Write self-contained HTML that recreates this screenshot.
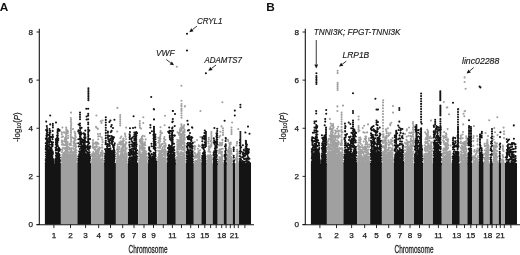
<!DOCTYPE html>
<html><head><meta charset="utf-8"><title>Manhattan plots</title>
<style>
html,body{margin:0;padding:0;background:#fff;}
body{width:520px;height:255px;overflow:hidden;}
svg{display:block;}
text{font-family:"Liberation Sans",Arial,Helvetica,sans-serif;fill:#1a1a1a;}
.tk{font-size:8.1px;stroke:#1a1a1a;stroke-width:0.25px;}
.ax{font-size:10.9px;fill:#222;stroke:#222;stroke-width:0.3px;}
.ay{font-size:8.3px;fill:#222;stroke:#222;stroke-width:0.2px;}
.an{font-size:8.5px;font-style:italic;stroke:#1a1a1a;stroke-width:0.15px;}
.pl{font-size:11.8px;font-weight:bold;fill:#111;}
</style></head><body>
<svg width="520" height="255" viewBox="0 0 520 255">
<rect width="520" height="255" fill="#fff"/>
<rect x="44.90" y="163.15" width="16.00" height="61.35" fill="#141414"/>
<rect x="60.90" y="163.15" width="16.50" height="61.35" fill="#a0a0a0"/>
<rect x="77.40" y="163.15" width="13.60" height="61.35" fill="#141414"/>
<rect x="91.00" y="163.15" width="13.15" height="61.35" fill="#a0a0a0"/>
<rect x="104.15" y="163.15" width="11.75" height="61.35" fill="#141414"/>
<rect x="115.90" y="163.15" width="12.00" height="61.35" fill="#a0a0a0"/>
<rect x="127.90" y="163.15" width="10.20" height="61.35" fill="#141414"/>
<rect x="138.10" y="163.15" width="9.90" height="61.35" fill="#a0a0a0"/>
<rect x="148.00" y="163.15" width="9.30" height="61.35" fill="#141414"/>
<rect x="157.30" y="163.15" width="9.60" height="61.35" fill="#a0a0a0"/>
<rect x="166.90" y="163.15" width="8.90" height="61.35" fill="#141414"/>
<rect x="175.80" y="163.15" width="10.20" height="61.35" fill="#a0a0a0"/>
<rect x="186.00" y="163.15" width="7.80" height="61.35" fill="#141414"/>
<rect x="193.80" y="163.15" width="7.60" height="61.35" fill="#a0a0a0"/>
<rect x="201.40" y="163.15" width="5.00" height="61.35" fill="#141414"/>
<rect x="206.40" y="163.15" width="6.30" height="61.35" fill="#a0a0a0"/>
<rect x="212.70" y="163.15" width="5.00" height="61.35" fill="#141414"/>
<rect x="217.70" y="163.15" width="6.00" height="61.35" fill="#a0a0a0"/>
<rect x="223.70" y="163.15" width="3.10" height="61.35" fill="#141414"/>
<rect x="226.80" y="163.15" width="6.00" height="61.35" fill="#a0a0a0"/>
<rect x="232.80" y="163.15" width="2.30" height="61.35" fill="#141414"/>
<rect x="235.10" y="163.15" width="3.90" height="61.35" fill="#a0a0a0"/>
<rect x="239.00" y="163.15" width="12.00" height="61.35" fill="#141414"/>
<path d="M74.2 157.0h.01M69.5 152.3h.01M64.4 132.7h.01M64.2 148.5h.01M65.3 154.6h.01M73.2 158.3h.01M73.4 148.2h.01M69.0 161.5h.01M70.3 161.7h.01M62.3 157.1h.01M72.3 154.9h.01M74.6 155.5h.01M64.0 162.3h.01M69.1 164.2h.01M68.3 158.4h.01M73.5 161.2h.01M75.1 163.6h.01M69.8 155.6h.01M65.3 148.0h.01M66.4 162.7h.01M66.4 163.9h.01M69.5 154.2h.01M70.5 161.1h.01M73.9 163.4h.01M65.5 162.4h.01M72.0 162.5h.01M73.4 145.8h.01M67.8 163.7h.01M65.0 159.6h.01M62.4 127.5h.01M73.0 157.3h.01M63.9 132.4h.01M62.4 150.1h.01M74.9 161.5h.01M67.6 162.8h.01M68.0 160.7h.01M62.3 163.5h.01M73.0 129.1h.01M65.5 161.6h.01M65.4 156.0h.01M75.5 157.9h.01M66.8 159.6h.01M70.8 137.4h.01M71.4 159.0h.01M66.8 163.7h.01M74.5 152.0h.01M74.8 155.0h.01M67.6 157.9h.01M67.4 145.0h.01M65.0 148.5h.01M64.5 159.9h.01M64.2 156.0h.01M65.0 162.0h.01M66.3 157.8h.01M76.4 158.2h.01M74.5 152.5h.01M67.4 162.0h.01M72.0 163.6h.01M65.8 159.6h.01M64.5 164.2h.01M67.6 161.2h.01M72.3 137.5h.01M67.1 161.1h.01M75.6 162.6h.01M73.1 159.7h.01M75.1 150.9h.01M66.5 164.1h.01M63.0 159.3h.01M66.6 142.0h.01M69.4 149.0h.01M67.6 163.8h.01M62.4 161.5h.01M70.6 162.6h.01M66.4 164.0h.01M69.8 158.6h.01M72.2 162.8h.01M72.5 161.2h.01M64.0 152.9h.01M65.9 162.0h.01M67.8 151.3h.01M74.5 159.2h.01M66.1 161.7h.01M65.0 159.9h.01M62.2 163.9h.01M70.1 153.9h.01M76.1 147.1h.01M71.7 160.7h.01M65.0 138.1h.01M71.6 152.1h.01M74.6 131.9h.01M71.1 161.6h.01M68.1 163.4h.01M62.7 159.1h.01M66.6 159.3h.01M65.9 157.2h.01M67.7 162.5h.01M64.3 157.6h.01M65.3 152.9h.01M66.8 163.3h.01M64.0 158.6h.01M72.1 155.2h.01M72.1 155.9h.01M67.6 164.1h.01M62.7 159.6h.01M62.6 158.9h.01M70.4 157.2h.01M66.6 157.7h.01M62.1 161.3h.01M74.9 159.9h.01M65.6 155.6h.01M64.5 152.8h.01M70.8 157.7h.01M67.1 132.0h.01M75.7 155.4h.01M71.0 148.9h.01M67.8 154.2h.01M65.9 158.7h.01M74.7 145.9h.01M61.8 132.4h.01M61.8 134.4h.01M61.8 137.3h.01M61.8 140.5h.01M61.8 142.3h.01M61.9 144.6h.01M61.8 149.6h.01M61.9 152.3h.01M61.8 157.5h.01M61.8 159.8h.01M61.9 161.6h.01M61.8 163.7h.01M62.1 152.0h.01M62.4 154.7h.01M62.5 156.7h.01M62.2 159.4h.01M62.2 161.5h.01M62.4 163.9h.01M63.0 136.5h.01M62.8 141.3h.01M62.7 143.6h.01M63.1 144.9h.01M62.9 147.7h.01M63.0 154.3h.01M62.7 155.7h.01M62.7 158.2h.01M62.9 159.9h.01M62.8 162.0h.01M63.4 154.2h.01M63.5 157.0h.01M63.3 158.4h.01M63.6 160.6h.01M63.5 162.2h.01M63.3 164.1h.01M64.3 152.8h.01M64.5 155.6h.01M64.4 157.7h.01M64.3 159.5h.01M64.2 161.8h.01M64.7 139.9h.01M64.8 141.4h.01M64.7 145.0h.01M65.1 147.7h.01M65.2 157.6h.01M64.9 159.5h.01M65.0 162.2h.01M64.9 163.8h.01M65.6 140.0h.01M65.5 142.8h.01M65.5 149.7h.01M65.4 151.5h.01M65.6 153.6h.01M65.6 157.2h.01M65.9 159.7h.01M65.5 161.6h.01M65.5 163.5h.01M66.3 138.9h.01M66.4 141.8h.01M66.4 150.2h.01M66.4 153.9h.01M66.2 155.8h.01M66.3 158.0h.01M66.3 159.3h.01M66.5 161.5h.01M66.6 163.0h.01M67.1 130.0h.01M67.0 133.5h.01M67.0 144.1h.01M67.1 146.1h.01M66.9 147.6h.01M67.0 149.0h.01M67.0 151.0h.01M67.0 155.8h.01M66.7 157.2h.01M67.1 158.5h.01M66.7 161.1h.01M66.9 163.0h.01M67.3 146.2h.01M67.2 152.0h.01M67.2 154.4h.01M67.4 155.8h.01M67.6 157.6h.01M67.3 159.9h.01M67.2 161.7h.01M67.5 163.9h.01M68.0 131.4h.01M67.8 133.0h.01M68.1 135.7h.01M68.1 138.1h.01M67.7 142.1h.01M67.9 144.0h.01M68.0 146.9h.01M67.9 149.2h.01M67.9 152.2h.01M67.7 157.0h.01M67.9 159.7h.01M68.0 161.6h.01M68.2 163.3h.01M68.5 147.0h.01M68.7 155.1h.01M68.8 157.4h.01M68.5 158.7h.01M68.8 161.0h.01M68.4 162.5h.01M69.1 157.5h.01M69.4 159.5h.01M69.0 162.3h.01M69.3 164.1h.01M70.0 143.5h.01M69.9 144.9h.01M69.7 148.2h.01M70.0 149.8h.01M70.0 156.7h.01M69.9 159.3h.01M70.1 160.6h.01M69.8 163.0h.01M70.2 152.0h.01M70.6 153.6h.01M70.5 155.4h.01M70.4 158.1h.01M70.3 160.1h.01M70.3 161.8h.01M70.4 163.6h.01M71.0 154.5h.01M70.8 156.4h.01M71.0 158.2h.01M71.0 159.8h.01M71.2 161.0h.01M71.2 162.2h.01M70.9 164.1h.01M71.6 148.1h.01M71.4 150.6h.01M71.7 152.2h.01M71.7 156.0h.01M71.8 157.3h.01M71.8 159.1h.01M71.4 161.6h.01M71.7 164.1h.01M72.1 156.0h.01M72.4 158.5h.01M72.1 161.3h.01M72.5 163.8h.01M73.0 152.1h.01M73.1 153.4h.01M72.7 155.7h.01M73.1 157.2h.01M72.8 159.3h.01M73.1 161.2h.01M72.9 162.6h.01M72.9 163.9h.01M73.8 138.6h.01M73.5 141.5h.01M73.6 143.3h.01M73.6 145.5h.01M73.6 149.5h.01M73.7 152.3h.01M73.8 153.9h.01M73.4 156.1h.01M73.8 158.7h.01M73.7 160.6h.01M73.6 163.5h.01M74.3 152.4h.01M74.1 155.8h.01M74.3 157.3h.01M74.3 159.8h.01M74.2 161.4h.01M74.3 163.6h.01M75.1 133.3h.01M75.1 135.7h.01M74.8 138.1h.01M74.8 139.4h.01M74.7 141.1h.01M74.8 143.1h.01M75.1 144.8h.01M74.8 155.8h.01M74.8 157.1h.01M74.9 159.7h.01M75.1 161.5h.01M74.8 163.6h.01M75.4 134.2h.01M75.8 137.0h.01M75.7 139.7h.01M75.6 147.3h.01M75.5 148.8h.01M75.7 150.8h.01M75.4 152.7h.01M75.9 154.7h.01M75.5 156.9h.01M75.8 158.7h.01M75.8 161.5h.01M75.4 164.2h.01M76.3 143.5h.01M76.0 146.3h.01M76.4 150.2h.01M76.3 152.6h.01M76.4 156.3h.01M76.2 159.1h.01M76.0 160.9h.01M76.3 163.4h.01M102.7 156.1h.01M94.7 143.4h.01M95.5 156.0h.01M100.3 162.4h.01M95.7 149.5h.01M99.8 158.7h.01M97.2 150.8h.01M93.0 163.0h.01M101.3 162.4h.01M99.2 157.2h.01M96.1 159.6h.01M103.0 162.3h.01M93.4 154.6h.01M98.7 151.7h.01M100.6 154.4h.01M101.8 154.6h.01M96.5 127.8h.01M96.1 153.4h.01M96.1 158.8h.01M95.9 153.5h.01M101.5 159.8h.01M99.6 147.5h.01M96.3 145.0h.01M94.8 153.6h.01M93.0 160.4h.01M102.4 147.6h.01M96.2 160.6h.01M93.5 163.0h.01M102.0 153.7h.01M94.8 163.4h.01M94.5 149.5h.01M95.9 142.4h.01M94.2 157.6h.01M96.7 160.8h.01M100.2 160.9h.01M99.2 164.0h.01M95.6 147.4h.01M93.3 162.1h.01M100.9 163.5h.01M92.1 154.7h.01M98.7 158.0h.01M92.3 160.3h.01M95.9 158.6h.01M96.0 126.9h.01M101.8 137.6h.01M93.3 155.4h.01M92.9 147.1h.01M91.9 156.1h.01M92.1 159.7h.01M91.9 162.2h.01M92.6 146.5h.01M92.4 153.7h.01M92.8 154.9h.01M92.5 156.7h.01M92.7 158.8h.01M92.7 160.6h.01M92.3 161.8h.01M93.1 140.1h.01M92.9 142.0h.01M93.1 143.9h.01M92.9 145.3h.01M92.8 147.4h.01M93.2 152.1h.01M93.1 155.0h.01M92.9 159.1h.01M93.2 160.7h.01M92.9 162.7h.01M93.1 164.3h.01M93.6 148.1h.01M93.4 152.2h.01M93.5 153.5h.01M93.6 154.7h.01M93.5 158.8h.01M93.6 160.5h.01M93.4 163.1h.01M93.9 156.1h.01M94.0 160.2h.01M94.2 162.0h.01M94.3 163.7h.01M94.8 146.9h.01M94.6 153.8h.01M94.8 155.4h.01M95.0 158.2h.01M94.9 159.6h.01M94.6 161.3h.01M94.8 162.6h.01M95.4 159.0h.01M95.3 160.7h.01M95.2 162.4h.01M95.9 150.7h.01M96.0 151.9h.01M95.8 154.0h.01M96.0 156.5h.01M95.9 161.5h.01M95.9 163.6h.01M96.5 144.0h.01M96.6 146.8h.01M96.7 153.2h.01M96.7 157.6h.01M96.8 160.0h.01M96.6 162.1h.01M96.8 163.9h.01M97.0 154.0h.01M97.1 156.0h.01M96.9 161.5h.01M97.1 163.1h.01M97.4 142.6h.01M97.5 146.8h.01M97.4 151.1h.01M97.7 156.4h.01M97.5 158.9h.01M97.5 161.0h.01M97.9 163.2h.01M97.9 128.9h.01M97.9 134.0h.01M98.3 136.4h.01M98.2 139.3h.01M98.1 149.1h.01M97.9 151.5h.01M98.0 152.7h.01M98.1 154.3h.01M98.3 159.0h.01M98.2 161.2h.01M97.9 163.0h.01M98.4 143.9h.01M98.8 150.6h.01M98.6 159.5h.01M98.5 160.7h.01M98.5 163.6h.01M99.1 149.8h.01M98.9 155.1h.01M99.3 156.3h.01M99.1 158.0h.01M98.9 159.6h.01M99.2 161.4h.01M99.1 163.9h.01M99.8 160.6h.01M99.6 162.9h.01M100.1 133.9h.01M100.2 136.2h.01M100.1 148.1h.01M100.5 153.0h.01M100.3 156.8h.01M100.6 159.4h.01M100.5 161.7h.01M100.5 164.1h.01M101.1 152.6h.01M100.7 156.2h.01M100.7 161.9h.01M101.0 163.3h.01M101.5 153.5h.01M101.6 154.7h.01M101.4 160.4h.01M101.4 162.6h.01M102.4 139.8h.01M102.1 144.7h.01M102.1 147.4h.01M102.1 150.5h.01M102.2 152.1h.01M102.2 154.4h.01M102.3 155.7h.01M102.3 158.9h.01M102.2 160.1h.01M102.3 162.5h.01M102.2 164.1h.01M102.6 142.1h.01M102.6 152.3h.01M103.0 153.7h.01M102.6 156.0h.01M102.6 158.2h.01M103.0 160.4h.01M102.7 163.0h.01M124.9 162.3h.01M123.3 154.2h.01M120.5 163.5h.01M117.9 150.6h.01M121.0 163.9h.01M123.2 144.3h.01M117.6 161.6h.01M125.4 145.4h.01M118.9 151.7h.01M116.9 149.8h.01M120.1 162.4h.01M117.2 131.5h.01M124.3 162.5h.01M119.5 149.3h.01M125.5 163.5h.01M126.1 127.6h.01M117.7 155.6h.01M123.4 150.3h.01M124.5 145.7h.01M126.8 157.0h.01M121.3 157.9h.01M124.8 153.8h.01M126.4 155.1h.01M125.9 161.0h.01M120.3 142.3h.01M122.9 164.0h.01M126.6 154.2h.01M124.2 155.8h.01M118.5 149.5h.01M121.3 152.9h.01M119.6 161.8h.01M124.3 159.6h.01M120.1 156.0h.01M124.8 163.8h.01M125.3 149.7h.01M117.4 148.2h.01M121.5 160.9h.01M125.2 160.7h.01M116.9 162.0h.01M117.3 158.1h.01M123.0 164.0h.01M122.3 154.7h.01M122.5 163.6h.01M119.9 156.6h.01M118.4 161.7h.01M120.5 157.5h.01M123.7 155.1h.01M123.0 161.0h.01M124.4 161.2h.01M122.9 162.0h.01M125.0 150.4h.01M126.1 156.4h.01M124.9 133.6h.01M123.2 161.1h.01M118.6 162.9h.01M123.4 163.3h.01M126.2 159.2h.01M122.2 147.2h.01M120.1 160.0h.01M117.9 163.8h.01M119.8 142.9h.01M126.8 164.3h.01M124.7 159.4h.01M126.7 158.0h.01M121.6 163.5h.01M117.0 153.5h.01M120.3 138.3h.01M117.6 152.5h.01M116.9 158.7h.01M116.9 160.8h.01M116.8 162.9h.01M116.8 164.3h.01M117.5 153.3h.01M117.3 154.8h.01M117.1 156.7h.01M117.3 159.1h.01M117.2 161.7h.01M117.3 163.5h.01M117.7 144.5h.01M117.7 146.6h.01M118.0 148.7h.01M117.7 152.0h.01M118.1 154.2h.01M117.6 155.8h.01M117.7 157.8h.01M117.9 159.3h.01M117.9 160.7h.01M117.9 162.3h.01M118.6 151.5h.01M118.4 155.9h.01M118.6 157.2h.01M118.8 158.6h.01M118.6 160.0h.01M118.5 161.2h.01M118.4 162.9h.01M118.5 164.2h.01M119.4 142.3h.01M119.2 144.0h.01M119.4 147.1h.01M119.4 156.9h.01M119.5 159.0h.01M119.3 160.7h.01M119.3 162.5h.01M119.3 163.7h.01M120.0 156.3h.01M119.9 158.5h.01M120.1 160.6h.01M120.0 162.5h.01M120.8 151.5h.01M120.7 154.3h.01M120.7 157.0h.01M120.5 159.7h.01M120.7 162.5h.01M121.3 136.6h.01M121.0 141.4h.01M121.2 142.9h.01M121.0 144.7h.01M121.5 148.4h.01M121.4 150.3h.01M121.4 155.8h.01M121.3 157.1h.01M121.1 159.9h.01M121.2 161.9h.01M121.1 164.2h.01M121.8 153.8h.01M121.7 155.5h.01M121.9 157.8h.01M121.9 160.6h.01M121.9 162.4h.01M122.4 141.9h.01M122.7 144.0h.01M122.8 145.8h.01M122.6 147.2h.01M122.7 150.9h.01M122.4 152.4h.01M122.6 154.0h.01M122.5 158.1h.01M122.5 160.6h.01M122.8 162.1h.01M122.6 164.0h.01M123.1 138.9h.01M123.1 140.5h.01M122.9 142.1h.01M123.0 143.7h.01M123.0 149.0h.01M123.3 150.7h.01M123.0 154.5h.01M123.1 156.5h.01M123.0 157.9h.01M123.3 159.6h.01M123.0 161.0h.01M123.2 162.6h.01M123.5 138.6h.01M123.9 140.7h.01M123.5 147.4h.01M123.7 157.7h.01M123.6 160.5h.01M123.6 163.1h.01M123.9 157.5h.01M124.0 159.2h.01M124.2 160.5h.01M124.2 162.0h.01M124.9 144.3h.01M124.9 147.0h.01M124.9 149.8h.01M124.7 152.2h.01M124.8 157.8h.01M124.9 159.3h.01M124.6 161.8h.01M124.5 163.8h.01M125.3 135.0h.01M125.5 136.7h.01M125.4 146.0h.01M125.2 149.2h.01M125.6 151.3h.01M125.2 153.6h.01M125.4 157.1h.01M125.2 159.0h.01M125.3 160.6h.01M125.3 162.4h.01M126.0 139.2h.01M125.9 142.3h.01M125.6 144.6h.01M125.9 148.3h.01M125.7 149.9h.01M126.1 154.7h.01M125.8 157.3h.01M125.9 160.2h.01M125.7 162.4h.01M125.9 164.2h.01M126.3 142.9h.01M126.7 148.3h.01M126.7 153.4h.01M126.8 155.3h.01M126.5 157.5h.01M126.4 159.7h.01M126.6 161.4h.01M126.5 162.7h.01M146.4 163.0h.01M144.0 160.0h.01M146.7 163.7h.01M144.5 136.3h.01M142.8 153.0h.01M140.8 157.7h.01M145.8 162.6h.01M145.0 154.7h.01M142.3 150.3h.01M141.5 156.0h.01M142.5 153.2h.01M141.4 148.3h.01M139.7 159.3h.01M140.7 163.9h.01M142.4 164.2h.01M146.1 159.4h.01M147.0 163.9h.01M145.7 163.3h.01M141.0 159.7h.01M141.9 154.5h.01M140.1 164.2h.01M144.8 152.5h.01M141.0 128.6h.01M143.2 160.0h.01M142.3 160.9h.01M141.0 138.7h.01M146.4 158.6h.01M145.6 158.1h.01M141.8 156.4h.01M144.3 151.0h.01M147.1 159.3h.01M145.9 163.3h.01M144.7 151.0h.01M145.1 157.6h.01M144.4 163.9h.01M139.1 151.9h.01M139.0 153.9h.01M139.0 156.4h.01M139.2 159.0h.01M139.1 160.8h.01M139.0 163.0h.01M139.9 140.0h.01M139.7 141.3h.01M139.7 145.6h.01M139.8 147.7h.01M139.9 149.1h.01M139.6 150.7h.01M139.7 155.4h.01M139.8 160.9h.01M139.6 162.3h.01M140.5 143.1h.01M140.2 146.6h.01M140.2 152.3h.01M140.4 154.0h.01M140.1 155.2h.01M140.3 157.0h.01M140.2 159.7h.01M140.1 162.6h.01M141.0 159.1h.01M141.1 161.2h.01M141.0 162.7h.01M141.2 139.7h.01M141.2 141.4h.01M141.4 143.3h.01M141.7 144.6h.01M141.4 146.7h.01M141.3 148.5h.01M141.5 155.8h.01M141.2 158.2h.01M141.5 160.2h.01M141.2 161.4h.01M141.3 163.5h.01M141.9 136.7h.01M141.9 138.0h.01M141.9 139.5h.01M142.1 142.1h.01M142.1 144.7h.01M142.3 145.9h.01M142.1 148.1h.01M142.1 150.1h.01M141.9 160.5h.01M141.8 163.1h.01M142.7 135.7h.01M142.7 139.2h.01M142.7 141.6h.01M142.7 143.0h.01M142.4 144.5h.01M142.5 146.7h.01M142.6 149.5h.01M142.4 150.8h.01M142.4 153.0h.01M142.5 156.8h.01M142.6 158.5h.01M142.6 159.9h.01M142.4 161.6h.01M142.7 162.9h.01M143.2 143.8h.01M143.1 145.0h.01M143.1 148.7h.01M143.2 153.8h.01M143.2 156.4h.01M143.2 159.0h.01M142.9 160.2h.01M142.8 161.8h.01M143.7 153.0h.01M143.4 155.2h.01M143.5 159.7h.01M143.5 162.1h.01M144.1 145.2h.01M143.8 147.5h.01M144.1 149.0h.01M143.9 151.6h.01M143.9 153.5h.01M144.0 156.9h.01M144.1 159.0h.01M144.3 161.2h.01M144.1 163.4h.01M144.8 143.9h.01M144.4 150.0h.01M144.4 152.0h.01M144.4 154.5h.01M144.6 157.8h.01M144.4 159.0h.01M144.8 160.8h.01M144.5 162.7h.01M145.0 142.2h.01M145.3 145.2h.01M144.9 148.0h.01M145.3 151.8h.01M145.3 153.9h.01M145.2 155.4h.01M145.0 159.5h.01M144.9 161.8h.01M144.9 164.2h.01M145.7 139.4h.01M145.9 151.3h.01M145.7 152.7h.01M145.5 155.5h.01M145.6 156.8h.01M145.8 158.6h.01M145.5 161.4h.01M145.6 163.8h.01M146.3 157.6h.01M146.3 160.4h.01M146.0 162.9h.01M146.7 153.9h.01M146.8 156.7h.01M146.7 157.9h.01M146.8 162.0h.01M146.6 164.3h.01M161.6 158.2h.01M165.2 150.4h.01M163.7 158.0h.01M162.5 155.7h.01M160.4 161.8h.01M165.9 161.3h.01M159.9 164.1h.01M164.6 162.0h.01M160.6 152.7h.01M163.4 163.2h.01M163.2 150.0h.01M162.9 151.2h.01M164.4 164.0h.01M159.5 143.0h.01M165.9 159.3h.01M164.6 125.2h.01M159.4 145.0h.01M164.6 142.6h.01M165.3 162.0h.01M165.3 146.8h.01M158.9 140.5h.01M164.5 162.4h.01M160.9 162.4h.01M164.7 148.1h.01M161.4 159.0h.01M166.0 151.9h.01M160.9 154.0h.01M159.7 161.5h.01M163.8 154.5h.01M164.0 161.7h.01M162.7 154.7h.01M161.4 156.5h.01M162.4 164.2h.01M165.1 153.0h.01M158.4 137.8h.01M158.2 142.5h.01M158.2 147.6h.01M158.3 150.7h.01M158.2 157.5h.01M158.2 159.6h.01M158.3 161.8h.01M158.3 163.2h.01M158.9 154.2h.01M159.0 156.1h.01M158.7 161.2h.01M159.0 163.2h.01M159.5 140.8h.01M159.4 145.0h.01M159.6 147.8h.01M159.5 150.7h.01M159.5 152.1h.01M159.5 153.4h.01M159.3 155.2h.01M159.6 156.6h.01M159.6 158.9h.01M159.3 161.5h.01M159.2 163.6h.01M160.1 137.7h.01M159.8 138.9h.01M159.8 146.7h.01M160.1 147.9h.01M160.1 150.8h.01M159.9 153.2h.01M160.0 154.8h.01M159.6 156.3h.01M159.7 158.1h.01M159.7 159.4h.01M159.8 162.2h.01M159.7 163.5h.01M160.5 127.3h.01M160.6 131.1h.01M160.3 132.6h.01M160.5 134.7h.01M160.2 136.4h.01M160.4 138.9h.01M160.3 141.2h.01M160.5 145.5h.01M160.5 151.3h.01M160.3 156.8h.01M160.5 159.9h.01M160.5 162.2h.01M160.8 146.1h.01M161.1 152.4h.01M161.2 159.3h.01M161.1 161.5h.01M160.9 163.3h.01M161.7 144.4h.01M161.6 152.2h.01M161.6 156.1h.01M161.7 159.8h.01M161.8 162.5h.01M161.4 164.1h.01M162.3 148.9h.01M161.9 150.6h.01M162.1 152.3h.01M161.9 154.5h.01M162.2 157.2h.01M162.2 159.9h.01M162.1 161.5h.01M162.8 143.8h.01M162.7 147.3h.01M163.0 149.9h.01M162.6 151.5h.01M163.0 155.1h.01M162.6 159.6h.01M163.0 162.1h.01M163.0 164.2h.01M163.5 154.5h.01M163.4 159.9h.01M163.3 162.0h.01M163.4 163.8h.01M164.4 137.0h.01M164.0 138.7h.01M164.2 141.4h.01M164.2 145.7h.01M164.0 149.8h.01M164.2 152.0h.01M164.0 153.6h.01M164.0 155.2h.01M164.3 160.1h.01M163.9 161.9h.01M164.2 163.4h.01M165.0 157.4h.01M164.9 159.1h.01M165.0 161.7h.01M164.8 163.3h.01M165.4 139.7h.01M165.4 143.7h.01M165.6 145.4h.01M165.3 149.7h.01M165.6 151.1h.01M165.6 152.9h.01M165.6 154.4h.01M165.5 156.5h.01M165.6 160.8h.01M165.5 162.2h.01M182.4 158.6h.01M178.7 157.4h.01M183.0 162.0h.01M183.2 155.5h.01M180.4 162.1h.01M178.2 163.1h.01M179.0 159.9h.01M177.6 132.3h.01M177.5 156.8h.01M177.6 141.7h.01M179.4 144.1h.01M177.5 159.7h.01M177.3 154.1h.01M181.2 152.8h.01M182.2 161.0h.01M177.2 151.5h.01M184.1 138.8h.01M184.5 147.6h.01M177.8 160.0h.01M184.4 158.4h.01M177.6 152.5h.01M183.5 149.8h.01M182.1 157.9h.01M180.3 142.9h.01M181.5 148.1h.01M183.8 148.3h.01M178.3 162.7h.01M179.6 155.1h.01M176.7 160.7h.01M185.1 158.2h.01M178.5 158.9h.01M181.7 159.5h.01M178.1 164.1h.01M179.8 156.6h.01M177.8 151.9h.01M184.4 163.7h.01M182.1 149.8h.01M178.3 154.7h.01M180.4 162.7h.01M180.6 152.3h.01M177.4 157.1h.01M178.7 133.4h.01M183.5 159.2h.01M179.8 133.7h.01M183.8 158.1h.01M177.7 157.3h.01M179.5 161.8h.01M177.2 164.3h.01M183.7 140.9h.01M179.3 145.9h.01M184.6 159.9h.01M180.3 163.8h.01M182.9 159.6h.01M185.1 152.3h.01M181.8 128.9h.01M181.7 138.3h.01M181.0 161.9h.01M184.3 161.1h.01M176.7 157.3h.01M176.7 159.2h.01M176.7 161.1h.01M176.8 163.2h.01M177.3 139.7h.01M177.2 142.2h.01M177.3 144.2h.01M177.3 146.0h.01M177.3 148.0h.01M177.2 149.5h.01M177.0 152.0h.01M177.4 158.1h.01M177.1 160.1h.01M177.4 161.8h.01M177.4 164.3h.01M178.1 154.9h.01M177.9 156.9h.01M177.9 158.5h.01M177.8 160.2h.01M177.9 163.1h.01M178.6 141.8h.01M178.4 144.2h.01M178.7 146.4h.01M178.5 149.0h.01M178.3 151.5h.01M178.6 153.4h.01M178.3 157.2h.01M178.4 159.5h.01M178.4 161.9h.01M179.0 134.8h.01M178.9 140.4h.01M179.3 143.8h.01M178.9 145.7h.01M179.1 147.3h.01M179.2 149.2h.01M178.9 157.1h.01M178.9 159.7h.01M179.2 162.3h.01M179.3 164.2h.01M179.8 143.4h.01M179.3 145.2h.01M179.4 147.2h.01M179.7 149.6h.01M179.6 154.3h.01M179.4 156.2h.01M179.6 157.6h.01M179.4 160.4h.01M179.4 161.9h.01M180.1 156.5h.01M180.1 158.1h.01M180.2 160.2h.01M180.0 162.8h.01M180.7 134.0h.01M180.8 135.8h.01M180.9 142.3h.01M180.7 145.0h.01M180.9 147.7h.01M180.5 153.9h.01M180.6 156.2h.01M180.7 158.9h.01M180.7 160.5h.01M180.6 162.0h.01M180.7 163.4h.01M181.3 140.5h.01M181.1 143.8h.01M181.2 145.4h.01M181.4 147.0h.01M181.4 148.4h.01M181.1 152.1h.01M181.3 156.9h.01M181.4 158.9h.01M181.3 160.2h.01M181.2 162.1h.01M181.8 144.2h.01M181.8 146.9h.01M181.9 149.5h.01M181.8 154.0h.01M181.9 159.1h.01M182.0 161.5h.01M181.8 163.0h.01M182.2 154.6h.01M182.2 157.2h.01M182.3 159.9h.01M182.5 161.4h.01M182.3 164.1h.01M183.0 142.4h.01M182.9 147.1h.01M182.8 149.4h.01M182.9 152.6h.01M182.6 155.2h.01M182.6 157.4h.01M182.9 159.9h.01M182.6 161.2h.01M182.9 164.0h.01M183.5 131.4h.01M183.7 132.6h.01M183.6 134.1h.01M183.6 136.6h.01M183.5 139.2h.01M183.4 143.5h.01M183.6 147.5h.01M183.7 153.5h.01M183.6 157.5h.01M183.4 159.8h.01M183.5 161.2h.01M183.3 162.5h.01M183.8 164.0h.01M184.0 148.0h.01M184.3 149.6h.01M184.1 157.9h.01M184.0 159.1h.01M183.9 161.6h.01M184.2 163.7h.01M184.5 132.3h.01M184.6 134.9h.01M184.7 137.9h.01M184.6 139.7h.01M184.4 143.8h.01M184.8 145.6h.01M184.6 148.4h.01M184.6 150.6h.01M184.6 154.6h.01M184.6 155.9h.01M184.9 158.5h.01M184.8 161.0h.01M184.7 162.8h.01M200.3 160.3h.01M199.0 160.9h.01M194.7 147.4h.01M196.6 157.6h.01M195.2 146.2h.01M194.8 152.8h.01M197.5 154.6h.01M200.4 137.0h.01M198.8 146.3h.01M198.1 159.4h.01M199.0 158.6h.01M194.7 141.9h.01M194.8 145.8h.01M194.8 148.0h.01M194.7 149.6h.01M194.9 153.5h.01M194.9 156.3h.01M194.8 158.0h.01M194.7 162.1h.01M195.5 160.7h.01M195.5 162.1h.01M195.8 155.2h.01M195.6 157.2h.01M195.8 162.1h.01M196.7 160.7h.01M196.5 164.0h.01M197.2 154.2h.01M197.0 155.7h.01M197.0 157.3h.01M197.0 161.3h.01M197.2 162.6h.01M197.8 148.7h.01M197.8 154.2h.01M197.6 156.6h.01M198.7 145.3h.01M198.6 151.3h.01M198.4 152.6h.01M198.3 154.1h.01M198.6 156.2h.01M198.6 159.1h.01M198.5 163.7h.01M199.0 157.4h.01M199.2 159.8h.01M198.9 162.4h.01M198.9 164.3h.01M199.8 146.3h.01M200.0 150.3h.01M199.8 153.0h.01M199.6 154.2h.01M199.6 156.0h.01M199.6 157.3h.01M200.0 160.6h.01M199.6 162.1h.01M200.3 159.8h.01M200.2 162.6h.01M210.6 157.1h.01M211.4 161.1h.01M208.3 163.0h.01M208.1 159.3h.01M208.7 162.9h.01M210.0 164.3h.01M207.9 156.0h.01M209.2 150.2h.01M211.3 156.1h.01M207.8 157.1h.01M208.0 160.1h.01M208.4 141.5h.01M209.3 163.6h.01M210.8 160.1h.01M207.3 156.1h.01M207.3 160.9h.01M207.3 163.2h.01M208.2 155.4h.01M208.1 157.2h.01M208.1 163.1h.01M208.8 137.7h.01M208.8 139.3h.01M208.3 141.6h.01M208.6 143.5h.01M208.8 146.3h.01M208.8 149.1h.01M208.4 151.5h.01M208.7 157.7h.01M208.5 159.4h.01M208.8 161.9h.01M209.2 147.4h.01M209.0 151.5h.01M209.0 156.1h.01M209.1 160.0h.01M209.4 162.9h.01M209.7 158.6h.01M209.8 162.3h.01M209.6 163.9h.01M210.5 141.0h.01M210.5 145.6h.01M210.3 147.4h.01M210.4 152.0h.01M210.3 154.6h.01M210.3 156.6h.01M210.5 158.3h.01M210.4 160.0h.01M210.1 162.2h.01M210.1 163.8h.01M210.8 158.1h.01M211.2 162.1h.01M211.1 163.5h.01M211.4 157.0h.01M211.6 159.2h.01M211.7 163.6h.01M219.8 151.1h.01M221.5 126.4h.01M220.4 131.7h.01M222.7 148.8h.01M222.3 163.2h.01M220.2 135.7h.01M219.0 159.6h.01M220.4 152.6h.01M219.4 159.5h.01M218.8 145.0h.01M219.2 137.2h.01M219.7 158.3h.01M218.9 163.7h.01M218.7 163.1h.01M219.9 161.4h.01M222.4 155.8h.01M222.2 156.9h.01M222.1 158.8h.01M220.2 161.5h.01M218.8 150.7h.01M218.6 153.2h.01M218.6 159.8h.01M218.6 161.6h.01M218.6 163.4h.01M219.0 145.4h.01M219.5 149.6h.01M219.0 150.8h.01M219.3 157.1h.01M219.1 159.5h.01M219.4 161.0h.01M219.3 163.9h.01M219.9 142.9h.01M220.0 144.9h.01M219.6 149.6h.01M219.7 150.8h.01M220.0 152.8h.01M219.8 157.8h.01M220.0 160.6h.01M219.6 162.3h.01M219.6 163.7h.01M220.7 159.2h.01M220.3 160.8h.01M220.8 162.1h.01M220.5 163.8h.01M221.4 143.3h.01M221.0 145.4h.01M221.3 149.1h.01M221.1 151.7h.01M221.1 153.9h.01M221.4 158.8h.01M221.1 160.5h.01M221.4 163.1h.01M221.7 143.2h.01M222.0 145.0h.01M221.8 153.1h.01M221.6 156.4h.01M221.7 157.6h.01M221.6 159.8h.01M221.8 161.3h.01M221.7 162.9h.01M222.4 139.9h.01M222.3 142.6h.01M222.1 144.4h.01M222.1 151.7h.01M222.3 155.2h.01M222.1 160.2h.01M222.3 162.6h.01M222.6 163.9h.01M227.9 139.7h.01M230.1 152.7h.01M228.8 164.3h.01M229.7 163.0h.01M229.0 157.6h.01M231.2 151.9h.01M229.3 164.1h.01M229.9 161.6h.01M230.7 159.5h.01M228.4 159.1h.01M228.9 149.0h.01M231.0 159.1h.01M228.3 159.5h.01M228.2 158.7h.01M227.8 156.0h.01M231.1 162.3h.01M229.6 155.2h.01M228.2 141.0h.01M228.8 161.2h.01M227.7 150.5h.01M227.7 151.8h.01M227.7 154.6h.01M227.9 156.6h.01M227.7 158.1h.01M227.7 159.9h.01M227.7 161.4h.01M227.7 163.7h.01M228.4 152.5h.01M228.5 161.2h.01M228.4 162.5h.01M228.2 163.9h.01M229.1 147.4h.01M229.1 149.1h.01M229.0 150.5h.01M228.8 152.6h.01M228.8 155.2h.01M229.1 159.8h.01M228.7 162.4h.01M228.9 163.8h.01M229.3 143.0h.01M229.6 145.1h.01M229.7 146.8h.01M229.7 148.4h.01M229.6 151.8h.01M229.7 153.5h.01M229.7 154.8h.01M229.2 156.8h.01M229.3 162.4h.01M229.3 164.0h.01M230.2 152.5h.01M230.1 157.5h.01M230.0 160.2h.01M230.1 162.1h.01M230.2 163.7h.01M230.8 142.6h.01M230.7 144.1h.01M230.9 148.8h.01M230.9 150.5h.01M230.7 153.6h.01M230.5 156.3h.01M230.7 157.5h.01M230.7 159.1h.01M230.8 160.6h.01M230.9 163.3h.01M231.1 156.7h.01M231.1 160.5h.01M230.9 162.8h.01M231.6 153.9h.01M231.8 158.0h.01M231.8 159.9h.01M231.9 161.1h.01M231.9 163.9h.01M236.1 158.4h.01M237.2 155.5h.01M237.2 158.7h.01M236.5 145.5h.01M237.6 159.6h.01M237.4 163.6h.01M236.1 159.2h.01M236.6 160.4h.01M236.6 164.0h.01M237.1 141.9h.01M237.0 143.5h.01M237.2 149.8h.01M237.0 151.5h.01M236.8 154.4h.01M236.9 156.4h.01M236.9 160.3h.01M237.0 162.2h.01M237.1 164.3h.01M237.6 151.6h.01M237.9 153.4h.01M237.4 155.3h.01M237.7 156.8h.01M237.8 159.0h.01M237.8 161.9h.01M237.5 164.0h.01M176.8 66.8h.01M181.4 85.8h.01M181.4 100.8h.01M181.4 105.7h.01M185.0 106.2h.01M181.4 109.5h.01M222.4 102.3h.01M117.5 107.8h.01M200.4 111.0h.01M71.0 112.6h.01M96.4 115.5h.01M100.7 121.3h.01M102.5 120.5h.01M101.5 123.0h.01M117.4 108.0h.01M143.3 117.3h.01M143.3 123.0h.01M165.0 115.8h.01M162.0 133.0h.01M184.9 106.4h.01M232.1 122.5h.01M238.2 129.0h.01M197.0 140.0h.01M70.8 118.0h.01M71.1 119.8h.01M70.8 121.6h.01M71.3 123.4h.01M71.1 125.2h.01M71.0 127.0h.01M70.9 128.8h.01M71.0 130.6h.01M71.0 132.4h.01M70.8 134.2h.01M70.8 136.0h.01M71.0 137.8h.01M71.0 139.6h.01M71.1 141.4h.01M70.8 143.2h.01M71.1 145.0h.01M66.2 127.5h.01M66.3 129.3h.01M66.2 131.1h.01M66.1 132.9h.01M66.1 134.7h.01M66.1 136.5h.01M66.2 138.3h.01M66.3 140.1h.01M66.3 141.9h.01M66.1 143.7h.01M66.1 145.5h.01M120.2 115.0h.01M120.2 117.1h.01M120.2 119.2h.01M120.2 121.3h.01M120.2 123.4h.01M120.2 125.5h.01M139.8 121.0h.01M139.8 123.2h.01M139.8 125.4h.01M139.8 127.6h.01M181.5 104.0h.01M181.5 106.3h.01M181.5 108.6h.01M181.5 110.9h.01M181.5 113.2h.01M181.5 115.5h.01M181.5 117.8h.01M181.3 124.4h.01M181.6 126.0h.01M182.5 127.6h.01M181.8 129.2h.01M181.4 130.8h.01M182.8 132.4h.01M181.6 134.0h.01M182.3 135.6h.01M181.5 137.2h.01M181.3 138.8h.01M182.7 140.4h.01M182.7 142.0h.01M182.1 143.6h.01M181.6 145.2h.01M184.2 125.0h.01M183.7 126.6h.01M183.8 128.2h.01M184.6 129.8h.01M184.5 131.4h.01M183.5 133.0h.01M184.4 134.6h.01M184.0 136.2h.01M183.8 137.8h.01M183.9 139.4h.01M183.5 141.0h.01M184.5 142.6h.01M184.0 144.2h.01M184.4 145.8h.01M180.6 128.0h.01M179.8 129.6h.01M180.0 131.2h.01M179.9 132.8h.01M180.5 134.4h.01M180.5 136.0h.01M179.9 137.6h.01M180.3 139.2h.01M180.2 140.8h.01M180.0 142.4h.01M180.6 144.0h.01M180.3 145.6h.01M211.4 132.0h.01M211.4 134.0h.01M211.4 136.0h.01M211.4 138.0h.01M211.4 140.0h.01M211.4 142.0h.01M211.4 144.0h.01M211.4 146.0h.01M223.0 128.3h.01M223.0 130.5h.01M223.0 132.7h.01M223.0 134.9h.01M231.5 127.5h.01M231.5 129.7h.01M231.5 131.9h.01M231.5 134.1h.01" stroke="#a0a0a0" stroke-width="2.1" stroke-linecap="round" fill="none"/>
<path d="M52.4 137.4h.01M53.1 162.2h.01M57.1 154.0h.01M50.1 163.3h.01M57.3 163.4h.01M46.4 152.0h.01M59.5 130.0h.01M48.0 154.4h.01M53.3 164.2h.01M48.5 163.7h.01M46.2 161.5h.01M52.1 157.8h.01M52.9 153.7h.01M52.3 153.0h.01M60.0 160.9h.01M57.7 129.4h.01M49.1 160.4h.01M46.8 160.8h.01M51.5 149.2h.01M51.3 144.8h.01M57.8 131.2h.01M48.8 164.3h.01M52.5 139.2h.01M51.4 137.0h.01M56.9 154.0h.01M47.0 161.1h.01M59.5 160.1h.01M47.5 149.5h.01M47.2 161.4h.01M57.1 163.7h.01M53.7 162.3h.01M48.5 158.2h.01M47.7 150.6h.01M47.5 153.6h.01M48.8 158.6h.01M59.6 161.1h.01M50.1 147.4h.01M48.8 141.8h.01M57.9 159.1h.01M47.2 153.6h.01M48.8 134.8h.01M50.5 148.9h.01M46.8 160.7h.01M54.1 163.4h.01M54.3 161.4h.01M52.2 159.5h.01M52.7 130.9h.01M58.1 155.4h.01M48.0 162.2h.01M57.4 139.4h.01M48.5 161.4h.01M59.2 150.3h.01M59.3 162.1h.01M47.3 158.6h.01M59.5 163.9h.01M55.8 161.5h.01M57.5 161.2h.01M50.0 154.9h.01M56.0 162.3h.01M49.0 163.6h.01M57.9 155.8h.01M49.8 154.4h.01M48.7 138.3h.01M49.6 164.2h.01M46.7 158.2h.01M51.0 162.3h.01M47.7 155.5h.01M58.5 159.7h.01M47.8 155.2h.01M46.1 164.0h.01M55.8 139.2h.01M46.1 130.0h.01M52.6 153.8h.01M50.3 150.6h.01M46.9 131.3h.01M58.6 150.4h.01M55.8 150.4h.01M58.8 147.9h.01M55.5 159.8h.01M58.2 140.2h.01M57.0 158.7h.01M51.2 154.1h.01M54.9 163.5h.01M58.3 129.1h.01M56.2 159.2h.01M52.1 155.3h.01M47.0 145.3h.01M46.2 149.9h.01M52.6 154.7h.01M55.7 161.6h.01M49.4 137.9h.01M50.1 164.2h.01M48.7 152.5h.01M58.7 162.4h.01M52.1 153.1h.01M50.4 141.1h.01M48.6 152.9h.01M57.2 158.5h.01M58.3 138.7h.01M47.7 160.4h.01M57.7 157.2h.01M55.9 144.6h.01M49.7 133.0h.01M52.2 162.4h.01M48.8 161.0h.01M45.8 138.7h.01M45.8 143.3h.01M45.9 145.9h.01M45.9 148.1h.01M45.8 149.3h.01M45.8 152.2h.01M45.9 154.5h.01M46.0 156.8h.01M45.8 159.1h.01M45.8 160.6h.01M45.8 163.0h.01M46.7 143.6h.01M46.4 146.0h.01M46.6 150.1h.01M46.3 154.6h.01M46.5 157.0h.01M46.7 159.5h.01M46.5 162.3h.01M46.8 126.1h.01M47.1 128.0h.01M47.2 130.0h.01M47.1 132.8h.01M47.0 134.3h.01M47.0 142.5h.01M47.2 146.4h.01M46.9 148.6h.01M47.0 155.6h.01M47.0 157.1h.01M47.2 159.3h.01M47.2 161.4h.01M47.1 163.6h.01M47.4 131.0h.01M47.5 135.6h.01M47.8 139.9h.01M47.5 141.1h.01M47.5 143.5h.01M47.7 145.8h.01M47.5 147.2h.01M47.6 148.7h.01M47.6 150.5h.01M47.7 152.0h.01M47.8 154.3h.01M47.5 156.5h.01M47.8 159.0h.01M47.8 160.7h.01M47.8 162.3h.01M47.7 163.7h.01M48.2 145.3h.01M48.2 146.6h.01M48.2 150.7h.01M47.9 154.3h.01M48.1 155.5h.01M47.9 157.7h.01M48.3 159.2h.01M47.9 162.0h.01M48.7 146.1h.01M48.7 151.9h.01M48.5 154.4h.01M48.4 155.8h.01M48.8 158.5h.01M48.6 161.2h.01M48.9 163.4h.01M49.4 132.8h.01M49.2 141.2h.01M49.3 142.4h.01M49.4 144.6h.01M49.3 147.0h.01M49.2 149.1h.01M49.5 154.4h.01M49.3 155.6h.01M49.0 157.3h.01M49.0 158.8h.01M49.2 160.4h.01M49.2 162.5h.01M50.0 151.1h.01M49.7 153.9h.01M49.6 155.9h.01M49.9 158.7h.01M49.7 160.9h.01M49.7 163.2h.01M50.2 147.9h.01M50.6 150.4h.01M50.6 152.9h.01M50.6 155.7h.01M50.6 157.6h.01M50.6 159.2h.01M50.6 161.6h.01M50.2 164.2h.01M50.8 151.5h.01M51.0 155.4h.01M51.0 157.3h.01M51.1 160.2h.01M51.2 161.8h.01M50.9 164.3h.01M51.5 142.1h.01M51.4 147.6h.01M51.7 149.3h.01M51.4 150.6h.01M51.6 154.1h.01M51.6 156.1h.01M51.4 158.6h.01M51.7 160.0h.01M51.6 162.5h.01M51.6 164.1h.01M52.3 143.5h.01M52.4 146.2h.01M52.5 151.2h.01M52.5 152.6h.01M52.2 154.9h.01M52.3 156.7h.01M52.4 158.2h.01M52.6 160.9h.01M52.3 162.8h.01M52.9 123.8h.01M52.9 125.6h.01M53.0 127.5h.01M52.7 134.9h.01M53.0 136.9h.01M53.0 142.3h.01M52.7 144.8h.01M52.8 152.4h.01M53.0 159.1h.01M53.2 161.5h.01M53.0 163.4h.01M53.8 161.2h.01M53.7 163.9h.01M54.4 160.4h.01M54.1 162.9h.01M54.1 164.3h.01M55.0 160.5h.01M54.7 162.1h.01M54.7 163.9h.01M55.5 147.7h.01M55.5 158.9h.01M55.2 160.3h.01M55.2 161.7h.01M55.9 140.7h.01M55.9 142.6h.01M55.9 149.7h.01M56.0 152.9h.01M56.0 155.4h.01M56.2 156.9h.01M56.0 159.0h.01M56.2 160.5h.01M56.2 162.5h.01M56.1 164.1h.01M56.3 143.6h.01M56.7 146.4h.01M56.5 148.5h.01M56.6 155.3h.01M56.3 157.0h.01M56.3 159.1h.01M56.2 161.2h.01M56.7 162.8h.01M57.1 135.6h.01M56.9 138.2h.01M56.9 140.2h.01M57.0 142.3h.01M56.9 144.0h.01M57.1 146.3h.01M57.0 149.9h.01M57.0 154.7h.01M57.2 157.5h.01M57.0 159.4h.01M57.0 162.2h.01M56.9 164.1h.01M57.8 130.5h.01M57.5 132.3h.01M57.7 133.7h.01M57.8 135.5h.01M57.6 137.6h.01M57.5 139.5h.01M57.9 153.0h.01M57.6 154.2h.01M57.9 155.9h.01M57.6 158.5h.01M57.4 160.7h.01M57.7 163.4h.01M58.6 148.7h.01M58.6 151.4h.01M58.3 153.2h.01M58.3 155.9h.01M58.6 158.2h.01M58.5 159.5h.01M58.6 161.2h.01M58.5 163.6h.01M59.1 148.4h.01M58.9 149.9h.01M59.2 154.1h.01M58.9 156.3h.01M58.9 159.0h.01M59.2 161.3h.01M59.0 163.3h.01M59.8 149.2h.01M59.7 150.8h.01M59.6 155.2h.01M59.8 157.6h.01M59.7 159.7h.01M59.7 162.0h.01M83.7 152.6h.01M88.7 161.6h.01M80.1 162.3h.01M84.0 161.3h.01M82.2 148.4h.01M86.0 161.5h.01M84.5 161.2h.01M88.6 161.3h.01M81.0 162.2h.01M82.2 160.6h.01M86.3 150.8h.01M84.7 148.0h.01M87.3 163.5h.01M80.9 161.4h.01M90.0 158.8h.01M82.5 159.5h.01M90.0 139.1h.01M79.9 159.2h.01M87.5 148.1h.01M87.6 160.0h.01M81.7 159.4h.01M87.0 154.9h.01M88.0 157.6h.01M84.2 164.2h.01M79.1 159.3h.01M80.0 138.6h.01M88.7 161.9h.01M89.3 130.6h.01M89.3 160.0h.01M86.7 162.8h.01M80.6 133.9h.01M86.3 162.8h.01M86.9 142.0h.01M83.7 133.2h.01M79.7 159.5h.01M89.4 161.0h.01M80.5 163.6h.01M78.9 159.9h.01M80.5 160.5h.01M84.5 163.0h.01M85.0 156.2h.01M84.5 149.3h.01M79.3 133.6h.01M79.2 161.7h.01M87.3 160.5h.01M84.2 137.4h.01M82.2 162.5h.01M81.8 155.6h.01M89.8 147.9h.01M85.4 157.9h.01M83.8 144.8h.01M89.4 162.1h.01M78.6 124.5h.01M83.0 149.3h.01M80.2 163.8h.01M87.0 162.4h.01M78.5 161.9h.01M87.7 161.8h.01M86.0 157.1h.01M80.5 157.8h.01M81.9 164.2h.01M81.4 163.9h.01M82.7 154.3h.01M85.7 157.7h.01M82.5 160.4h.01M85.2 141.9h.01M84.7 158.7h.01M82.2 157.9h.01M81.1 138.7h.01M88.4 135.7h.01M80.2 142.0h.01M89.9 156.9h.01M80.3 160.8h.01M81.1 150.9h.01M80.2 155.2h.01M81.7 133.6h.01M86.4 163.3h.01M84.9 159.9h.01M89.2 157.2h.01M82.8 156.8h.01M84.2 164.3h.01M85.1 161.1h.01M83.8 153.9h.01M84.2 163.4h.01M85.9 157.5h.01M81.6 127.7h.01M79.3 158.2h.01M81.1 147.5h.01M87.7 145.9h.01M89.0 161.3h.01M83.3 157.0h.01M89.5 155.9h.01M84.0 157.3h.01M88.2 160.8h.01M82.3 157.0h.01M80.8 162.1h.01M87.8 145.6h.01M78.5 130.4h.01M78.3 131.6h.01M78.4 139.2h.01M78.3 143.3h.01M78.5 156.4h.01M78.3 158.7h.01M78.3 160.5h.01M78.4 163.0h.01M78.8 146.4h.01M79.2 151.5h.01M79.2 154.2h.01M79.1 156.4h.01M79.0 158.2h.01M79.1 160.2h.01M79.1 162.3h.01M79.0 164.0h.01M79.5 151.5h.01M79.5 154.3h.01M79.5 156.2h.01M79.5 159.0h.01M79.5 161.3h.01M79.7 163.6h.01M80.3 134.6h.01M80.1 135.9h.01M80.3 140.0h.01M79.9 144.3h.01M79.9 149.0h.01M80.1 152.6h.01M80.1 154.8h.01M80.2 157.1h.01M79.9 158.3h.01M79.9 159.6h.01M80.1 161.0h.01M80.3 162.3h.01M80.6 128.5h.01M80.7 132.1h.01M80.9 134.8h.01M80.7 137.2h.01M80.7 139.2h.01M80.6 141.4h.01M80.7 143.9h.01M80.7 146.6h.01M80.8 151.9h.01M80.9 154.3h.01M80.8 157.1h.01M80.6 159.0h.01M81.0 161.6h.01M80.5 163.3h.01M81.4 139.0h.01M81.6 141.9h.01M81.6 143.2h.01M81.5 145.8h.01M81.3 150.7h.01M81.4 153.1h.01M81.6 155.9h.01M81.7 157.7h.01M81.4 159.3h.01M81.5 161.4h.01M81.3 164.1h.01M82.0 139.2h.01M82.2 142.1h.01M82.1 145.2h.01M81.9 149.4h.01M81.9 151.5h.01M81.9 153.8h.01M81.9 156.5h.01M81.8 158.0h.01M81.9 160.6h.01M81.8 162.6h.01M82.6 139.9h.01M82.6 146.9h.01M82.9 149.1h.01M82.7 150.9h.01M82.6 155.9h.01M82.9 158.3h.01M82.6 160.9h.01M82.5 162.5h.01M83.0 140.9h.01M83.4 142.1h.01M82.9 145.7h.01M83.1 148.0h.01M83.1 152.1h.01M83.1 154.3h.01M83.1 155.9h.01M83.2 157.1h.01M83.4 158.8h.01M83.1 160.8h.01M83.2 163.5h.01M83.8 144.1h.01M83.9 146.1h.01M83.7 150.2h.01M83.7 153.7h.01M83.9 156.4h.01M83.8 158.8h.01M84.0 160.6h.01M84.0 163.5h.01M84.3 134.4h.01M84.6 137.0h.01M84.3 139.6h.01M84.4 141.9h.01M84.5 144.7h.01M84.2 146.9h.01M84.3 151.2h.01M84.4 153.3h.01M84.2 155.6h.01M84.1 157.9h.01M84.6 160.4h.01M84.4 162.5h.01M84.5 164.2h.01M84.7 133.9h.01M84.8 135.2h.01M84.7 138.0h.01M84.9 140.6h.01M84.8 144.1h.01M84.9 146.7h.01M85.1 148.2h.01M85.0 149.8h.01M84.7 152.2h.01M85.0 153.8h.01M84.9 156.2h.01M84.9 158.4h.01M84.8 160.5h.01M84.6 162.3h.01M84.8 163.6h.01M85.3 130.6h.01M85.2 134.8h.01M85.5 137.2h.01M85.3 138.4h.01M85.5 145.9h.01M85.1 147.4h.01M85.1 150.5h.01M85.1 155.9h.01M85.1 157.5h.01M85.2 159.1h.01M85.3 160.6h.01M85.3 162.0h.01M85.1 163.9h.01M85.9 154.2h.01M85.8 157.0h.01M85.9 159.4h.01M85.7 162.1h.01M86.0 163.8h.01M86.8 147.1h.01M86.6 154.2h.01M86.7 156.9h.01M86.4 159.2h.01M86.4 161.0h.01M86.6 163.6h.01M87.3 149.0h.01M87.0 151.9h.01M87.3 154.3h.01M87.0 155.8h.01M86.9 157.0h.01M87.3 158.8h.01M87.2 161.0h.01M87.2 162.6h.01M87.7 146.3h.01M87.9 148.8h.01M87.9 153.1h.01M87.8 154.6h.01M87.9 156.1h.01M87.6 158.4h.01M87.8 159.8h.01M87.9 162.4h.01M88.3 138.3h.01M88.2 139.5h.01M88.4 141.6h.01M88.2 144.2h.01M88.4 149.2h.01M88.5 154.7h.01M88.2 157.0h.01M88.4 159.0h.01M88.2 161.1h.01M88.5 162.5h.01M89.2 143.1h.01M89.1 147.0h.01M88.9 150.0h.01M88.9 152.4h.01M89.2 154.3h.01M89.0 156.3h.01M88.8 159.0h.01M88.9 161.6h.01M89.2 163.1h.01M89.9 146.4h.01M89.8 147.8h.01M89.5 152.3h.01M89.6 154.5h.01M89.8 157.3h.01M90.0 158.6h.01M89.8 160.8h.01M89.5 163.5h.01M113.7 164.0h.01M113.1 152.4h.01M114.1 157.3h.01M113.3 145.5h.01M107.2 147.2h.01M105.6 159.9h.01M109.8 149.2h.01M107.9 132.7h.01M114.7 143.3h.01M113.8 149.6h.01M107.8 137.5h.01M105.7 154.3h.01M114.5 152.6h.01M106.5 157.0h.01M105.7 155.6h.01M105.8 157.9h.01M113.2 158.7h.01M113.5 150.3h.01M109.4 158.0h.01M112.9 163.8h.01M109.1 155.5h.01M109.6 162.7h.01M106.2 163.7h.01M109.3 163.5h.01M113.3 162.8h.01M113.7 154.5h.01M106.6 155.9h.01M113.4 161.0h.01M111.5 155.2h.01M105.5 153.9h.01M109.3 162.0h.01M114.4 144.9h.01M107.6 155.0h.01M110.6 163.9h.01M114.3 158.9h.01M107.1 161.9h.01M105.3 164.2h.01M113.7 147.1h.01M105.2 162.6h.01M107.5 155.4h.01M114.1 154.4h.01M107.8 150.0h.01M107.9 154.6h.01M107.6 149.5h.01M111.8 143.1h.01M108.5 141.1h.01M110.8 132.1h.01M111.5 161.2h.01M106.2 160.5h.01M111.1 163.9h.01M106.0 161.5h.01M106.5 148.7h.01M107.8 149.7h.01M114.3 159.6h.01M113.4 145.9h.01M111.1 126.6h.01M110.8 154.2h.01M108.8 160.3h.01M107.5 155.5h.01M113.6 153.6h.01M107.3 151.0h.01M108.7 164.1h.01M113.5 158.4h.01M110.2 156.1h.01M110.6 154.6h.01M110.6 152.5h.01M105.1 149.3h.01M105.1 153.7h.01M105.2 155.7h.01M105.1 157.0h.01M105.1 158.6h.01M105.1 160.7h.01M105.1 162.9h.01M105.7 138.2h.01M105.7 142.6h.01M105.6 144.3h.01M105.8 151.1h.01M105.4 153.4h.01M105.7 154.6h.01M105.6 156.8h.01M105.7 159.3h.01M105.6 161.4h.01M105.7 162.8h.01M106.3 150.7h.01M106.6 155.2h.01M106.1 156.6h.01M106.3 159.4h.01M106.2 161.7h.01M106.5 163.5h.01M107.2 144.0h.01M107.0 146.2h.01M107.0 148.9h.01M106.8 150.9h.01M106.9 152.5h.01M107.0 154.7h.01M107.1 156.7h.01M107.0 158.3h.01M107.0 160.1h.01M106.8 162.0h.01M107.5 144.7h.01M107.5 146.8h.01M107.6 152.2h.01M107.3 153.8h.01M107.2 155.9h.01M107.2 157.4h.01M107.7 159.1h.01M107.5 161.4h.01M107.3 164.1h.01M107.9 131.5h.01M107.9 135.2h.01M108.1 136.8h.01M108.2 139.1h.01M108.3 144.2h.01M107.9 146.2h.01M107.9 148.9h.01M107.9 151.0h.01M107.9 153.5h.01M108.1 155.9h.01M108.2 157.8h.01M107.9 160.4h.01M107.9 163.0h.01M108.7 153.0h.01M108.4 155.1h.01M108.7 157.4h.01M108.5 159.1h.01M108.3 161.0h.01M108.4 163.0h.01M109.1 149.1h.01M109.2 151.4h.01M109.1 153.6h.01M109.3 155.2h.01M108.9 157.2h.01M109.0 159.5h.01M109.3 160.9h.01M108.9 163.7h.01M109.6 136.0h.01M109.9 140.1h.01M109.6 142.4h.01M109.8 143.7h.01M109.8 145.9h.01M109.8 157.4h.01M109.8 159.0h.01M109.8 160.6h.01M109.6 162.9h.01M110.4 138.5h.01M110.4 148.3h.01M110.6 150.6h.01M110.4 152.5h.01M110.3 154.3h.01M110.2 156.3h.01M110.5 159.0h.01M110.6 160.7h.01M110.6 162.0h.01M110.9 150.5h.01M111.3 152.3h.01M110.9 155.5h.01M111.2 157.6h.01M111.2 159.6h.01M110.9 161.7h.01M111.2 163.4h.01M111.6 130.9h.01M111.6 136.0h.01M111.7 138.0h.01M111.6 140.2h.01M111.8 141.6h.01M112.0 144.0h.01M111.9 153.7h.01M111.7 155.2h.01M111.6 156.9h.01M111.9 158.8h.01M111.7 160.6h.01M111.9 163.5h.01M112.3 137.4h.01M112.5 139.2h.01M112.5 141.8h.01M112.4 151.3h.01M112.4 154.1h.01M112.7 156.2h.01M112.6 157.6h.01M112.6 159.6h.01M112.3 160.9h.01M112.4 162.7h.01M112.5 164.1h.01M112.8 137.1h.01M113.1 139.1h.01M112.9 141.2h.01M113.0 145.7h.01M113.2 147.1h.01M112.8 154.3h.01M113.1 156.5h.01M112.8 157.8h.01M112.9 160.3h.01M112.9 162.8h.01M113.6 155.6h.01M113.2 157.7h.01M113.4 159.6h.01M113.5 161.9h.01M113.4 163.5h.01M113.9 137.4h.01M113.8 145.6h.01M113.9 148.1h.01M114.0 149.7h.01M114.0 152.4h.01M113.9 156.5h.01M113.7 158.6h.01M113.9 160.1h.01M114.1 161.4h.01M114.1 163.7h.01M114.3 150.7h.01M114.6 152.2h.01M114.7 154.5h.01M114.7 156.5h.01M114.6 158.8h.01M114.3 161.2h.01M114.5 163.6h.01M135.0 152.8h.01M133.1 161.9h.01M133.2 164.2h.01M129.8 164.0h.01M131.7 163.0h.01M130.6 157.6h.01M129.8 163.5h.01M137.1 133.1h.01M129.9 138.7h.01M136.2 162.0h.01M130.0 164.2h.01M136.9 153.4h.01M135.9 137.2h.01M135.0 160.4h.01M136.4 135.5h.01M135.2 127.5h.01M134.7 148.2h.01M133.6 158.6h.01M133.6 136.6h.01M132.6 164.1h.01M134.8 142.9h.01M136.6 157.5h.01M130.7 149.6h.01M136.1 151.7h.01M136.7 164.3h.01M135.9 158.4h.01M131.5 164.2h.01M130.6 160.6h.01M135.5 153.1h.01M136.4 153.4h.01M131.2 163.1h.01M135.5 159.0h.01M137.1 150.3h.01M133.3 142.8h.01M135.7 150.3h.01M134.5 156.7h.01M135.8 144.3h.01M129.1 162.6h.01M135.7 151.5h.01M135.9 162.2h.01M128.9 152.7h.01M129.0 154.9h.01M128.9 159.3h.01M128.8 161.4h.01M129.0 163.3h.01M129.6 134.4h.01M129.6 137.2h.01M129.7 139.1h.01M129.4 142.4h.01M129.3 145.0h.01M129.7 146.9h.01M129.6 149.5h.01M129.5 153.6h.01M129.6 155.5h.01M129.5 157.9h.01M129.4 160.5h.01M129.7 161.9h.01M129.8 163.8h.01M130.0 150.9h.01M130.0 154.8h.01M130.1 157.7h.01M130.3 160.5h.01M130.0 162.5h.01M130.1 163.9h.01M130.9 152.7h.01M130.8 154.7h.01M130.8 158.8h.01M130.8 160.5h.01M130.9 162.9h.01M131.4 139.0h.01M131.6 141.1h.01M131.3 144.5h.01M131.6 150.8h.01M131.6 153.0h.01M131.4 154.5h.01M131.6 157.3h.01M131.3 159.5h.01M131.6 161.0h.01M131.6 163.1h.01M132.2 137.8h.01M132.2 146.5h.01M132.1 148.8h.01M131.9 152.0h.01M132.2 153.6h.01M132.0 158.4h.01M132.2 160.7h.01M131.8 163.5h.01M132.4 142.0h.01M132.6 144.3h.01M132.6 154.6h.01M132.8 157.0h.01M132.6 158.7h.01M132.5 161.5h.01M132.5 163.8h.01M133.5 143.1h.01M133.2 145.8h.01M133.5 148.6h.01M133.5 149.8h.01M133.2 151.6h.01M133.2 153.5h.01M133.3 155.2h.01M133.3 156.7h.01M133.3 158.9h.01M133.1 160.4h.01M133.3 162.1h.01M133.2 163.7h.01M134.0 146.8h.01M133.9 152.0h.01M134.2 154.3h.01M134.0 157.7h.01M134.1 160.3h.01M134.0 162.8h.01M134.3 132.6h.01M134.4 134.7h.01M134.3 138.9h.01M134.4 140.5h.01M134.3 145.4h.01M134.5 147.5h.01M134.5 148.8h.01M134.2 152.3h.01M134.6 156.4h.01M134.5 157.9h.01M134.3 160.0h.01M134.5 162.7h.01M134.8 132.9h.01M135.1 134.6h.01M135.0 136.9h.01M134.7 139.6h.01M134.9 143.9h.01M134.8 152.7h.01M134.9 156.7h.01M134.8 158.7h.01M135.1 161.4h.01M135.0 163.0h.01M135.4 137.2h.01M135.5 139.2h.01M135.4 140.8h.01M135.5 145.2h.01M135.7 149.9h.01M135.6 152.2h.01M135.4 154.0h.01M135.5 158.8h.01M135.5 160.9h.01M135.5 163.6h.01M136.3 146.5h.01M136.0 148.2h.01M136.2 155.5h.01M136.4 158.3h.01M136.1 160.8h.01M136.0 163.2h.01M136.7 144.2h.01M136.6 153.4h.01M137.0 156.5h.01M136.8 158.4h.01M136.7 160.1h.01M136.6 162.7h.01M155.7 161.1h.01M152.0 159.6h.01M154.6 145.5h.01M153.8 162.2h.01M151.9 131.2h.01M154.3 153.2h.01M151.8 159.2h.01M153.6 162.3h.01M154.8 160.2h.01M154.6 163.9h.01M155.4 162.5h.01M151.6 146.3h.01M150.5 163.3h.01M156.2 161.9h.01M149.1 147.2h.01M153.1 164.3h.01M153.0 158.0h.01M155.2 145.1h.01M156.2 162.8h.01M152.4 157.9h.01M150.7 162.6h.01M148.9 153.2h.01M148.9 154.8h.01M148.9 157.6h.01M148.9 160.2h.01M148.9 161.9h.01M149.0 164.3h.01M149.2 148.4h.01M149.2 149.9h.01M149.5 154.4h.01M149.6 156.4h.01M149.2 158.0h.01M149.4 161.7h.01M149.4 163.3h.01M150.0 150.7h.01M150.2 157.5h.01M149.8 158.9h.01M150.3 161.4h.01M150.1 163.0h.01M150.6 151.4h.01M150.6 156.0h.01M150.6 160.1h.01M150.6 162.4h.01M151.1 159.8h.01M151.5 161.3h.01M151.5 163.1h.01M151.5 143.7h.01M151.6 154.1h.01M151.6 158.2h.01M151.7 159.7h.01M151.6 161.7h.01M152.0 163.3h.01M152.3 157.4h.01M152.4 159.0h.01M152.4 161.0h.01M152.5 163.5h.01M152.8 156.4h.01M153.1 157.9h.01M153.0 160.4h.01M152.8 162.9h.01M153.4 134.7h.01M153.5 138.6h.01M153.7 141.4h.01M153.6 146.6h.01M153.7 148.4h.01M153.7 152.7h.01M153.4 154.5h.01M153.4 156.4h.01M153.5 159.8h.01M153.6 162.0h.01M153.6 164.0h.01M153.7 135.9h.01M154.0 146.3h.01M154.2 147.6h.01M153.9 156.4h.01M154.1 158.7h.01M154.0 160.8h.01M154.1 163.2h.01M154.5 156.4h.01M154.6 157.7h.01M154.4 161.5h.01M154.3 162.9h.01M154.6 164.3h.01M155.2 134.9h.01M155.2 142.2h.01M155.0 144.5h.01M155.2 148.0h.01M155.1 149.8h.01M155.2 153.2h.01M155.2 155.5h.01M154.9 160.3h.01M155.2 161.8h.01M155.3 164.0h.01M155.4 134.5h.01M155.4 137.1h.01M155.5 139.2h.01M155.4 141.8h.01M155.6 144.1h.01M155.5 145.4h.01M155.5 148.1h.01M155.6 150.8h.01M155.4 152.8h.01M155.4 154.9h.01M155.5 156.5h.01M155.6 158.9h.01M155.8 161.1h.01M155.6 163.3h.01M156.4 161.6h.01M168.2 158.3h.01M168.1 163.5h.01M170.1 156.3h.01M174.2 164.0h.01M170.3 163.6h.01M172.7 148.8h.01M174.6 161.8h.01M173.6 158.2h.01M172.4 158.6h.01M168.2 131.7h.01M172.0 155.6h.01M172.1 128.6h.01M168.8 161.2h.01M169.0 155.9h.01M174.6 159.8h.01M169.3 162.2h.01M171.4 152.8h.01M170.1 139.4h.01M170.7 149.5h.01M174.3 135.6h.01M171.2 159.5h.01M172.0 157.7h.01M168.9 152.1h.01M173.6 153.4h.01M169.7 158.8h.01M172.1 161.3h.01M169.3 163.0h.01M172.7 160.6h.01M171.7 150.2h.01M170.3 162.7h.01M174.9 163.7h.01M173.7 157.9h.01M169.8 161.4h.01M170.6 162.7h.01M171.7 152.3h.01M168.7 160.3h.01M173.3 161.0h.01M174.8 162.3h.01M169.0 145.4h.01M173.7 164.3h.01M172.6 163.9h.01M170.7 157.1h.01M167.9 155.2h.01M173.8 149.9h.01M169.8 163.9h.01M169.2 145.2h.01M173.5 162.7h.01M174.8 135.6h.01M167.9 162.9h.01M170.1 163.0h.01M173.2 130.7h.01M170.6 162.3h.01M168.9 156.0h.01M169.2 163.7h.01M168.1 160.6h.01M174.7 126.0h.01M170.9 157.7h.01M173.7 155.9h.01M174.3 158.8h.01M169.8 131.5h.01M174.6 155.3h.01M174.8 160.6h.01M172.6 157.1h.01M167.9 148.0h.01M167.8 153.9h.01M167.8 155.8h.01M167.8 158.3h.01M167.8 159.7h.01M167.8 162.5h.01M168.3 151.5h.01M168.1 153.2h.01M168.3 155.3h.01M168.3 158.2h.01M168.1 160.0h.01M168.5 162.0h.01M168.5 163.3h.01M169.1 147.2h.01M168.8 148.9h.01M168.9 151.1h.01M168.9 155.3h.01M168.9 157.1h.01M168.9 159.9h.01M168.9 162.0h.01M169.7 130.7h.01M169.7 133.4h.01M169.8 135.9h.01M169.8 137.4h.01M169.7 148.3h.01M169.3 152.3h.01M169.5 155.2h.01M169.6 157.4h.01M169.8 159.9h.01M169.6 162.2h.01M169.8 163.7h.01M170.2 138.7h.01M170.4 146.3h.01M170.3 147.8h.01M170.1 149.3h.01M170.2 150.9h.01M170.1 152.7h.01M170.2 154.5h.01M170.1 155.8h.01M170.4 157.8h.01M170.1 160.7h.01M170.5 162.2h.01M170.4 163.5h.01M170.8 151.7h.01M170.8 154.6h.01M170.9 156.8h.01M170.8 158.3h.01M170.6 159.6h.01M171.1 162.3h.01M171.3 140.7h.01M171.5 148.0h.01M171.4 151.9h.01M171.3 154.6h.01M171.3 156.9h.01M171.3 159.6h.01M171.4 161.7h.01M171.5 163.6h.01M172.3 122.1h.01M172.2 131.1h.01M172.2 132.6h.01M172.2 134.1h.01M172.0 137.6h.01M172.3 141.8h.01M172.2 144.0h.01M172.0 145.6h.01M172.4 147.6h.01M172.2 149.3h.01M172.3 156.0h.01M172.0 157.6h.01M172.2 159.9h.01M172.2 161.7h.01M172.0 164.1h.01M173.0 135.5h.01M172.7 137.7h.01M172.7 139.4h.01M172.6 141.1h.01M173.0 143.2h.01M172.9 148.4h.01M172.6 151.2h.01M173.0 152.4h.01M172.6 155.1h.01M172.7 156.5h.01M172.8 158.6h.01M172.6 160.9h.01M173.0 162.8h.01M173.5 148.3h.01M173.3 150.5h.01M173.4 154.9h.01M173.1 156.6h.01M173.4 158.5h.01M173.3 160.3h.01M173.4 162.8h.01M174.0 143.8h.01M173.7 149.5h.01M174.0 154.2h.01M174.1 156.2h.01M173.9 158.7h.01M173.7 160.2h.01M173.8 162.5h.01M173.8 164.1h.01M174.2 146.7h.01M174.3 150.3h.01M174.5 152.9h.01M174.3 155.5h.01M174.5 158.0h.01M174.6 160.2h.01M174.4 163.1h.01M190.8 146.4h.01M186.9 146.5h.01M192.2 145.2h.01M191.9 161.6h.01M192.0 161.2h.01M191.9 145.6h.01M188.1 163.3h.01M188.3 156.0h.01M192.7 159.4h.01M187.9 139.0h.01M191.6 162.4h.01M187.0 155.6h.01M188.0 130.6h.01M192.2 163.4h.01M187.5 146.1h.01M192.6 155.4h.01M192.3 127.8h.01M189.3 135.5h.01M192.0 151.4h.01M190.5 146.4h.01M191.4 145.2h.01M192.3 137.6h.01M188.0 142.8h.01M189.9 160.0h.01M188.6 164.3h.01M192.8 142.9h.01M190.0 157.3h.01M190.1 163.1h.01M188.8 136.2h.01M191.8 153.2h.01M189.5 158.0h.01M188.0 151.3h.01M188.3 160.0h.01M188.4 163.7h.01M191.4 145.7h.01M187.6 159.0h.01M188.6 156.8h.01M192.0 154.0h.01M188.9 159.7h.01M192.0 146.0h.01M188.9 152.0h.01M187.3 137.1h.01M191.2 137.1h.01M191.7 162.4h.01M187.1 147.4h.01M187.0 151.9h.01M186.9 153.4h.01M186.9 155.7h.01M187.0 156.9h.01M187.0 158.7h.01M186.9 160.7h.01M187.1 162.5h.01M186.9 164.1h.01M187.2 143.7h.01M187.3 146.0h.01M187.6 148.1h.01M187.6 149.9h.01M187.3 151.9h.01M187.6 156.5h.01M187.3 158.2h.01M187.5 160.7h.01M187.6 163.5h.01M187.9 151.6h.01M187.9 152.9h.01M187.7 155.7h.01M187.8 158.1h.01M188.0 161.0h.01M187.9 162.4h.01M187.7 163.7h.01M188.4 137.9h.01M188.4 139.2h.01M188.4 145.0h.01M188.5 150.4h.01M188.6 155.1h.01M188.4 157.8h.01M188.6 160.1h.01M188.6 162.3h.01M189.2 152.9h.01M189.1 154.3h.01M189.1 155.8h.01M188.9 158.5h.01M188.9 160.4h.01M189.0 162.8h.01M189.0 164.0h.01M189.7 137.3h.01M189.6 139.1h.01M189.7 143.6h.01M189.6 146.3h.01M189.6 150.2h.01M189.4 152.5h.01M189.7 154.4h.01M189.6 157.1h.01M189.5 159.0h.01M189.7 161.0h.01M189.5 162.7h.01M189.7 164.3h.01M190.3 139.6h.01M190.1 142.9h.01M190.6 144.9h.01M190.1 146.3h.01M190.1 147.8h.01M190.5 150.1h.01M190.4 156.5h.01M190.1 159.0h.01M190.4 161.1h.01M190.5 163.6h.01M190.9 147.0h.01M191.0 152.4h.01M191.1 153.8h.01M190.7 155.4h.01M190.7 157.9h.01M190.8 159.3h.01M190.9 161.9h.01M191.1 163.2h.01M191.2 139.3h.01M191.4 140.9h.01M191.5 143.5h.01M191.4 146.2h.01M191.3 147.8h.01M191.7 150.3h.01M191.5 151.8h.01M191.3 153.2h.01M191.5 155.6h.01M191.7 157.2h.01M191.2 159.1h.01M191.6 161.0h.01M191.4 163.4h.01M191.9 153.0h.01M192.1 155.2h.01M191.8 157.0h.01M192.1 158.7h.01M191.8 160.7h.01M192.1 162.1h.01M192.7 146.6h.01M192.4 148.5h.01M192.6 151.3h.01M192.5 152.8h.01M192.5 154.3h.01M192.8 156.6h.01M192.6 159.2h.01M192.8 161.6h.01M203.5 155.4h.01M203.3 161.2h.01M203.9 136.1h.01M204.3 151.3h.01M205.2 161.4h.01M202.7 138.3h.01M204.6 163.8h.01M205.1 162.6h.01M204.0 157.4h.01M204.1 161.0h.01M202.4 160.4h.01M205.1 156.3h.01M203.8 152.9h.01M202.5 144.6h.01M203.5 161.8h.01M202.6 164.1h.01M203.8 147.5h.01M202.9 153.2h.01M205.3 139.2h.01M202.9 160.0h.01M203.2 159.9h.01M204.5 159.3h.01M202.3 137.3h.01M202.4 138.7h.01M202.3 141.2h.01M202.3 145.4h.01M202.3 147.6h.01M202.3 155.8h.01M202.3 157.5h.01M202.3 158.7h.01M202.5 160.4h.01M202.3 162.2h.01M203.2 156.3h.01M203.2 159.0h.01M203.2 160.7h.01M203.2 163.3h.01M203.8 138.6h.01M203.6 145.5h.01M203.7 149.1h.01M203.8 155.0h.01M203.4 157.3h.01M203.5 158.8h.01M203.4 160.2h.01M203.4 161.6h.01M203.4 163.3h.01M204.0 152.3h.01M204.2 155.3h.01M204.0 156.6h.01M204.1 158.1h.01M204.1 159.9h.01M204.3 162.6h.01M204.8 130.5h.01M204.5 133.1h.01M204.9 135.9h.01M204.7 137.9h.01M204.9 139.6h.01M204.8 142.4h.01M204.8 144.7h.01M204.5 150.7h.01M204.9 152.4h.01M204.9 154.4h.01M204.5 156.9h.01M204.7 158.3h.01M204.5 161.2h.01M204.8 162.8h.01M205.0 147.2h.01M205.0 155.0h.01M205.1 157.0h.01M205.5 158.6h.01M205.3 160.6h.01M205.4 163.1h.01M214.2 140.6h.01M216.0 163.5h.01M215.2 163.3h.01M213.8 158.5h.01M214.0 158.0h.01M216.3 151.8h.01M215.4 158.7h.01M215.5 159.1h.01M214.4 128.0h.01M213.6 154.9h.01M213.8 138.4h.01M214.8 158.5h.01M214.4 156.1h.01M215.3 162.3h.01M216.7 146.7h.01M214.4 158.8h.01M214.0 160.3h.01M216.2 142.7h.01M216.5 162.8h.01M215.5 157.2h.01M216.0 153.9h.01M214.7 161.9h.01M213.7 142.6h.01M213.7 152.7h.01M213.6 155.3h.01M213.6 158.0h.01M213.6 159.8h.01M213.8 161.3h.01M213.8 162.6h.01M214.2 151.4h.01M214.0 155.4h.01M214.3 157.2h.01M213.8 159.2h.01M214.3 161.2h.01M214.0 163.9h.01M214.9 141.5h.01M214.9 142.9h.01M214.6 144.1h.01M214.9 148.5h.01M214.8 151.4h.01M214.5 154.5h.01M214.5 156.5h.01M214.8 158.5h.01M214.6 160.4h.01M214.8 162.7h.01M214.7 164.1h.01M215.3 146.0h.01M215.4 147.8h.01M215.2 149.2h.01M215.4 150.6h.01M215.4 152.1h.01M215.5 154.2h.01M215.6 156.3h.01M215.4 158.5h.01M215.6 159.8h.01M215.2 161.7h.01M215.6 163.6h.01M216.0 145.2h.01M216.3 152.4h.01M216.4 155.0h.01M216.3 156.8h.01M216.2 159.3h.01M216.0 160.8h.01M216.1 163.7h.01M216.5 133.2h.01M216.8 134.9h.01M216.5 136.5h.01M216.8 137.7h.01M216.6 139.6h.01M216.6 141.5h.01M216.8 143.5h.01M216.5 145.4h.01M216.8 147.8h.01M216.6 150.6h.01M216.8 155.2h.01M216.6 156.9h.01M216.8 159.2h.01M216.8 161.8h.01M216.8 164.2h.01M225.5 160.6h.01M225.7 157.3h.01M224.9 146.2h.01M224.8 154.7h.01M225.5 163.1h.01M225.8 158.7h.01M225.7 138.1h.01M224.6 156.1h.01M224.6 160.6h.01M224.6 162.3h.01M224.8 164.3h.01M225.4 146.2h.01M225.2 151.2h.01M225.4 152.5h.01M225.5 153.8h.01M225.1 158.0h.01M225.1 160.5h.01M225.3 162.6h.01M225.9 138.8h.01M225.6 141.0h.01M225.7 144.4h.01M225.8 145.9h.01M225.7 148.2h.01M225.9 150.0h.01M225.9 154.9h.01M225.6 158.6h.01M225.8 159.9h.01M225.8 162.5h.01M225.8 163.8h.01M233.7 147.5h.01M233.9 161.9h.01M234.1 160.4h.01M233.7 149.4h.01M233.7 151.0h.01M233.7 155.7h.01M233.8 157.6h.01M233.7 161.5h.01M233.7 163.0h.01M233.7 164.2h.01M246.7 159.3h.01M240.3 151.1h.01M246.4 159.5h.01M241.2 147.2h.01M243.2 153.3h.01M245.4 132.5h.01M248.0 126.6h.01M243.2 156.4h.01M242.6 161.1h.01M250.0 163.2h.01M246.6 145.9h.01M240.0 140.0h.01M239.9 142.8h.01M239.9 145.6h.01M239.9 151.5h.01M240.1 153.6h.01M239.9 156.1h.01M240.0 158.9h.01M239.9 161.0h.01M239.9 162.4h.01M239.9 163.8h.01M240.4 148.3h.01M240.4 156.6h.01M240.8 160.6h.01M240.8 162.9h.01M241.1 151.8h.01M241.0 159.3h.01M241.5 163.0h.01M242.2 157.3h.01M242.3 161.5h.01M242.3 163.2h.01M242.9 145.3h.01M243.0 152.2h.01M242.7 154.1h.01M243.0 156.8h.01M242.9 162.7h.01M243.6 154.1h.01M243.7 156.7h.01M243.5 162.5h.01M243.8 149.9h.01M243.8 155.1h.01M243.9 158.8h.01M244.4 159.1h.01M244.7 161.7h.01M244.7 163.2h.01M245.5 148.2h.01M245.3 151.1h.01M245.1 153.2h.01M245.1 155.8h.01M245.2 163.8h.01M246.0 141.3h.01M246.0 142.6h.01M245.9 143.9h.01M245.9 146.3h.01M246.1 147.6h.01M245.9 149.0h.01M246.0 150.4h.01M245.8 152.2h.01M246.0 154.0h.01M246.1 158.5h.01M246.0 161.3h.01M246.9 144.5h.01M246.6 145.7h.01M247.1 154.3h.01M247.0 158.7h.01M246.8 160.7h.01M247.0 163.0h.01M247.3 148.7h.01M247.4 150.4h.01M247.3 152.4h.01M247.6 153.6h.01M247.5 155.0h.01M247.8 157.0h.01M247.6 163.1h.01M248.4 151.1h.01M248.4 153.1h.01M248.3 157.3h.01M248.5 158.9h.01M248.1 161.5h.01M248.9 149.4h.01M248.8 152.3h.01M248.7 161.6h.01M249.4 158.8h.01M249.7 163.0h.01M187.0 33.8h.01M187.0 50.5h.01M205.9 73.2h.01M151.2 97.0h.01M153.8 109.0h.01M86.3 108.8h.01M50.2 115.5h.01M46.2 121.6h.01M56.0 122.5h.01M50.2 124.4h.01M59.5 130.7h.01M86.6 116.5h.01M86.6 119.5h.01M88.2 108.7h.01M88.2 113.7h.01M88.2 115.6h.01M88.2 119.2h.01M88.2 122.5h.01M88.2 124.3h.01M109.4 122.0h.01M111.7 125.0h.01M113.0 128.0h.01M114.4 119.7h.01M110.4 120.5h.01M133.6 116.2h.01M130.0 128.3h.01M133.0 128.0h.01M130.0 132.0h.01M130.0 136.0h.01M154.0 109.5h.01M154.0 119.4h.01M150.4 125.0h.01M150.4 127.5h.01M150.0 133.0h.01M172.8 111.0h.01M175.0 114.0h.01M172.8 119.0h.01M172.8 121.5h.01M169.2 127.5h.01M172.5 127.5h.01M171.0 131.0h.01M169.0 133.0h.01M187.4 120.8h.01M188.0 124.4h.01M192.0 127.2h.01M189.0 130.0h.01M190.0 133.0h.01M189.0 136.0h.01M191.0 139.0h.01M224.6 120.8h.01M234.8 110.6h.01M234.8 115.5h.01M240.4 104.8h.01M240.4 107.2h.01M249.5 133.8h.01M245.8 140.9h.01M173.0 111.0h.01M88.4 88.3h.01M88.4 90.0h.01M88.4 91.7h.01M88.4 93.4h.01M88.4 95.1h.01M88.4 96.8h.01M88.4 98.5h.01M88.4 100.2h.01M80.0 112.6h.01M80.0 114.8h.01M80.0 117.0h.01M80.0 119.2h.01M80.0 123.6h.01M80.0 125.8h.01M80.0 128.0h.01M80.0 130.2h.01M80.0 132.4h.01M80.0 134.6h.01M80.0 136.8h.01M80.0 139.0h.01M88.2 127.5h.01M88.2 129.3h.01M88.2 131.1h.01M88.2 132.9h.01M88.2 134.7h.01M88.2 136.5h.01M88.2 138.3h.01M88.2 140.1h.01M88.2 141.9h.01M49.6 129.0h.01M50.0 130.8h.01M50.3 132.6h.01M49.6 134.4h.01M49.8 136.2h.01M50.0 138.0h.01M50.0 139.8h.01M50.1 141.6h.01M46.7 133.8h.01M46.5 135.6h.01M46.6 137.4h.01M46.8 139.2h.01M46.7 141.0h.01M46.4 142.8h.01M57.5 137.0h.01M57.5 138.8h.01M57.6 140.6h.01M57.5 142.4h.01M57.3 144.2h.01M57.9 146.0h.01M105.8 117.3h.01M105.8 119.9h.01M105.8 122.5h.01M105.8 125.1h.01M105.8 127.7h.01M105.8 130.3h.01M105.8 132.9h.01M105.8 135.5h.01M105.8 138.1h.01M105.8 140.7h.01M136.2 132.0h.01M136.2 133.5h.01M136.2 135.0h.01M136.2 136.5h.01M136.2 138.0h.01M136.2 139.5h.01M136.2 141.0h.01M136.2 142.5h.01M136.2 144.0h.01M136.2 145.5h.01M154.0 126.7h.01M154.0 127.9h.01M154.0 129.1h.01M154.0 130.3h.01M154.0 131.5h.01M154.0 132.7h.01M154.0 133.9h.01M154.0 135.1h.01M154.0 136.3h.01M154.0 137.5h.01M154.0 138.7h.01M154.0 139.9h.01M154.0 141.1h.01M154.0 142.3h.01M154.0 143.5h.01M154.0 144.7h.01M154.0 145.9h.01M171.9 134.0h.01M171.8 135.5h.01M172.0 137.0h.01M172.1 138.5h.01M172.0 140.0h.01M172.2 141.5h.01M171.9 143.0h.01M172.2 144.5h.01M171.8 146.0h.01M206.0 132.0h.01M206.0 134.0h.01M206.0 136.0h.01M206.0 138.0h.01M206.0 140.0h.01M206.0 142.0h.01M206.0 144.0h.01M206.0 146.0h.01M217.2 128.8h.01M217.2 131.0h.01M217.2 133.2h.01M217.2 135.4h.01M217.2 137.6h.01M217.2 139.8h.01M217.2 142.0h.01M217.2 144.2h.01M240.4 132.0h.01M240.4 134.0h.01M240.4 136.0h.01M240.4 138.0h.01M240.4 140.0h.01M240.4 142.0h.01M240.4 144.0h.01M240.4 146.0h.01M240.4 148.0h.01M240.4 150.0h.01" stroke="#141414" stroke-width="2.1" stroke-linecap="round" fill="none"/>
<path d="M53.85 120L54.550000000000004 120L54.300000000000004 164L54.1 164Z" fill="#fff"/>
<path d="M39.3 28.8V224.75M36.5 224.75H254" stroke="#141414" stroke-width="1.1" fill="none"/>
<path d="M36.5 224.50h2.8M36.5 176.38h2.8M36.5 128.26h2.8M36.5 80.14h2.8M36.5 32.02h2.8M53.90 224.5v3.6M70.50 224.5v3.6M85.60 224.5v3.6M98.65 224.5v3.6M110.50 224.5v3.6M122.70 224.5v3.6M134.00 224.5v3.6M144.00 224.5v3.6M153.50 224.5v3.6M163.30 224.5v3.6M172.40 224.5v3.6M181.50 224.5v3.6M190.70 224.5v3.6M198.50 224.5v3.6M204.80 224.5v3.6M210.60 224.5v3.6M216.20 224.5v3.6M221.70 224.5v3.6M226.10 224.5v3.6M230.35 224.5v3.6M234.30 224.5v3.6M238.30 224.5v3.6M244.90 224.5v3.6" stroke="#141414" stroke-width="0.9" fill="none"/>
<text x="33.0" y="227.45" text-anchor="end" class="tk">0</text>
<text x="33.0" y="179.33" text-anchor="end" class="tk">2</text>
<text x="33.0" y="131.21" text-anchor="end" class="tk">4</text>
<text x="33.0" y="83.09" text-anchor="end" class="tk">6</text>
<text x="33.0" y="34.97" text-anchor="end" class="tk">8</text>
<text x="53.90" y="238.3" text-anchor="middle" class="tk">1</text>
<text x="70.50" y="238.3" text-anchor="middle" class="tk">2</text>
<text x="85.60" y="238.3" text-anchor="middle" class="tk">3</text>
<text x="98.65" y="238.3" text-anchor="middle" class="tk">4</text>
<text x="110.50" y="238.3" text-anchor="middle" class="tk">5</text>
<text x="122.70" y="238.3" text-anchor="middle" class="tk">6</text>
<text x="134.00" y="238.3" text-anchor="middle" class="tk">7</text>
<text x="144.00" y="238.3" text-anchor="middle" class="tk">8</text>
<text x="153.50" y="238.3" text-anchor="middle" class="tk">9</text>
<text x="172.40" y="238.3" text-anchor="middle" class="tk">11</text>
<text x="190.70" y="238.3" text-anchor="middle" class="tk">13</text>
<text x="204.80" y="238.3" text-anchor="middle" class="tk">15</text>
<text x="221.70" y="238.3" text-anchor="middle" class="tk">18</text>
<text x="234.30" y="238.3" text-anchor="middle" class="tk">21</text>
<text x="128.5" y="252.7" class="ax" textLength="39" lengthAdjust="spacingAndGlyphs">Chromosome</text>
<text transform="translate(19.8 141.8) rotate(-90)" class="ay" textLength="29.5" lengthAdjust="spacingAndGlyphs">-log<tspan font-size="5.6" dy="1.5">10</tspan><tspan dy="-1.5">(</tspan><tspan font-style="italic">P</tspan>)</text>
<rect x="310.90" y="163.15" width="16.00" height="61.35" fill="#141414"/>
<rect x="326.90" y="163.15" width="16.50" height="61.35" fill="#a0a0a0"/>
<rect x="343.40" y="163.15" width="13.60" height="61.35" fill="#141414"/>
<rect x="357.00" y="163.15" width="13.15" height="61.35" fill="#a0a0a0"/>
<rect x="370.15" y="163.15" width="11.75" height="61.35" fill="#141414"/>
<rect x="381.90" y="163.15" width="12.00" height="61.35" fill="#a0a0a0"/>
<rect x="393.90" y="163.15" width="10.20" height="61.35" fill="#141414"/>
<rect x="404.10" y="163.15" width="9.90" height="61.35" fill="#a0a0a0"/>
<rect x="414.00" y="163.15" width="9.30" height="61.35" fill="#141414"/>
<rect x="423.30" y="163.15" width="9.60" height="61.35" fill="#a0a0a0"/>
<rect x="432.90" y="163.15" width="8.90" height="61.35" fill="#141414"/>
<rect x="441.80" y="163.15" width="10.20" height="61.35" fill="#a0a0a0"/>
<rect x="452.00" y="163.15" width="7.80" height="61.35" fill="#141414"/>
<rect x="459.80" y="163.15" width="7.60" height="61.35" fill="#a0a0a0"/>
<rect x="467.40" y="163.15" width="5.00" height="61.35" fill="#141414"/>
<rect x="472.40" y="163.15" width="6.30" height="61.35" fill="#a0a0a0"/>
<rect x="478.70" y="163.15" width="5.00" height="61.35" fill="#141414"/>
<rect x="483.70" y="163.15" width="6.00" height="61.35" fill="#a0a0a0"/>
<rect x="489.70" y="163.15" width="3.10" height="61.35" fill="#141414"/>
<rect x="492.80" y="163.15" width="6.00" height="61.35" fill="#a0a0a0"/>
<rect x="498.80" y="163.15" width="2.30" height="61.35" fill="#141414"/>
<rect x="501.10" y="163.15" width="3.90" height="61.35" fill="#a0a0a0"/>
<rect x="505.00" y="163.15" width="12.00" height="61.35" fill="#141414"/>
<path d="M337.5 148.9h.01M339.5 164.3h.01M329.6 139.0h.01M331.0 162.1h.01M329.9 162.9h.01M338.0 157.1h.01M335.7 157.8h.01M339.9 152.2h.01M338.2 126.7h.01M328.6 157.2h.01M330.6 160.7h.01M338.5 130.9h.01M332.8 162.9h.01M337.0 158.6h.01M332.7 126.1h.01M333.9 151.8h.01M335.2 139.8h.01M336.4 149.1h.01M338.9 151.1h.01M334.4 159.2h.01M338.3 154.2h.01M333.1 155.0h.01M335.3 157.3h.01M332.5 159.3h.01M328.8 163.6h.01M329.1 162.6h.01M342.0 159.5h.01M341.2 159.0h.01M341.5 152.2h.01M341.9 153.3h.01M329.0 147.3h.01M341.9 164.3h.01M337.4 160.0h.01M342.3 132.3h.01M332.6 156.6h.01M338.0 155.0h.01M339.6 163.3h.01M333.5 164.3h.01M340.8 145.0h.01M340.5 143.7h.01M334.0 158.0h.01M335.4 157.5h.01M333.3 161.8h.01M328.1 157.5h.01M328.7 155.5h.01M328.7 155.8h.01M334.5 162.2h.01M342.3 149.4h.01M339.8 149.2h.01M335.4 158.4h.01M342.0 156.1h.01M328.0 144.7h.01M338.4 152.1h.01M341.5 141.2h.01M333.9 159.1h.01M330.6 161.5h.01M338.7 142.3h.01M332.6 145.8h.01M328.0 149.3h.01M332.4 157.1h.01M342.3 160.6h.01M341.8 164.3h.01M342.4 152.8h.01M341.0 158.9h.01M336.3 156.0h.01M331.6 154.0h.01M330.4 154.6h.01M338.4 164.0h.01M341.3 164.1h.01M341.2 161.7h.01M338.3 160.5h.01M338.0 160.0h.01M331.2 162.3h.01M342.2 161.1h.01M333.5 140.1h.01M341.5 131.3h.01M336.9 162.7h.01M332.9 161.9h.01M331.1 160.6h.01M331.0 155.1h.01M329.9 160.1h.01M339.2 161.1h.01M342.0 160.8h.01M328.2 163.1h.01M335.4 161.4h.01M333.7 160.5h.01M337.5 149.9h.01M340.7 161.5h.01M336.2 159.7h.01M338.9 159.7h.01M335.1 155.3h.01M328.9 162.4h.01M340.3 161.2h.01M333.8 137.2h.01M330.7 163.6h.01M329.7 135.7h.01M328.9 158.7h.01M332.9 157.2h.01M342.3 131.8h.01M337.7 145.5h.01M339.1 157.9h.01M330.3 164.0h.01M335.4 146.1h.01M336.7 152.3h.01M331.5 145.1h.01M332.1 162.3h.01M335.2 143.2h.01M339.1 149.3h.01M338.6 160.0h.01M335.3 148.2h.01M334.7 156.6h.01M330.9 158.0h.01M340.4 155.4h.01M333.9 161.3h.01M332.2 159.5h.01M338.5 137.1h.01M335.4 163.4h.01M333.2 159.9h.01M336.7 163.1h.01M337.8 159.7h.01M335.4 163.0h.01M337.2 158.2h.01M339.4 163.7h.01M331.5 156.6h.01M339.8 162.4h.01M336.4 164.2h.01M332.8 160.5h.01M329.8 128.9h.01M328.0 162.2h.01M328.9 159.6h.01M337.8 163.9h.01M327.8 141.3h.01M327.8 143.4h.01M327.8 147.4h.01M327.9 149.3h.01M328.0 152.1h.01M327.8 153.9h.01M328.0 155.9h.01M327.8 158.8h.01M327.8 160.4h.01M327.8 162.6h.01M328.5 139.5h.01M328.3 141.0h.01M328.3 144.7h.01M328.3 149.3h.01M328.4 153.6h.01M328.5 155.5h.01M328.7 158.1h.01M328.5 160.3h.01M328.4 161.7h.01M328.3 163.2h.01M328.9 138.9h.01M328.8 144.9h.01M329.0 146.2h.01M328.8 152.2h.01M328.9 153.9h.01M328.9 156.6h.01M328.9 158.9h.01M328.9 160.7h.01M328.7 163.0h.01M329.4 150.4h.01M329.3 153.1h.01M329.7 154.7h.01M329.6 155.9h.01M329.7 157.3h.01M329.5 159.2h.01M329.5 161.9h.01M330.2 148.5h.01M329.9 152.9h.01M330.0 154.6h.01M330.4 156.8h.01M330.1 158.8h.01M330.3 161.1h.01M330.3 162.4h.01M330.4 164.0h.01M331.0 139.8h.01M330.6 141.0h.01M330.6 142.9h.01M330.8 147.6h.01M330.9 149.2h.01M330.7 152.0h.01M330.8 156.1h.01M330.8 158.7h.01M330.5 160.6h.01M331.0 162.1h.01M330.8 164.2h.01M331.4 130.5h.01M331.2 138.8h.01M331.2 141.1h.01M331.3 146.1h.01M331.4 148.3h.01M331.4 154.0h.01M331.5 155.2h.01M331.2 157.9h.01M331.4 160.2h.01M331.5 161.6h.01M331.6 164.1h.01M332.0 150.9h.01M331.9 152.8h.01M331.8 155.0h.01M332.1 157.5h.01M331.9 159.4h.01M331.8 160.6h.01M332.0 162.8h.01M332.1 164.3h.01M332.5 128.9h.01M332.4 135.4h.01M332.3 137.2h.01M332.4 144.7h.01M332.7 146.3h.01M332.5 150.8h.01M332.7 154.0h.01M332.4 156.1h.01M332.2 157.8h.01M332.6 159.7h.01M332.3 161.5h.01M332.3 162.8h.01M333.1 137.8h.01M333.0 145.1h.01M333.2 147.1h.01M332.9 148.6h.01M332.9 150.9h.01M332.9 153.1h.01M333.1 155.7h.01M332.9 156.9h.01M332.9 159.0h.01M333.3 161.6h.01M333.2 162.9h.01M333.8 136.3h.01M333.6 140.3h.01M333.7 142.7h.01M333.9 145.0h.01M333.9 146.9h.01M333.8 148.2h.01M333.7 150.5h.01M333.5 154.9h.01M333.7 156.3h.01M333.7 158.7h.01M333.6 161.3h.01M334.0 163.1h.01M334.3 135.7h.01M334.3 137.0h.01M334.6 141.7h.01M334.4 144.1h.01M334.4 145.5h.01M334.4 154.5h.01M334.2 155.9h.01M334.1 158.7h.01M334.4 161.4h.01M334.5 162.8h.01M334.4 164.1h.01M335.1 133.7h.01M334.8 136.2h.01M335.0 139.1h.01M334.7 141.7h.01M335.0 145.7h.01M335.1 149.8h.01M334.8 151.7h.01M334.8 153.4h.01M334.8 155.4h.01M335.1 157.8h.01M334.8 159.1h.01M335.1 161.2h.01M334.7 163.1h.01M335.2 130.5h.01M335.5 133.4h.01M335.6 137.4h.01M335.3 139.8h.01M335.6 144.3h.01M335.4 146.5h.01M335.6 148.2h.01M335.2 149.6h.01M335.2 156.0h.01M335.5 157.3h.01M335.5 159.9h.01M335.6 162.6h.01M335.7 132.5h.01M336.1 136.1h.01M335.8 137.8h.01M336.0 142.8h.01M336.0 144.5h.01M336.2 146.0h.01M335.9 147.3h.01M335.8 150.1h.01M336.0 152.3h.01M336.2 154.5h.01M335.8 155.9h.01M335.9 158.7h.01M336.0 161.3h.01M335.7 162.5h.01M336.1 163.8h.01M336.6 151.1h.01M336.4 154.6h.01M336.5 156.3h.01M336.8 158.5h.01M336.5 161.0h.01M336.5 163.1h.01M337.2 128.7h.01M337.0 131.2h.01M337.1 136.4h.01M337.2 140.4h.01M337.2 143.1h.01M336.9 144.8h.01M337.1 148.8h.01M336.9 152.2h.01M337.2 155.0h.01M337.3 156.8h.01M337.4 158.6h.01M337.3 161.1h.01M337.0 163.9h.01M337.7 146.4h.01M337.7 150.8h.01M337.8 155.3h.01M337.5 157.6h.01M337.8 159.1h.01M337.4 161.7h.01M337.5 163.5h.01M338.5 133.3h.01M338.5 135.0h.01M338.2 138.0h.01M338.4 141.5h.01M338.4 144.2h.01M338.2 148.8h.01M338.2 151.8h.01M338.3 153.2h.01M338.3 154.9h.01M338.6 157.6h.01M338.2 159.6h.01M338.1 160.9h.01M338.4 162.5h.01M338.5 164.1h.01M338.9 153.8h.01M338.9 155.3h.01M339.2 158.2h.01M339.0 159.7h.01M339.1 161.1h.01M338.8 162.8h.01M339.5 130.8h.01M339.7 136.1h.01M339.7 148.0h.01M339.6 153.4h.01M339.6 155.1h.01M339.6 156.9h.01M339.4 158.8h.01M339.4 160.7h.01M339.4 163.5h.01M340.4 152.7h.01M340.3 154.4h.01M340.3 156.7h.01M340.1 159.1h.01M340.3 161.1h.01M340.5 163.1h.01M341.2 143.8h.01M341.1 153.5h.01M341.0 155.0h.01M340.8 157.5h.01M341.1 160.1h.01M341.1 163.0h.01M341.7 140.8h.01M341.7 142.2h.01M341.9 143.6h.01M341.8 145.1h.01M341.5 148.4h.01M341.5 152.2h.01M341.7 154.6h.01M341.9 156.5h.01M341.6 159.1h.01M341.8 161.4h.01M341.7 163.3h.01M342.3 148.2h.01M342.5 150.4h.01M342.1 153.1h.01M342.5 154.9h.01M342.4 156.6h.01M342.2 158.6h.01M342.2 160.6h.01M342.2 162.9h.01M359.0 156.0h.01M363.1 158.9h.01M359.1 163.4h.01M365.4 157.8h.01M369.2 161.4h.01M369.1 158.0h.01M358.8 147.0h.01M363.4 148.5h.01M362.6 163.5h.01M362.4 151.5h.01M366.2 142.0h.01M362.8 160.6h.01M364.8 132.7h.01M362.5 162.7h.01M360.8 162.2h.01M361.1 155.8h.01M364.2 125.8h.01M365.1 156.4h.01M365.7 162.9h.01M364.6 156.2h.01M363.7 163.4h.01M361.5 150.2h.01M368.0 158.8h.01M362.9 163.5h.01M359.2 154.3h.01M368.8 158.2h.01M361.9 156.3h.01M361.7 161.1h.01M361.8 158.1h.01M365.0 156.9h.01M367.2 150.8h.01M358.2 161.7h.01M362.9 157.3h.01M363.5 162.5h.01M364.7 158.4h.01M362.3 160.1h.01M359.5 163.9h.01M359.6 157.0h.01M359.4 130.5h.01M367.1 132.4h.01M363.2 158.0h.01M360.7 160.0h.01M362.0 159.6h.01M365.3 147.4h.01M369.1 140.6h.01M364.0 160.9h.01M359.4 159.6h.01M358.6 146.7h.01M367.7 160.8h.01M362.7 128.0h.01M365.4 136.5h.01M363.7 141.5h.01M366.5 149.0h.01M369.2 154.5h.01M363.1 161.8h.01M358.1 162.8h.01M366.3 157.5h.01M364.7 138.9h.01M367.0 154.7h.01M359.1 148.7h.01M368.5 163.5h.01M361.6 162.5h.01M362.5 150.9h.01M359.1 153.1h.01M360.1 158.5h.01M360.3 151.7h.01M357.9 146.0h.01M357.9 152.3h.01M358.1 156.3h.01M357.9 158.3h.01M358.0 159.7h.01M358.1 162.0h.01M358.0 164.2h.01M358.4 142.5h.01M358.4 145.0h.01M358.4 149.1h.01M358.6 153.3h.01M358.5 156.8h.01M358.3 159.4h.01M358.8 160.9h.01M358.6 163.7h.01M359.1 137.8h.01M359.0 140.1h.01M359.0 145.7h.01M359.1 151.3h.01M358.9 152.6h.01M358.9 156.6h.01M359.1 159.4h.01M359.1 161.4h.01M359.0 163.9h.01M359.6 142.8h.01M359.8 147.7h.01M359.7 149.2h.01M360.0 151.6h.01M359.8 153.5h.01M359.6 155.6h.01M359.6 157.7h.01M359.7 160.0h.01M359.7 161.9h.01M359.7 163.8h.01M360.3 137.5h.01M360.7 139.2h.01M360.3 141.2h.01M360.7 143.8h.01M360.3 146.9h.01M360.6 149.7h.01M360.2 153.9h.01M360.7 156.5h.01M360.4 158.3h.01M360.5 160.1h.01M360.5 162.9h.01M361.3 151.9h.01M360.8 154.5h.01M361.2 157.1h.01M361.1 158.7h.01M361.2 160.2h.01M360.9 162.9h.01M361.4 153.1h.01M361.6 156.6h.01M361.8 158.5h.01M361.8 161.0h.01M361.5 163.2h.01M362.2 145.3h.01M362.1 147.2h.01M362.2 152.7h.01M362.2 157.5h.01M362.3 158.8h.01M362.0 160.3h.01M362.1 162.0h.01M362.3 163.8h.01M363.2 148.9h.01M362.7 158.9h.01M362.9 161.1h.01M363.0 162.3h.01M363.1 164.1h.01M363.9 152.1h.01M363.5 153.3h.01M363.8 155.1h.01M363.6 157.2h.01M363.7 159.7h.01M363.5 161.7h.01M363.5 164.2h.01M364.3 146.9h.01M364.2 148.7h.01M364.4 157.7h.01M364.5 159.4h.01M364.4 161.1h.01M364.2 163.6h.01M364.8 149.3h.01M364.8 151.2h.01M365.0 156.9h.01M364.7 159.3h.01M365.0 161.6h.01M365.0 163.8h.01M365.4 144.6h.01M365.4 147.4h.01M365.3 148.7h.01M365.7 155.1h.01M365.5 156.6h.01M365.6 158.1h.01M365.3 161.0h.01M365.5 162.6h.01M366.2 136.5h.01M366.0 138.2h.01M365.9 140.4h.01M366.0 142.9h.01M366.3 147.9h.01M365.9 150.0h.01M365.9 152.6h.01M366.2 156.1h.01M366.1 158.9h.01M366.1 161.6h.01M366.3 163.3h.01M366.8 152.7h.01M366.7 157.8h.01M366.9 159.0h.01M366.6 160.5h.01M366.7 162.8h.01M367.2 142.8h.01M367.2 144.7h.01M367.3 146.9h.01M367.3 150.8h.01M367.5 153.5h.01M367.5 157.6h.01M367.4 159.6h.01M367.5 162.2h.01M367.3 163.9h.01M368.1 152.4h.01M368.1 154.1h.01M367.7 156.5h.01M367.8 159.2h.01M368.2 161.2h.01M368.2 162.5h.01M368.1 164.1h.01M368.6 149.6h.01M368.4 157.1h.01M368.7 159.6h.01M368.6 162.3h.01M368.5 164.3h.01M369.0 138.2h.01M369.0 140.1h.01M369.1 144.6h.01M369.1 146.9h.01M369.2 154.0h.01M369.1 156.8h.01M368.9 159.0h.01M368.9 161.0h.01M369.2 162.9h.01M386.2 163.3h.01M385.3 160.5h.01M385.8 163.0h.01M385.9 129.2h.01M391.8 161.5h.01M387.4 158.1h.01M386.2 159.7h.01M388.7 163.8h.01M384.9 159.1h.01M384.6 154.8h.01M389.7 164.3h.01M389.3 153.4h.01M391.8 153.3h.01M392.9 150.6h.01M385.8 145.3h.01M392.0 156.3h.01M384.5 147.5h.01M387.8 150.3h.01M392.2 160.9h.01M389.3 144.4h.01M388.8 145.3h.01M386.4 142.8h.01M389.9 159.9h.01M383.8 164.1h.01M389.2 135.1h.01M390.5 163.2h.01M383.0 159.9h.01M385.3 161.9h.01M392.9 159.7h.01M391.5 162.8h.01M384.2 158.5h.01M392.2 143.7h.01M389.1 157.2h.01M382.9 141.9h.01M384.7 148.7h.01M383.7 160.4h.01M385.0 158.4h.01M383.8 163.3h.01M389.6 156.3h.01M388.4 140.2h.01M383.6 160.7h.01M385.2 163.9h.01M391.5 155.3h.01M383.4 137.2h.01M390.1 152.3h.01M388.4 150.8h.01M385.3 144.7h.01M390.4 133.0h.01M390.1 162.1h.01M392.9 145.7h.01M392.8 162.1h.01M389.9 162.1h.01M387.6 161.0h.01M391.1 160.6h.01M388.8 155.2h.01M383.3 163.9h.01M392.6 158.7h.01M390.3 125.2h.01M390.6 162.1h.01M387.9 149.9h.01M392.6 138.1h.01M390.5 142.4h.01M384.5 150.7h.01M392.2 160.9h.01M390.1 124.3h.01M388.6 163.0h.01M384.6 156.6h.01M386.2 129.9h.01M387.7 161.3h.01M391.5 162.8h.01M390.5 162.3h.01M387.3 157.8h.01M383.5 161.3h.01M386.6 137.7h.01M383.2 157.3h.01M382.9 147.3h.01M382.9 152.0h.01M382.9 154.0h.01M382.9 155.6h.01M382.8 157.7h.01M382.9 159.2h.01M382.8 160.8h.01M382.8 163.2h.01M383.5 134.3h.01M383.3 136.1h.01M383.6 147.2h.01M383.8 152.5h.01M383.6 155.9h.01M383.7 157.6h.01M383.3 160.2h.01M383.4 163.0h.01M384.3 154.8h.01M384.1 156.0h.01M384.0 158.7h.01M384.0 160.7h.01M384.4 162.4h.01M384.8 137.5h.01M384.9 140.0h.01M384.8 141.4h.01M384.5 146.8h.01M384.5 151.4h.01M384.9 153.6h.01M384.8 155.0h.01M384.9 156.9h.01M384.9 159.5h.01M384.7 161.6h.01M384.5 163.0h.01M385.4 138.7h.01M385.2 143.2h.01M385.2 145.2h.01M385.6 148.5h.01M385.5 150.0h.01M385.5 151.3h.01M385.4 154.6h.01M385.4 157.0h.01M385.2 159.4h.01M385.6 161.2h.01M385.6 163.5h.01M385.7 137.4h.01M385.8 138.9h.01M385.9 140.8h.01M386.2 146.3h.01M386.2 147.6h.01M386.2 150.0h.01M385.8 151.9h.01M386.1 154.6h.01M385.9 157.4h.01M386.1 159.5h.01M386.2 161.0h.01M386.0 162.6h.01M386.1 163.9h.01M386.5 131.6h.01M386.6 133.3h.01M386.4 135.8h.01M386.3 138.5h.01M386.7 143.9h.01M386.3 151.5h.01M386.4 155.9h.01M386.6 157.5h.01M386.7 159.0h.01M386.5 161.5h.01M386.7 163.9h.01M387.4 152.8h.01M387.2 155.1h.01M387.4 156.9h.01M387.2 159.4h.01M387.1 161.1h.01M387.5 163.3h.01M387.6 153.3h.01M387.9 155.4h.01M387.8 158.2h.01M387.9 159.8h.01M387.9 161.6h.01M387.7 164.2h.01M388.4 133.3h.01M388.1 136.1h.01M388.5 148.2h.01M388.4 150.3h.01M388.5 153.0h.01M388.2 155.8h.01M388.1 157.8h.01M388.4 159.1h.01M388.0 160.3h.01M388.5 162.8h.01M388.7 135.2h.01M388.6 142.1h.01M388.9 144.8h.01M388.9 147.5h.01M388.7 149.4h.01M388.9 154.0h.01M388.9 155.3h.01M388.9 157.5h.01M388.9 159.6h.01M388.6 161.5h.01M388.8 163.7h.01M389.6 155.8h.01M389.4 157.8h.01M389.4 159.6h.01M389.6 162.0h.01M389.7 163.4h.01M390.3 151.0h.01M390.0 156.0h.01M389.9 158.5h.01M390.0 161.4h.01M390.0 163.5h.01M390.5 147.8h.01M390.9 150.7h.01M390.8 152.3h.01M390.8 153.6h.01M390.6 154.9h.01M390.7 157.0h.01M390.8 159.9h.01M390.9 162.0h.01M391.0 139.7h.01M391.2 141.2h.01M391.3 143.4h.01M391.0 152.3h.01M391.2 156.7h.01M391.3 159.1h.01M391.5 161.4h.01M391.1 163.7h.01M391.7 143.7h.01M391.9 149.3h.01M392.2 153.0h.01M392.0 157.3h.01M391.9 159.0h.01M392.2 160.4h.01M392.2 163.0h.01M391.9 164.2h.01M392.6 138.1h.01M392.6 140.9h.01M392.3 144.5h.01M392.5 148.3h.01M392.4 152.9h.01M392.5 154.4h.01M392.4 156.0h.01M392.6 157.9h.01M392.7 159.7h.01M392.6 161.0h.01M392.3 163.7h.01M409.3 152.0h.01M412.3 145.4h.01M408.9 161.0h.01M410.4 136.1h.01M412.4 141.8h.01M408.5 147.9h.01M411.3 151.2h.01M409.9 157.5h.01M408.0 141.7h.01M407.6 155.1h.01M405.1 134.1h.01M410.2 145.8h.01M412.6 164.2h.01M410.8 150.9h.01M410.4 156.4h.01M406.8 162.5h.01M408.5 159.8h.01M405.6 143.1h.01M411.0 164.2h.01M406.9 129.3h.01M406.7 140.4h.01M407.7 145.8h.01M408.1 162.6h.01M408.4 135.7h.01M412.0 162.4h.01M411.8 149.2h.01M411.6 154.6h.01M407.0 159.8h.01M409.3 147.6h.01M406.4 158.8h.01M411.2 159.4h.01M411.2 149.8h.01M405.6 143.5h.01M406.3 162.2h.01M405.8 162.5h.01M407.9 153.9h.01M411.2 158.2h.01M408.0 162.1h.01M406.8 130.5h.01M408.3 155.1h.01M405.6 163.4h.01M408.5 153.3h.01M411.3 164.3h.01M408.2 162.0h.01M411.9 162.7h.01M406.1 162.3h.01M413.0 157.7h.01M412.7 146.0h.01M406.6 136.8h.01M412.5 161.9h.01M410.9 141.3h.01M406.3 160.2h.01M409.2 154.0h.01M410.5 145.0h.01M405.4 147.3h.01M407.5 156.6h.01M406.5 153.9h.01M408.9 163.7h.01M405.1 160.3h.01M408.2 148.3h.01M410.0 162.1h.01M412.6 153.0h.01M405.0 142.7h.01M405.0 147.0h.01M405.0 150.2h.01M405.1 153.8h.01M405.0 155.1h.01M405.0 157.9h.01M405.2 160.2h.01M405.2 162.4h.01M405.6 156.1h.01M405.8 157.4h.01M405.9 158.8h.01M405.8 161.5h.01M405.7 163.7h.01M406.4 139.7h.01M406.2 144.0h.01M406.3 146.6h.01M406.4 152.9h.01M406.4 154.4h.01M406.3 156.5h.01M406.3 158.3h.01M406.6 161.0h.01M406.4 163.9h.01M406.9 149.0h.01M406.9 151.6h.01M407.0 154.0h.01M406.7 155.5h.01M406.8 156.9h.01M407.0 159.2h.01M407.0 161.9h.01M407.4 142.9h.01M407.7 148.2h.01M407.4 150.5h.01M407.7 152.2h.01M407.6 157.4h.01M407.6 159.0h.01M407.7 161.8h.01M407.7 163.8h.01M408.4 142.4h.01M408.0 144.5h.01M408.3 146.9h.01M408.2 148.6h.01M408.1 155.4h.01M408.2 157.4h.01M408.2 158.7h.01M408.0 161.5h.01M408.4 162.8h.01M408.6 149.4h.01M408.9 151.1h.01M408.6 152.4h.01M409.0 154.8h.01M409.0 156.2h.01M408.8 157.4h.01M408.7 160.2h.01M408.9 162.6h.01M408.9 163.9h.01M409.3 132.7h.01M409.7 142.1h.01M409.6 148.3h.01M409.6 149.7h.01M409.3 151.2h.01M409.3 153.9h.01M409.2 156.7h.01M409.6 158.6h.01M409.5 161.4h.01M409.3 163.2h.01M410.2 152.9h.01M410.1 155.1h.01M410.1 156.6h.01M410.4 158.7h.01M410.4 160.3h.01M410.4 162.2h.01M410.3 163.5h.01M410.6 133.2h.01M410.8 138.7h.01M411.0 140.0h.01M410.7 141.2h.01M410.8 143.8h.01M410.8 148.2h.01M410.9 150.5h.01M410.6 152.2h.01M411.0 154.6h.01M410.8 156.9h.01M410.7 158.2h.01M410.6 160.8h.01M410.9 162.6h.01M411.7 132.6h.01M411.5 136.6h.01M411.4 140.6h.01M411.6 145.2h.01M411.3 146.5h.01M411.4 148.4h.01M411.7 152.6h.01M411.3 156.3h.01M411.2 158.1h.01M411.3 160.6h.01M411.6 163.4h.01M412.2 149.0h.01M412.4 155.6h.01M412.0 158.3h.01M412.2 160.7h.01M412.1 162.5h.01M413.0 140.9h.01M412.9 142.9h.01M412.8 145.3h.01M412.6 146.5h.01M413.0 151.6h.01M412.9 153.6h.01M412.6 155.5h.01M412.8 157.7h.01M413.0 159.0h.01M412.9 161.5h.01M412.6 164.2h.01M427.5 163.6h.01M428.7 163.4h.01M427.4 154.3h.01M427.8 140.7h.01M427.4 139.3h.01M425.7 158.5h.01M430.9 142.5h.01M427.2 161.3h.01M425.9 164.0h.01M424.7 145.3h.01M431.0 154.5h.01M431.0 148.6h.01M427.8 159.7h.01M430.9 161.4h.01M429.8 155.7h.01M429.4 137.6h.01M429.1 162.3h.01M427.1 160.4h.01M426.7 157.8h.01M426.1 160.6h.01M430.6 146.2h.01M426.4 154.0h.01M431.6 158.3h.01M426.1 133.8h.01M429.6 157.5h.01M425.7 153.8h.01M428.0 157.5h.01M430.3 136.6h.01M429.9 148.0h.01M427.2 161.7h.01M426.9 163.1h.01M430.1 152.8h.01M426.2 158.1h.01M424.6 161.0h.01M431.8 162.8h.01M430.8 163.1h.01M431.3 164.0h.01M426.1 148.4h.01M428.1 132.6h.01M425.1 162.7h.01M426.6 161.4h.01M425.5 162.3h.01M429.3 158.9h.01M426.0 162.5h.01M427.3 129.7h.01M427.2 146.7h.01M430.1 145.8h.01M427.2 146.3h.01M424.3 154.4h.01M424.3 156.3h.01M424.3 157.9h.01M424.3 159.4h.01M424.2 161.2h.01M424.4 163.4h.01M425.2 142.4h.01M424.9 145.5h.01M424.8 147.7h.01M424.9 149.0h.01M424.9 150.3h.01M424.9 157.5h.01M424.9 158.9h.01M424.7 161.3h.01M425.2 163.9h.01M425.2 132.2h.01M425.5 139.3h.01M425.6 141.8h.01M425.7 146.6h.01M425.4 149.4h.01M425.6 151.2h.01M425.4 157.7h.01M425.4 160.0h.01M425.4 161.6h.01M425.3 163.5h.01M426.2 137.6h.01M426.1 139.1h.01M425.9 143.2h.01M426.2 146.9h.01M426.1 148.3h.01M426.2 150.8h.01M426.1 153.6h.01M425.9 155.7h.01M425.9 157.5h.01M426.3 158.9h.01M425.9 161.3h.01M426.3 162.7h.01M426.3 164.2h.01M426.8 155.9h.01M426.6 157.7h.01M426.4 160.1h.01M426.7 162.2h.01M426.5 163.7h.01M427.0 135.6h.01M427.3 138.2h.01M427.2 142.6h.01M427.0 154.8h.01M427.0 156.8h.01M427.0 158.1h.01M427.2 159.7h.01M427.0 162.1h.01M427.2 164.1h.01M428.0 131.2h.01M427.7 133.6h.01M427.9 134.9h.01M427.9 136.3h.01M427.9 138.6h.01M427.6 141.7h.01M427.8 143.3h.01M427.8 145.2h.01M427.8 146.8h.01M427.6 148.3h.01M427.7 149.5h.01M428.0 150.9h.01M427.9 153.7h.01M427.7 155.2h.01M427.7 156.7h.01M427.7 158.0h.01M427.6 159.6h.01M427.9 162.2h.01M428.1 164.1h.01M428.6 144.6h.01M428.6 146.6h.01M428.7 148.4h.01M428.5 152.4h.01M428.3 155.3h.01M428.4 156.5h.01M428.6 159.3h.01M428.3 162.2h.01M428.4 163.8h.01M428.8 144.1h.01M429.1 146.7h.01M429.0 148.5h.01M429.2 152.5h.01M428.9 154.3h.01M429.0 156.6h.01M429.1 157.9h.01M428.9 159.2h.01M428.8 161.2h.01M428.9 163.0h.01M429.8 138.3h.01M429.5 140.8h.01M429.9 147.4h.01M429.9 149.6h.01M429.8 151.9h.01M429.8 156.3h.01M429.9 158.4h.01M429.5 160.6h.01M429.6 162.7h.01M430.5 148.7h.01M430.2 157.3h.01M430.6 158.6h.01M430.4 160.4h.01M430.3 162.6h.01M430.3 164.1h.01M431.1 144.0h.01M431.2 145.9h.01M431.2 151.2h.01M431.3 153.4h.01M431.0 155.7h.01M431.1 158.2h.01M431.1 159.9h.01M431.0 162.6h.01M431.2 164.0h.01M431.8 138.3h.01M431.9 142.4h.01M431.6 146.8h.01M431.9 149.0h.01M431.9 150.7h.01M431.7 154.9h.01M431.8 157.0h.01M431.5 158.9h.01M431.8 161.1h.01M431.5 162.7h.01M450.0 159.5h.01M446.7 154.4h.01M443.1 150.2h.01M450.6 163.7h.01M448.1 144.8h.01M443.0 163.4h.01M449.8 160.6h.01M443.6 136.7h.01M449.9 156.0h.01M444.8 163.5h.01M445.2 158.2h.01M445.6 161.6h.01M448.2 163.0h.01M446.0 159.3h.01M443.8 142.5h.01M450.3 161.1h.01M447.8 141.3h.01M443.4 155.7h.01M447.5 161.5h.01M446.7 152.4h.01M447.6 129.1h.01M445.0 158.3h.01M444.3 158.2h.01M446.7 149.3h.01M446.0 159.5h.01M443.9 163.2h.01M444.4 164.0h.01M443.8 163.0h.01M443.1 140.5h.01M449.8 162.5h.01M446.4 155.6h.01M449.3 160.1h.01M445.2 137.3h.01M443.3 163.9h.01M445.7 163.7h.01M449.4 163.6h.01M447.5 159.6h.01M449.7 161.0h.01M447.2 149.2h.01M445.4 145.8h.01M450.6 145.5h.01M446.9 140.0h.01M448.1 155.3h.01M443.7 153.4h.01M449.2 157.9h.01M449.6 160.8h.01M449.4 156.7h.01M444.3 153.8h.01M445.4 161.9h.01M442.9 136.2h.01M448.1 164.2h.01M442.7 153.9h.01M442.7 156.2h.01M442.7 158.7h.01M442.8 160.7h.01M442.8 162.2h.01M442.7 164.1h.01M443.5 152.6h.01M443.5 156.5h.01M443.4 159.2h.01M443.4 161.4h.01M443.5 164.2h.01M444.1 132.1h.01M443.8 136.2h.01M443.7 138.3h.01M444.0 141.2h.01M444.2 144.2h.01M443.8 148.5h.01M444.1 150.6h.01M444.1 152.8h.01M443.8 157.2h.01M443.9 159.0h.01M443.7 161.7h.01M443.7 163.0h.01M444.5 148.7h.01M444.4 150.5h.01M444.6 157.4h.01M444.4 159.8h.01M444.8 162.2h.01M444.4 163.8h.01M445.2 143.5h.01M445.3 149.0h.01M445.1 153.3h.01M445.0 157.5h.01M445.1 159.8h.01M444.9 162.1h.01M444.9 163.4h.01M446.0 133.2h.01M445.9 135.3h.01M445.8 137.1h.01M446.0 139.5h.01M445.9 143.0h.01M446.0 144.7h.01M445.6 147.8h.01M445.9 150.4h.01M445.7 155.8h.01M446.0 157.8h.01M446.0 159.2h.01M445.8 161.2h.01M446.0 162.9h.01M446.5 134.6h.01M446.6 137.3h.01M446.2 143.7h.01M446.3 145.4h.01M446.4 146.7h.01M446.4 152.4h.01M446.5 154.3h.01M446.2 156.8h.01M446.3 159.2h.01M446.2 161.1h.01M446.2 162.7h.01M446.9 146.0h.01M446.8 148.0h.01M446.9 152.4h.01M446.8 157.5h.01M446.7 160.3h.01M446.9 162.8h.01M447.7 139.4h.01M447.5 147.7h.01M447.3 149.5h.01M447.5 152.9h.01M447.4 155.4h.01M447.2 157.5h.01M447.7 158.9h.01M447.4 160.5h.01M447.6 163.2h.01M448.1 139.2h.01M448.0 140.7h.01M447.7 143.0h.01M448.2 145.7h.01M448.2 148.0h.01M447.8 153.5h.01M448.0 155.7h.01M447.9 157.1h.01M448.0 159.1h.01M447.9 161.3h.01M448.1 164.0h.01M448.5 151.9h.01M448.5 153.8h.01M448.3 155.2h.01M448.7 156.9h.01M448.3 158.5h.01M448.5 160.0h.01M448.6 162.1h.01M449.1 151.5h.01M449.1 154.8h.01M449.1 157.4h.01M449.1 159.9h.01M449.1 161.5h.01M449.1 164.2h.01M449.8 151.3h.01M449.6 154.0h.01M449.6 156.6h.01M449.7 157.9h.01M449.6 160.5h.01M449.8 162.2h.01M450.4 152.1h.01M450.5 154.2h.01M450.6 156.8h.01M450.6 158.0h.01M450.3 159.9h.01M450.5 162.5h.01M450.5 163.8h.01M465.3 156.7h.01M465.6 154.8h.01M461.2 156.9h.01M465.1 155.2h.01M462.4 149.4h.01M464.0 158.9h.01M464.5 164.1h.01M462.4 161.6h.01M465.2 156.8h.01M462.6 134.5h.01M461.7 148.2h.01M464.2 162.3h.01M466.0 149.7h.01M464.5 159.1h.01M463.8 151.1h.01M463.0 162.5h.01M462.3 163.2h.01M462.1 143.5h.01M463.8 155.8h.01M465.9 148.4h.01M462.5 158.6h.01M463.4 147.2h.01M466.2 137.9h.01M465.8 160.7h.01M460.8 135.6h.01M460.9 137.2h.01M460.7 138.9h.01M460.9 141.6h.01M460.8 143.3h.01M460.9 147.9h.01M460.8 151.6h.01M460.7 154.2h.01M460.8 155.7h.01M460.7 158.6h.01M460.9 160.5h.01M460.7 163.2h.01M461.6 146.0h.01M461.3 148.8h.01M461.2 151.4h.01M461.3 154.3h.01M461.3 157.2h.01M461.2 159.0h.01M461.3 160.5h.01M461.5 162.5h.01M461.4 163.9h.01M461.8 145.7h.01M462.0 147.6h.01M462.0 152.6h.01M462.1 155.1h.01M462.2 157.3h.01M462.0 159.6h.01M462.0 162.5h.01M461.9 163.9h.01M462.7 138.2h.01M462.5 143.4h.01M462.6 146.2h.01M462.8 147.4h.01M462.6 149.8h.01M462.9 161.0h.01M462.8 162.3h.01M462.8 164.0h.01M463.5 142.5h.01M463.5 143.9h.01M463.6 148.8h.01M463.6 150.3h.01M463.5 152.3h.01M463.3 155.0h.01M463.5 156.3h.01M463.4 158.5h.01M463.2 161.3h.01M463.3 164.0h.01M463.9 149.3h.01M464.0 151.8h.01M463.9 156.3h.01M464.2 157.8h.01M464.3 159.6h.01M463.9 161.3h.01M463.8 163.0h.01M464.6 142.0h.01M464.5 144.1h.01M464.6 145.4h.01M464.5 146.7h.01M464.5 148.0h.01M464.5 149.5h.01M464.6 153.4h.01M464.5 156.3h.01M464.5 158.1h.01M464.3 160.4h.01M464.7 162.5h.01M464.7 164.3h.01M465.4 141.9h.01M465.0 144.6h.01M465.2 146.1h.01M465.5 152.8h.01M465.4 154.0h.01M465.1 158.8h.01M465.2 160.9h.01M465.3 162.8h.01M465.2 164.0h.01M465.7 142.6h.01M465.9 144.3h.01M465.9 145.6h.01M465.7 147.8h.01M465.8 151.9h.01M466.0 155.7h.01M466.0 157.8h.01M465.7 159.4h.01M465.8 161.0h.01M465.6 162.4h.01M466.2 136.3h.01M466.4 138.4h.01M466.3 140.7h.01M466.5 143.0h.01M466.4 149.6h.01M466.2 151.5h.01M466.5 154.6h.01M466.4 159.4h.01M466.2 160.8h.01M466.5 162.2h.01M466.4 163.8h.01M474.8 156.8h.01M474.0 126.0h.01M476.1 153.9h.01M476.3 151.8h.01M473.8 158.3h.01M474.8 157.6h.01M477.0 136.0h.01M474.5 150.1h.01M476.5 158.8h.01M473.4 157.6h.01M477.3 161.4h.01M476.9 163.2h.01M473.4 138.0h.01M473.3 140.9h.01M473.3 145.8h.01M473.4 156.3h.01M473.5 157.9h.01M473.3 159.1h.01M473.5 161.5h.01M473.3 163.5h.01M474.2 151.8h.01M474.1 163.2h.01M474.6 160.6h.01M474.5 162.1h.01M474.6 163.8h.01M475.3 155.2h.01M475.4 157.8h.01M475.4 163.1h.01M476.0 159.6h.01M476.1 161.3h.01M475.9 162.6h.01M476.8 150.3h.01M476.8 152.2h.01M476.5 153.7h.01M476.4 163.1h.01M477.1 158.2h.01M477.3 161.9h.01M477.2 164.0h.01M477.7 138.9h.01M477.4 141.1h.01M477.6 144.6h.01M477.5 148.6h.01M477.8 151.1h.01M477.8 156.3h.01M477.5 160.4h.01M477.8 162.4h.01M477.7 164.1h.01M488.5 157.9h.01M488.1 161.4h.01M487.4 155.2h.01M484.8 146.2h.01M487.4 155.4h.01M488.2 155.5h.01M487.9 161.2h.01M485.0 162.2h.01M487.2 158.0h.01M488.3 154.3h.01M487.8 164.0h.01M486.4 158.9h.01M487.3 160.7h.01M485.2 158.5h.01M486.4 162.4h.01M484.6 143.9h.01M484.8 145.7h.01M484.8 150.3h.01M484.6 153.7h.01M484.6 157.9h.01M484.6 159.3h.01M484.7 162.1h.01M485.0 154.5h.01M485.0 161.3h.01M485.1 163.4h.01M486.0 152.8h.01M485.9 154.6h.01M485.9 155.9h.01M485.7 159.5h.01M485.6 162.4h.01M486.0 163.8h.01M486.6 143.0h.01M486.4 145.8h.01M486.2 148.5h.01M486.4 150.9h.01M486.2 152.6h.01M486.7 154.9h.01M486.5 157.2h.01M486.6 159.6h.01M486.5 161.3h.01M486.5 163.4h.01M487.4 139.7h.01M487.2 141.0h.01M486.9 143.4h.01M486.9 156.9h.01M486.9 161.6h.01M487.2 163.8h.01M487.5 141.9h.01M487.5 143.3h.01M487.7 144.8h.01M487.6 147.4h.01M487.7 150.0h.01M487.5 152.2h.01M487.5 153.8h.01M487.8 156.4h.01M487.5 157.8h.01M487.4 159.8h.01M487.7 162.1h.01M487.7 164.0h.01M488.3 145.3h.01M488.5 146.9h.01M488.2 149.0h.01M488.5 150.5h.01M488.4 152.5h.01M488.3 154.8h.01M488.3 159.2h.01M488.2 162.1h.01M493.8 148.6h.01M496.4 154.9h.01M496.0 154.7h.01M496.1 160.6h.01M493.9 145.5h.01M494.8 160.6h.01M495.0 156.3h.01M495.9 161.4h.01M494.9 147.5h.01M494.3 128.1h.01M496.2 154.1h.01M493.8 160.9h.01M493.7 136.7h.01M493.7 139.5h.01M493.7 146.9h.01M493.7 150.9h.01M493.7 153.4h.01M493.8 154.6h.01M493.7 157.2h.01M493.7 159.4h.01M493.8 161.7h.01M493.7 164.1h.01M494.1 147.2h.01M494.0 150.2h.01M494.2 152.7h.01M494.0 154.6h.01M493.9 156.7h.01M494.0 158.0h.01M494.0 159.4h.01M494.1 161.4h.01M494.0 163.7h.01M494.8 142.2h.01M494.8 145.9h.01M494.7 150.0h.01M494.7 151.4h.01M494.8 155.1h.01M494.8 156.5h.01M494.8 158.0h.01M494.6 160.1h.01M494.7 162.0h.01M495.7 143.4h.01M495.8 145.8h.01M495.5 147.1h.01M495.5 149.7h.01M495.8 153.3h.01M495.5 154.9h.01M495.7 156.8h.01M495.4 159.5h.01M495.8 161.1h.01M495.5 163.8h.01M496.4 145.9h.01M496.2 147.4h.01M496.4 155.4h.01M496.3 159.2h.01M496.2 161.4h.01M496.3 163.1h.01M496.9 143.4h.01M497.0 146.3h.01M497.0 151.1h.01M496.6 153.6h.01M496.8 157.5h.01M496.6 159.1h.01M496.9 161.0h.01M496.7 163.7h.01M497.3 156.8h.01M497.4 161.8h.01M497.3 163.3h.01M503.5 151.1h.01M503.6 127.6h.01M503.3 163.6h.01M503.5 157.5h.01M502.6 160.6h.01M502.1 160.1h.01M502.0 159.9h.01M502.2 161.9h.01M502.0 163.6h.01M502.7 154.9h.01M502.8 156.7h.01M502.3 159.5h.01M502.6 160.8h.01M502.7 162.5h.01M502.8 145.6h.01M503.0 146.9h.01M502.9 148.9h.01M503.2 150.6h.01M503.1 156.6h.01M502.8 160.5h.01M503.1 162.1h.01M503.5 160.6h.01M503.8 163.0h.01M337.6 70.8h.01M337.6 73.1h.01M383.2 100.2h.01M464.6 77.4h.01M464.6 82.0h.01M465.6 88.7h.01M443.8 102.0h.01M447.3 107.4h.01M464.6 111.3h.01M337.4 106.4h.01M337.4 111.0h.01M343.0 105.6h.01M329.9 119.0h.01M368.0 124.4h.01M363.3 132.2h.01M358.6 116.5h.01M358.6 119.5h.01M393.0 106.0h.01M393.0 112.6h.01M391.3 122.8h.01M387.8 128.3h.01M409.0 127.5h.01M431.0 120.5h.01M446.7 107.5h.01M449.0 114.2h.01M463.5 113.7h.01M464.3 116.2h.01M465.0 111.0h.01M463.2 124.4h.01M463.0 132.0h.01M473.7 136.0h.01M489.2 120.2h.01M485.5 133.0h.01M488.0 136.0h.01M497.3 117.3h.01M495.0 132.2h.01M497.5 135.0h.01M504.0 131.5h.01M504.0 134.0h.01M504.0 138.0h.01M337.6 82.8h.01M337.6 84.6h.01M337.6 86.4h.01M337.6 88.2h.01M337.6 90.0h.01M341.6 112.6h.01M341.6 114.9h.01M341.6 117.2h.01M341.6 119.5h.01M341.6 121.8h.01M341.6 124.1h.01M341.6 127.0h.01M341.6 129.6h.01M341.6 132.2h.01M341.6 134.8h.01M341.6 137.4h.01M341.6 140.0h.01M341.6 142.6h.01M341.6 145.2h.01M330.8 123.6h.01M331.5 125.3h.01M330.4 127.0h.01M331.2 128.7h.01M331.5 130.4h.01M331.0 132.1h.01M330.8 133.8h.01M330.9 135.5h.01M330.7 137.2h.01M331.3 138.9h.01M331.0 140.6h.01M330.9 142.3h.01M330.6 144.0h.01M330.9 145.7h.01M333.1 124.0h.01M333.0 125.7h.01M333.6 127.4h.01M332.7 129.1h.01M332.7 130.8h.01M332.9 132.5h.01M332.5 134.2h.01M332.4 135.9h.01M333.4 137.6h.01M332.7 139.3h.01M332.8 141.0h.01M332.6 142.7h.01M333.4 144.4h.01M358.6 126.0h.01M358.6 127.8h.01M358.6 129.6h.01M358.6 131.4h.01M383.0 102.5h.01M383.0 105.4h.01M383.0 108.3h.01M383.0 111.2h.01M383.0 114.1h.01M383.0 117.0h.01M383.0 119.9h.01M383.0 122.8h.01M383.0 125.7h.01M383.0 128.6h.01M383.0 131.5h.01M383.0 134.4h.01M383.0 137.3h.01M383.0 140.2h.01M383.0 143.1h.01M383.0 146.0h.01M413.1 122.0h.01M412.9 123.8h.01M413.5 125.6h.01M413.1 127.4h.01M413.0 129.2h.01M413.4 131.0h.01M413.6 132.8h.01M412.9 134.6h.01M413.2 136.4h.01M413.6 138.2h.01M413.6 140.0h.01M413.3 141.8h.01M413.1 143.6h.01M413.7 145.4h.01" stroke="#a0a0a0" stroke-width="2.1" stroke-linecap="round" fill="none"/>
<path d="M325.3 137.3h.01M313.0 141.1h.01M317.8 155.0h.01M313.7 156.5h.01M318.1 162.1h.01M318.3 161.7h.01M313.0 164.1h.01M317.8 151.4h.01M322.2 156.8h.01M312.6 159.7h.01M317.0 127.5h.01M317.0 149.4h.01M313.0 160.4h.01M322.0 157.6h.01M318.2 155.0h.01M314.4 153.6h.01M316.4 162.3h.01M314.6 146.7h.01M313.2 163.1h.01M315.7 163.9h.01M323.5 155.5h.01M317.0 160.2h.01M316.1 160.8h.01M313.3 161.2h.01M321.8 148.3h.01M315.2 145.9h.01M324.8 156.1h.01M325.2 155.0h.01M325.6 162.4h.01M317.7 163.7h.01M323.3 164.1h.01M325.6 152.2h.01M325.3 147.3h.01M325.8 156.3h.01M316.7 149.9h.01M317.2 126.1h.01M312.9 162.1h.01M314.6 157.8h.01M325.3 136.0h.01M313.3 161.8h.01M314.2 156.5h.01M323.3 156.2h.01M317.8 161.3h.01M318.1 140.2h.01M324.5 160.0h.01M324.5 146.8h.01M317.7 152.2h.01M323.6 152.0h.01M315.2 153.7h.01M317.6 160.7h.01M323.5 156.0h.01M320.8 163.2h.01M319.7 160.1h.01M315.3 145.5h.01M312.9 132.7h.01M319.8 161.5h.01M318.2 157.7h.01M311.9 151.1h.01M323.0 159.4h.01M324.1 162.8h.01M321.5 162.0h.01M318.2 162.4h.01M313.0 158.6h.01M318.6 151.8h.01M319.3 155.9h.01M324.6 160.7h.01M324.2 163.4h.01M318.9 143.5h.01M315.9 154.6h.01M316.8 160.3h.01M325.4 160.6h.01M317.3 160.0h.01M323.4 158.7h.01M315.7 161.3h.01M314.9 163.4h.01M323.9 161.1h.01M313.4 157.1h.01M313.5 157.9h.01M318.1 155.6h.01M315.5 143.9h.01M315.3 144.5h.01M315.7 147.2h.01M313.9 159.6h.01M313.1 145.4h.01M317.4 150.3h.01M316.0 152.5h.01M324.8 163.5h.01M314.2 153.2h.01M324.7 125.3h.01M312.1 162.2h.01M313.8 154.5h.01M311.8 149.0h.01M311.8 151.9h.01M312.0 154.1h.01M311.9 156.1h.01M311.8 158.5h.01M312.0 161.2h.01M311.9 162.6h.01M312.2 137.4h.01M312.2 138.7h.01M312.2 141.3h.01M312.3 142.9h.01M312.4 144.9h.01M312.3 153.8h.01M312.4 155.7h.01M312.0 157.6h.01M312.5 158.9h.01M312.3 161.3h.01M312.3 163.0h.01M312.3 164.3h.01M312.8 141.9h.01M312.7 148.2h.01M312.6 151.1h.01M312.9 153.1h.01M312.5 154.8h.01M312.9 157.3h.01M313.0 158.8h.01M313.0 161.1h.01M312.9 163.9h.01M313.1 137.7h.01M313.4 146.1h.01M313.0 147.6h.01M313.5 149.9h.01M313.3 153.6h.01M313.0 156.2h.01M313.3 158.7h.01M313.2 160.8h.01M313.1 163.4h.01M313.7 150.5h.01M313.9 154.9h.01M313.9 157.5h.01M314.0 159.7h.01M313.9 162.3h.01M314.5 121.5h.01M314.5 123.3h.01M314.5 127.6h.01M314.4 130.2h.01M314.3 132.4h.01M314.6 138.5h.01M314.3 141.0h.01M314.6 143.8h.01M314.5 147.5h.01M314.7 154.8h.01M314.7 156.0h.01M314.6 158.4h.01M314.8 160.9h.01M314.7 163.7h.01M315.0 149.3h.01M315.0 150.7h.01M315.1 152.4h.01M315.2 154.2h.01M314.9 156.6h.01M314.9 158.0h.01M315.3 160.8h.01M315.1 162.4h.01M315.7 137.1h.01M315.6 141.3h.01M315.5 143.9h.01M315.4 147.1h.01M315.8 148.5h.01M315.7 150.3h.01M315.7 152.0h.01M315.6 154.0h.01M315.8 156.6h.01M315.6 159.1h.01M315.7 161.6h.01M315.6 164.2h.01M315.9 137.8h.01M316.2 142.1h.01M316.3 144.2h.01M316.1 149.0h.01M316.0 153.8h.01M316.3 155.0h.01M316.2 157.7h.01M316.1 159.3h.01M315.8 161.0h.01M316.3 162.5h.01M315.9 163.7h.01M316.5 134.9h.01M316.6 136.7h.01M316.3 141.1h.01M316.3 142.4h.01M316.5 145.9h.01M316.3 148.4h.01M316.5 150.8h.01M316.4 154.2h.01M316.6 156.4h.01M316.6 159.2h.01M316.7 161.8h.01M316.6 163.8h.01M317.4 131.4h.01M317.3 134.5h.01M317.0 137.2h.01M317.1 139.3h.01M317.2 140.7h.01M317.1 142.0h.01M317.3 146.1h.01M317.0 151.7h.01M317.3 153.4h.01M317.3 154.9h.01M317.0 157.7h.01M317.0 160.1h.01M317.0 162.2h.01M317.4 164.1h.01M317.6 152.8h.01M318.0 154.8h.01M317.9 157.5h.01M317.9 160.2h.01M317.5 161.9h.01M318.0 164.1h.01M318.2 153.5h.01M318.3 155.6h.01M318.4 157.4h.01M318.3 159.0h.01M318.2 161.8h.01M318.3 163.5h.01M318.8 142.9h.01M318.9 145.1h.01M319.0 149.2h.01M318.6 150.7h.01M318.9 153.1h.01M318.9 154.5h.01M319.0 155.7h.01M319.0 158.1h.01M318.7 160.3h.01M318.9 162.1h.01M319.1 145.6h.01M319.2 148.1h.01M319.4 154.4h.01M319.2 156.8h.01M319.4 158.4h.01M319.4 160.6h.01M319.1 162.2h.01M319.3 163.8h.01M319.9 161.4h.01M319.9 164.0h.01M320.4 160.3h.01M320.3 162.4h.01M320.7 163.6h.01M321.3 161.7h.01M321.0 163.4h.01M321.9 156.3h.01M321.5 160.4h.01M321.9 161.6h.01M321.5 162.9h.01M321.9 135.3h.01M322.3 138.0h.01M322.2 143.2h.01M322.1 145.2h.01M322.2 147.8h.01M322.3 149.2h.01M322.4 151.0h.01M322.1 153.4h.01M322.0 155.4h.01M322.2 157.1h.01M322.3 159.2h.01M322.1 160.7h.01M322.4 162.2h.01M323.0 137.7h.01M323.1 139.8h.01M323.0 141.8h.01M322.8 143.2h.01M322.8 144.8h.01M322.7 149.2h.01M322.8 150.6h.01M323.0 153.3h.01M323.0 154.7h.01M322.6 157.6h.01M322.9 159.3h.01M322.6 162.1h.01M322.7 163.5h.01M323.3 146.6h.01M323.5 148.3h.01M323.6 149.5h.01M323.6 152.2h.01M323.5 154.7h.01M323.4 157.2h.01M323.5 158.8h.01M323.2 161.0h.01M323.3 162.2h.01M323.9 137.5h.01M324.2 141.4h.01M324.1 143.8h.01M324.3 145.6h.01M324.4 147.1h.01M324.3 148.6h.01M324.1 150.8h.01M324.4 153.8h.01M324.1 155.8h.01M324.3 157.5h.01M324.1 158.9h.01M324.0 160.4h.01M324.4 162.4h.01M324.1 164.2h.01M324.5 135.6h.01M324.6 138.3h.01M324.8 140.4h.01M324.8 143.4h.01M324.4 145.9h.01M324.4 147.4h.01M324.8 150.2h.01M324.8 152.8h.01M324.7 154.3h.01M324.8 156.9h.01M324.4 159.6h.01M324.7 161.1h.01M324.4 163.1h.01M325.4 143.4h.01M325.1 147.1h.01M325.0 149.2h.01M325.2 154.5h.01M325.2 157.2h.01M325.1 159.2h.01M325.0 160.5h.01M325.5 163.0h.01M325.6 136.0h.01M326.0 138.9h.01M325.7 141.0h.01M325.8 145.2h.01M325.8 148.0h.01M325.9 150.1h.01M325.7 151.4h.01M325.8 154.8h.01M325.8 157.5h.01M325.9 159.5h.01M325.8 161.5h.01M325.7 164.3h.01M353.6 143.0h.01M351.1 162.8h.01M345.4 160.9h.01M354.0 150.3h.01M351.2 158.3h.01M348.3 159.9h.01M353.1 163.5h.01M347.8 151.0h.01M356.0 160.7h.01M350.3 161.8h.01M355.2 163.6h.01M350.6 149.5h.01M346.1 159.5h.01M352.0 162.5h.01M348.5 157.9h.01M346.8 156.3h.01M351.5 146.0h.01M348.5 162.9h.01M350.2 163.0h.01M346.8 158.1h.01M352.6 133.4h.01M351.9 154.3h.01M350.4 163.4h.01M347.8 154.9h.01M352.0 159.4h.01M354.9 153.6h.01M348.6 162.1h.01M345.3 142.7h.01M345.1 163.4h.01M346.2 161.0h.01M350.1 159.5h.01M351.1 161.4h.01M348.1 151.8h.01M355.9 162.7h.01M345.2 158.4h.01M352.9 163.1h.01M355.4 158.4h.01M345.3 150.0h.01M355.7 149.6h.01M354.3 130.4h.01M353.7 137.8h.01M347.7 158.7h.01M345.3 164.2h.01M345.3 159.0h.01M349.6 162.9h.01M355.7 161.3h.01M350.9 162.2h.01M349.1 156.7h.01M355.5 148.0h.01M345.1 145.6h.01M349.2 159.8h.01M352.4 138.9h.01M352.7 159.5h.01M345.3 126.1h.01M345.5 126.7h.01M344.9 164.3h.01M348.0 143.6h.01M351.6 143.1h.01M355.7 163.8h.01M355.5 162.5h.01M350.7 141.3h.01M345.3 163.5h.01M346.6 161.6h.01M346.8 149.9h.01M345.4 158.3h.01M348.3 145.0h.01M352.9 164.1h.01M350.2 152.2h.01M348.2 149.6h.01M353.8 147.1h.01M353.2 157.7h.01M350.8 160.7h.01M345.0 154.2h.01M353.9 154.8h.01M356.1 132.9h.01M345.5 154.9h.01M344.9 123.6h.01M349.6 153.6h.01M355.3 147.0h.01M355.8 136.5h.01M344.5 139.2h.01M350.0 163.2h.01M354.4 152.9h.01M353.2 146.3h.01M346.7 157.6h.01M353.2 161.8h.01M344.5 154.6h.01M344.4 156.7h.01M344.3 157.9h.01M344.5 160.7h.01M344.4 162.9h.01M345.2 131.4h.01M345.2 134.7h.01M344.7 137.9h.01M345.1 140.4h.01M345.0 141.7h.01M345.1 143.2h.01M344.8 145.3h.01M345.0 147.8h.01M344.9 150.3h.01M344.9 152.0h.01M344.9 154.5h.01M345.2 157.2h.01M344.9 158.6h.01M345.0 159.9h.01M344.9 161.8h.01M345.0 163.4h.01M345.9 135.8h.01M345.5 137.5h.01M345.7 142.3h.01M345.8 143.9h.01M345.9 149.9h.01M345.9 154.3h.01M345.5 155.8h.01M345.9 157.3h.01M345.5 159.6h.01M345.6 160.9h.01M345.5 162.2h.01M346.5 145.6h.01M346.3 150.5h.01M346.3 152.6h.01M346.3 155.2h.01M346.5 157.6h.01M346.6 159.7h.01M346.6 161.3h.01M346.5 163.7h.01M346.9 146.6h.01M347.1 149.5h.01M346.8 151.3h.01M347.1 154.1h.01M346.9 155.9h.01M347.0 158.2h.01M347.2 160.2h.01M346.8 161.7h.01M347.1 164.3h.01M347.7 145.2h.01M347.6 153.0h.01M347.8 154.3h.01M347.7 155.6h.01M347.9 157.6h.01M347.5 160.1h.01M347.7 162.1h.01M347.5 163.9h.01M348.2 147.8h.01M348.6 149.3h.01M348.1 154.7h.01M348.2 157.4h.01M348.5 158.9h.01M348.6 160.6h.01M348.6 162.0h.01M348.2 163.9h.01M349.1 152.1h.01M349.0 154.0h.01M349.1 155.6h.01M349.1 157.9h.01M348.8 159.2h.01M349.1 160.5h.01M349.3 162.8h.01M349.3 164.1h.01M349.7 137.8h.01M349.8 144.9h.01M350.0 146.1h.01M350.0 147.8h.01M349.9 153.9h.01M349.6 155.6h.01M349.9 157.5h.01M349.6 159.3h.01M350.0 161.9h.01M349.7 163.7h.01M350.2 155.8h.01M350.0 158.6h.01M350.4 161.1h.01M350.4 163.4h.01M350.7 136.5h.01M350.9 140.2h.01M350.6 141.8h.01M350.9 143.5h.01M350.9 145.2h.01M350.6 150.1h.01M350.6 153.8h.01M350.8 155.2h.01M351.1 156.5h.01M351.0 157.8h.01M350.7 160.0h.01M350.8 162.6h.01M350.7 164.0h.01M351.2 128.3h.01M351.4 132.8h.01M351.3 140.8h.01M351.1 142.6h.01M351.5 149.3h.01M351.2 151.5h.01M351.3 154.8h.01M351.4 156.1h.01M351.5 158.8h.01M351.6 160.7h.01M351.1 162.3h.01M352.0 138.9h.01M351.8 140.2h.01M352.0 142.8h.01M352.0 147.1h.01M351.7 154.6h.01M351.9 155.9h.01M352.1 158.5h.01M351.7 161.3h.01M352.0 164.1h.01M352.8 143.5h.01M352.4 153.6h.01M352.6 155.9h.01M352.7 158.6h.01M352.8 160.1h.01M352.5 162.5h.01M353.3 132.1h.01M353.2 135.0h.01M353.4 138.9h.01M353.2 141.2h.01M353.3 142.7h.01M353.2 145.0h.01M353.3 146.8h.01M353.2 152.7h.01M353.2 154.1h.01M353.4 155.3h.01M353.4 157.6h.01M353.2 159.6h.01M353.1 162.0h.01M353.3 163.7h.01M354.2 138.2h.01M354.2 140.5h.01M354.0 145.6h.01M353.9 150.2h.01M353.8 151.8h.01M354.0 154.5h.01M353.9 157.0h.01M353.9 159.4h.01M354.1 161.3h.01M354.1 163.6h.01M354.3 129.5h.01M354.8 131.3h.01M354.8 133.9h.01M354.8 136.1h.01M354.3 138.4h.01M354.8 139.7h.01M354.4 148.9h.01M354.7 151.4h.01M354.4 152.7h.01M354.6 155.1h.01M354.4 156.4h.01M354.5 158.1h.01M354.6 160.2h.01M354.7 162.3h.01M355.1 133.2h.01M355.0 135.4h.01M355.4 142.2h.01M355.2 149.3h.01M355.1 151.9h.01M355.1 153.8h.01M355.3 155.5h.01M355.3 158.0h.01M355.5 159.5h.01M355.2 162.3h.01M355.4 163.6h.01M355.7 140.6h.01M355.7 142.5h.01M355.9 146.8h.01M355.7 150.2h.01M356.0 151.9h.01M356.0 153.4h.01M356.1 155.8h.01M355.9 158.6h.01M355.8 161.0h.01M356.0 162.7h.01M371.7 155.9h.01M375.0 160.5h.01M375.1 162.0h.01M372.9 163.8h.01M377.4 153.7h.01M377.9 161.2h.01M376.0 160.9h.01M373.3 161.8h.01M377.9 153.0h.01M379.1 163.9h.01M371.8 162.0h.01M377.7 162.5h.01M374.6 158.7h.01M378.3 163.7h.01M377.3 144.1h.01M371.7 130.3h.01M377.1 162.6h.01M378.1 141.9h.01M378.2 158.7h.01M377.2 163.7h.01M374.2 161.3h.01M380.7 150.8h.01M374.2 162.9h.01M371.1 158.8h.01M371.8 152.7h.01M376.2 148.6h.01M373.5 156.0h.01M377.7 157.2h.01M372.8 135.5h.01M374.0 162.1h.01M375.7 130.7h.01M375.8 158.9h.01M374.6 142.8h.01M375.3 159.4h.01M373.8 157.9h.01M376.4 158.1h.01M376.7 164.2h.01M375.8 164.2h.01M374.0 159.8h.01M376.3 154.2h.01M371.8 154.0h.01M373.7 162.0h.01M376.2 156.3h.01M380.5 156.2h.01M373.6 159.5h.01M372.2 127.1h.01M379.0 155.5h.01M377.0 160.0h.01M378.0 160.0h.01M374.0 154.7h.01M372.3 146.5h.01M372.5 154.7h.01M376.9 161.6h.01M377.9 162.5h.01M379.7 142.9h.01M376.2 162.5h.01M376.0 135.4h.01M376.2 158.3h.01M373.3 158.9h.01M379.2 161.1h.01M374.4 142.3h.01M371.5 156.8h.01M376.0 162.1h.01M375.9 147.9h.01M371.1 155.8h.01M374.7 142.9h.01M376.1 159.0h.01M372.8 158.9h.01M372.9 155.8h.01M379.1 159.3h.01M380.3 147.7h.01M375.8 155.4h.01M379.9 164.0h.01M380.7 148.4h.01M375.3 158.7h.01M374.2 140.0h.01M374.1 163.1h.01M378.3 161.3h.01M371.9 135.8h.01M371.3 142.2h.01M379.9 135.8h.01M374.8 161.1h.01M379.1 155.4h.01M374.5 144.2h.01M378.7 159.1h.01M371.3 156.9h.01M372.2 153.0h.01M374.6 156.8h.01M372.0 158.8h.01M371.6 163.9h.01M376.9 132.5h.01M374.6 151.6h.01M380.0 146.8h.01M371.0 128.9h.01M371.0 133.2h.01M371.2 135.2h.01M371.2 137.9h.01M371.0 140.8h.01M371.3 142.5h.01M371.2 145.2h.01M371.0 149.7h.01M371.2 151.4h.01M371.0 153.7h.01M371.0 155.1h.01M371.1 156.7h.01M371.0 159.0h.01M371.3 161.6h.01M371.0 163.9h.01M371.5 134.2h.01M371.6 135.8h.01M371.8 137.2h.01M371.5 143.3h.01M371.5 145.2h.01M371.7 146.5h.01M371.8 148.1h.01M371.8 152.9h.01M371.6 155.5h.01M371.7 156.9h.01M371.8 159.2h.01M371.6 162.0h.01M371.5 163.2h.01M372.0 146.3h.01M372.2 150.2h.01M372.2 152.5h.01M372.2 153.9h.01M372.1 156.4h.01M372.2 157.8h.01M372.1 159.6h.01M371.9 162.0h.01M373.0 139.2h.01M372.9 141.3h.01M372.7 143.2h.01M373.1 151.0h.01M373.1 153.2h.01M373.0 154.6h.01M373.1 156.5h.01M372.8 159.3h.01M372.8 160.8h.01M372.9 163.3h.01M373.5 129.2h.01M373.6 130.8h.01M373.3 136.7h.01M373.5 138.0h.01M373.7 140.8h.01M373.6 143.2h.01M373.7 145.0h.01M373.4 150.1h.01M373.4 152.5h.01M373.4 154.9h.01M373.2 157.7h.01M373.6 159.8h.01M373.4 161.6h.01M373.6 163.1h.01M373.8 146.2h.01M373.8 148.3h.01M373.8 152.5h.01M373.9 153.8h.01M373.8 156.1h.01M374.0 158.3h.01M373.9 160.6h.01M374.1 162.1h.01M374.7 142.0h.01M374.7 151.1h.01M374.7 153.7h.01M374.4 155.9h.01M374.5 158.2h.01M374.6 160.2h.01M374.5 162.5h.01M374.5 163.9h.01M375.0 131.6h.01M375.4 134.9h.01M375.1 138.3h.01M375.3 143.2h.01M375.3 147.2h.01M375.0 148.9h.01M374.9 150.9h.01M375.2 152.4h.01M375.3 154.1h.01M375.3 155.9h.01M374.9 157.1h.01M375.2 159.2h.01M375.1 161.7h.01M375.4 163.5h.01M375.8 149.6h.01M375.8 152.4h.01M375.5 155.1h.01M375.7 157.7h.01M375.6 159.3h.01M375.5 162.0h.01M375.5 163.9h.01M376.6 149.5h.01M376.4 154.0h.01M376.3 156.3h.01M376.2 159.0h.01M376.5 161.5h.01M376.4 163.0h.01M376.8 144.4h.01M376.7 149.6h.01M376.6 154.3h.01M376.8 157.1h.01M376.9 159.3h.01M376.6 161.9h.01M377.0 163.8h.01M377.6 125.3h.01M377.3 128.1h.01M377.5 129.6h.01M377.4 131.6h.01M377.2 135.3h.01M377.4 138.0h.01M377.3 139.6h.01M377.3 141.2h.01M377.5 142.9h.01M377.3 146.0h.01M377.4 147.8h.01M377.6 150.2h.01M377.3 151.5h.01M377.6 153.9h.01M377.3 155.7h.01M377.5 158.1h.01M377.6 160.0h.01M377.6 161.5h.01M377.4 163.5h.01M378.0 148.2h.01M377.8 152.2h.01M378.1 154.0h.01M378.2 156.6h.01M378.2 158.8h.01M378.2 160.4h.01M377.8 162.8h.01M378.7 137.5h.01M378.7 139.1h.01M378.3 140.5h.01M378.4 144.0h.01M378.8 148.1h.01M378.4 151.6h.01M378.3 154.4h.01M378.6 156.2h.01M378.7 157.6h.01M378.7 159.1h.01M378.6 160.7h.01M378.4 162.7h.01M379.5 136.5h.01M379.2 140.1h.01M379.0 142.0h.01M379.3 149.0h.01M379.4 153.3h.01M379.2 155.5h.01M379.4 158.2h.01M379.4 160.0h.01M379.3 162.5h.01M379.7 127.6h.01M379.7 133.5h.01M379.7 136.1h.01M379.7 138.5h.01M379.9 142.3h.01M379.6 144.6h.01M380.0 146.3h.01M379.6 147.6h.01M379.7 153.7h.01M379.8 155.6h.01M379.6 157.9h.01M379.8 159.8h.01M379.9 162.6h.01M380.4 134.4h.01M380.5 141.7h.01M380.2 144.2h.01M380.6 148.1h.01M380.3 150.6h.01M380.4 152.1h.01M380.6 153.9h.01M380.2 155.9h.01M380.2 157.6h.01M380.3 160.4h.01M380.7 162.9h.01M380.9 140.8h.01M380.8 145.0h.01M380.9 146.4h.01M380.8 148.7h.01M380.8 150.2h.01M381.0 153.0h.01M381.0 155.2h.01M380.7 157.5h.01M381.0 158.8h.01M380.9 160.7h.01M381.0 163.0h.01M396.0 159.0h.01M398.5 160.1h.01M395.5 155.1h.01M396.4 160.7h.01M398.3 161.6h.01M397.4 154.7h.01M399.7 160.2h.01M401.5 159.8h.01M400.5 155.6h.01M400.7 159.1h.01M397.2 133.3h.01M398.2 125.6h.01M402.7 147.0h.01M396.0 158.3h.01M394.8 160.5h.01M400.8 163.1h.01M395.9 146.8h.01M396.7 145.8h.01M399.5 138.2h.01M400.0 161.5h.01M396.7 152.3h.01M401.9 156.7h.01M403.2 162.9h.01M396.2 163.4h.01M397.6 158.4h.01M403.1 161.9h.01M396.5 162.2h.01M399.2 153.6h.01M396.0 154.1h.01M396.6 160.7h.01M396.8 146.2h.01M400.4 162.1h.01M395.2 158.4h.01M397.8 158.6h.01M397.0 153.9h.01M397.6 152.7h.01M395.6 159.5h.01M402.1 164.2h.01M397.6 156.6h.01M398.5 161.3h.01M398.6 130.0h.01M397.1 160.7h.01M399.7 148.4h.01M396.4 148.1h.01M401.2 163.1h.01M397.3 159.4h.01M395.8 153.3h.01M395.3 163.6h.01M402.8 161.8h.01M401.9 157.8h.01M399.7 145.0h.01M394.8 135.5h.01M394.8 137.3h.01M394.8 140.2h.01M394.8 142.4h.01M394.8 145.2h.01M394.8 149.4h.01M394.8 150.8h.01M395.0 155.0h.01M394.9 157.0h.01M394.8 159.3h.01M395.0 161.4h.01M394.8 163.1h.01M395.6 147.0h.01M395.5 148.9h.01M395.4 151.0h.01M395.7 155.8h.01M395.5 157.6h.01M395.6 158.9h.01M395.3 160.9h.01M395.3 163.5h.01M396.3 154.3h.01M395.9 156.8h.01M396.2 159.6h.01M396.1 160.9h.01M396.2 162.3h.01M396.3 163.6h.01M396.7 155.6h.01M397.0 157.8h.01M396.9 159.8h.01M396.9 161.2h.01M396.8 163.7h.01M397.6 145.3h.01M397.2 146.5h.01M397.4 150.1h.01M397.3 152.1h.01M397.2 154.0h.01M397.2 156.5h.01M397.4 159.0h.01M397.3 161.9h.01M397.3 163.9h.01M398.2 139.2h.01M398.1 145.2h.01M397.9 146.7h.01M398.3 151.2h.01M398.2 153.0h.01M398.2 154.9h.01M398.3 156.2h.01M398.3 158.9h.01M398.3 160.8h.01M398.4 163.1h.01M398.6 151.6h.01M398.7 156.4h.01M398.7 158.4h.01M398.8 160.8h.01M398.8 162.8h.01M399.2 151.0h.01M399.4 152.3h.01M399.2 155.1h.01M399.3 156.5h.01M399.3 158.2h.01M399.3 160.7h.01M399.5 162.5h.01M400.1 141.3h.01M399.9 143.7h.01M399.8 150.2h.01M399.9 154.4h.01M399.8 155.8h.01M399.7 158.4h.01M399.7 161.1h.01M400.2 162.6h.01M400.8 128.8h.01M400.6 130.4h.01M400.6 132.9h.01M400.3 138.7h.01M400.8 143.7h.01M400.7 150.1h.01M400.7 152.9h.01M400.7 154.7h.01M400.6 156.1h.01M400.8 158.7h.01M400.8 160.4h.01M400.6 162.0h.01M400.8 163.9h.01M401.2 150.8h.01M401.4 155.5h.01M401.4 157.6h.01M401.1 160.2h.01M401.2 162.9h.01M401.1 164.1h.01M401.8 137.1h.01M401.9 141.6h.01M401.9 144.5h.01M401.8 149.8h.01M402.1 151.9h.01M402.1 153.4h.01M401.9 154.7h.01M402.0 156.6h.01M401.7 158.6h.01M401.6 161.3h.01M402.0 163.8h.01M402.5 144.4h.01M402.6 149.3h.01M402.4 152.9h.01M402.5 156.3h.01M402.7 159.1h.01M402.5 161.0h.01M402.7 163.0h.01M403.2 133.5h.01M402.8 138.2h.01M403.1 145.7h.01M402.7 147.3h.01M402.8 148.8h.01M402.9 150.6h.01M403.2 152.2h.01M402.8 154.8h.01M402.9 156.3h.01M402.8 157.9h.01M402.8 159.4h.01M403.0 162.0h.01M415.7 159.6h.01M418.9 164.2h.01M422.4 158.7h.01M420.3 137.3h.01M415.0 160.3h.01M421.7 123.8h.01M416.6 158.5h.01M420.7 156.1h.01M414.9 160.5h.01M421.6 164.0h.01M416.2 156.3h.01M415.7 161.5h.01M417.1 139.3h.01M421.0 156.2h.01M416.3 132.2h.01M415.8 131.1h.01M421.7 160.9h.01M419.9 154.4h.01M415.3 127.1h.01M420.9 163.7h.01M415.1 157.5h.01M420.4 163.3h.01M419.1 152.5h.01M419.2 159.8h.01M417.3 145.3h.01M415.2 162.9h.01M415.8 161.8h.01M420.8 161.3h.01M421.7 163.8h.01M421.9 163.8h.01M421.2 164.2h.01M421.3 145.3h.01M420.7 162.6h.01M422.2 163.4h.01M418.0 146.1h.01M421.6 150.4h.01M415.7 148.0h.01M419.9 156.2h.01M416.6 160.7h.01M418.4 163.3h.01M416.7 163.3h.01M421.3 160.2h.01M418.6 160.6h.01M419.4 162.9h.01M415.4 129.5h.01M415.6 145.5h.01M417.0 130.3h.01M418.7 151.0h.01M420.4 162.2h.01M419.0 155.8h.01M415.3 164.2h.01M418.0 162.4h.01M420.8 154.0h.01M419.9 138.4h.01M419.9 155.8h.01M419.9 163.5h.01M421.2 154.1h.01M420.9 162.2h.01M414.9 146.8h.01M414.9 149.4h.01M414.9 154.8h.01M414.9 156.2h.01M414.9 159.1h.01M415.1 161.3h.01M415.0 163.2h.01M415.6 140.6h.01M415.4 142.3h.01M415.7 143.8h.01M415.6 150.6h.01M415.5 153.4h.01M415.4 155.1h.01M415.6 157.7h.01M415.4 159.1h.01M415.5 160.5h.01M415.8 161.7h.01M415.8 164.1h.01M416.1 138.9h.01M416.1 141.8h.01M416.2 148.8h.01M416.1 153.5h.01M416.1 155.3h.01M416.3 156.9h.01M416.5 159.7h.01M416.1 161.1h.01M416.4 163.7h.01M416.5 130.2h.01M416.7 134.6h.01M416.9 136.7h.01M416.6 138.8h.01M416.6 141.3h.01M416.5 143.9h.01M416.7 151.0h.01M416.5 152.9h.01M416.5 155.1h.01M416.9 156.8h.01M416.8 158.7h.01M416.8 161.2h.01M416.7 163.8h.01M417.6 137.1h.01M417.6 140.7h.01M417.6 143.1h.01M417.3 147.1h.01M417.7 148.4h.01M417.7 150.7h.01M417.6 152.8h.01M417.6 155.3h.01M417.5 156.9h.01M417.7 158.9h.01M417.3 160.5h.01M417.2 161.9h.01M417.8 150.3h.01M418.1 155.4h.01M418.2 156.6h.01M418.0 159.5h.01M417.8 162.2h.01M417.9 163.4h.01M418.6 130.0h.01M418.3 132.7h.01M418.4 136.5h.01M418.3 140.9h.01M418.7 142.2h.01M418.7 146.1h.01M418.6 151.4h.01M418.7 154.1h.01M418.4 155.9h.01M418.7 157.9h.01M418.6 159.4h.01M418.5 161.1h.01M418.5 164.0h.01M419.5 150.9h.01M419.0 153.1h.01M419.2 154.4h.01M419.2 155.6h.01M419.3 157.9h.01M419.3 159.3h.01M419.4 161.9h.01M420.0 143.0h.01M419.7 144.8h.01M419.9 146.5h.01M419.9 148.5h.01M419.6 149.8h.01M419.8 152.2h.01M419.6 154.9h.01M419.8 156.8h.01M419.9 158.6h.01M419.6 160.9h.01M420.0 163.4h.01M420.0 134.0h.01M420.4 136.7h.01M420.2 138.0h.01M420.3 140.3h.01M420.4 144.6h.01M420.0 147.1h.01M420.2 152.5h.01M420.4 155.3h.01M420.2 157.2h.01M420.2 159.2h.01M420.3 160.8h.01M420.1 162.9h.01M420.7 129.4h.01M420.7 131.7h.01M420.6 134.1h.01M420.9 135.9h.01M420.7 137.1h.01M420.8 139.2h.01M421.0 141.4h.01M420.9 143.7h.01M420.9 147.7h.01M420.7 149.4h.01M421.0 150.7h.01M420.7 152.6h.01M420.6 154.0h.01M421.0 156.0h.01M420.6 157.6h.01M420.8 158.9h.01M420.7 161.4h.01M420.9 162.9h.01M420.6 164.1h.01M421.6 148.9h.01M421.2 150.6h.01M421.7 152.3h.01M421.7 154.2h.01M421.5 156.8h.01M421.5 158.4h.01M421.4 160.0h.01M421.4 162.6h.01M421.7 146.0h.01M421.8 148.4h.01M422.1 149.8h.01M421.7 151.3h.01M421.9 154.1h.01M422.2 156.1h.01M422.0 158.9h.01M422.0 160.5h.01M421.9 163.3h.01M437.4 157.5h.01M436.3 150.8h.01M434.0 163.9h.01M434.4 161.5h.01M437.6 163.8h.01M440.8 129.3h.01M434.2 161.3h.01M437.0 159.7h.01M440.6 127.4h.01M435.3 163.6h.01M436.4 150.9h.01M439.6 140.9h.01M440.6 149.1h.01M434.5 147.8h.01M437.4 163.8h.01M438.5 156.9h.01M437.8 135.6h.01M440.1 157.2h.01M436.0 161.8h.01M435.7 148.8h.01M436.7 160.9h.01M439.4 157.9h.01M434.5 162.2h.01M435.4 155.3h.01M437.7 148.1h.01M435.1 147.3h.01M434.6 156.6h.01M436.3 163.6h.01M439.3 152.2h.01M437.7 151.5h.01M433.9 125.9h.01M435.4 161.4h.01M440.9 155.2h.01M439.0 154.8h.01M440.6 164.0h.01M434.3 153.0h.01M440.7 159.8h.01M434.3 162.6h.01M440.0 142.2h.01M440.1 162.7h.01M436.0 156.6h.01M435.5 150.0h.01M439.4 158.1h.01M437.0 154.8h.01M438.0 145.3h.01M440.1 162.3h.01M440.4 143.8h.01M440.7 163.9h.01M434.1 135.9h.01M437.5 155.8h.01M439.6 129.9h.01M434.9 154.9h.01M436.5 140.0h.01M434.9 164.0h.01M435.7 146.6h.01M435.2 163.8h.01M439.8 152.9h.01M436.3 158.1h.01M434.7 154.6h.01M436.9 162.2h.01M438.8 158.5h.01M435.1 145.8h.01M434.0 144.1h.01M437.2 163.4h.01M433.9 160.4h.01M437.6 154.2h.01M434.6 163.8h.01M439.1 160.3h.01M434.3 144.4h.01M436.6 157.9h.01M438.7 145.8h.01M436.8 148.3h.01M440.2 164.1h.01M436.9 164.2h.01M438.7 161.5h.01M436.7 136.3h.01M437.9 163.9h.01M438.0 154.2h.01M440.0 160.1h.01M439.9 157.2h.01M438.9 163.6h.01M440.1 162.2h.01M436.9 160.2h.01M438.7 156.4h.01M438.1 146.2h.01M436.0 128.7h.01M437.5 161.7h.01M440.9 164.3h.01M439.5 142.7h.01M433.8 125.5h.01M434.0 127.0h.01M433.8 131.4h.01M433.9 132.6h.01M433.9 134.8h.01M433.8 137.5h.01M433.9 142.6h.01M434.0 148.2h.01M433.8 151.8h.01M433.8 153.2h.01M433.8 155.5h.01M433.8 158.3h.01M433.8 159.5h.01M433.9 161.9h.01M434.5 140.5h.01M434.2 145.1h.01M434.7 149.2h.01M434.3 151.0h.01M434.5 152.6h.01M434.6 154.4h.01M434.3 156.0h.01M434.7 158.5h.01M434.6 160.6h.01M434.7 162.3h.01M435.2 142.4h.01M434.9 148.8h.01M435.0 151.6h.01M434.8 154.4h.01M435.1 156.7h.01M434.8 158.8h.01M435.1 161.1h.01M434.9 164.0h.01M435.8 149.8h.01M435.8 151.2h.01M435.5 153.3h.01M435.7 155.3h.01M435.7 157.0h.01M435.6 159.4h.01M435.9 161.5h.01M436.0 163.7h.01M436.5 142.9h.01M436.1 147.5h.01M436.2 148.8h.01M436.4 151.0h.01M436.1 153.2h.01M436.1 155.7h.01M436.4 157.1h.01M436.4 159.6h.01M436.5 162.3h.01M437.1 144.1h.01M436.8 145.5h.01M436.9 146.7h.01M437.2 150.4h.01M437.0 152.4h.01M437.1 155.2h.01M437.1 157.5h.01M437.1 159.7h.01M436.8 161.3h.01M437.2 162.5h.01M437.2 164.0h.01M437.4 132.7h.01M437.7 137.1h.01M437.4 144.8h.01M437.3 152.3h.01M437.2 154.4h.01M437.4 155.6h.01M437.4 158.5h.01M437.6 161.2h.01M437.2 163.4h.01M438.4 136.6h.01M438.4 138.8h.01M438.2 140.1h.01M438.1 144.9h.01M438.0 146.5h.01M438.5 147.8h.01M438.1 149.5h.01M438.4 151.0h.01M438.2 152.8h.01M438.0 155.7h.01M438.2 157.1h.01M438.0 159.5h.01M438.4 161.7h.01M438.1 163.1h.01M438.8 127.6h.01M439.1 130.5h.01M439.1 137.9h.01M439.1 140.1h.01M439.0 142.2h.01M438.9 147.0h.01M439.0 151.6h.01M439.0 153.3h.01M439.0 155.5h.01M439.0 157.4h.01M438.7 160.1h.01M438.7 161.7h.01M438.8 163.7h.01M439.3 146.5h.01M439.2 148.4h.01M439.3 152.6h.01M439.5 153.8h.01M439.3 155.9h.01M439.5 158.7h.01M439.2 160.7h.01M439.4 162.7h.01M439.6 164.1h.01M439.9 153.1h.01M440.0 155.1h.01M440.0 157.6h.01M439.8 159.4h.01M440.1 161.3h.01M440.1 163.9h.01M440.7 127.2h.01M440.5 128.7h.01M440.4 130.9h.01M440.5 133.0h.01M440.4 139.4h.01M440.6 142.6h.01M440.6 147.0h.01M440.6 148.6h.01M440.4 151.5h.01M440.8 153.7h.01M440.4 156.0h.01M440.7 158.7h.01M440.7 160.6h.01M440.7 163.3h.01M458.0 155.7h.01M454.8 159.1h.01M457.4 163.1h.01M458.7 161.1h.01M457.6 164.3h.01M453.2 142.2h.01M453.9 147.1h.01M455.4 156.9h.01M458.4 161.0h.01M456.5 162.7h.01M454.4 146.9h.01M455.2 141.2h.01M453.1 138.6h.01M458.1 158.5h.01M455.1 157.2h.01M455.3 138.1h.01M455.8 152.4h.01M454.3 161.1h.01M456.2 155.1h.01M457.8 146.3h.01M454.6 160.5h.01M454.4 163.2h.01M457.8 157.1h.01M453.0 161.6h.01M458.4 152.4h.01M455.1 159.0h.01M454.6 155.9h.01M454.6 145.2h.01M454.4 143.7h.01M453.9 154.6h.01M454.4 158.5h.01M456.8 163.3h.01M453.7 154.1h.01M454.3 146.0h.01M453.0 140.3h.01M452.9 142.7h.01M453.0 144.5h.01M452.9 147.3h.01M453.0 149.3h.01M452.9 156.4h.01M452.9 158.2h.01M452.9 160.7h.01M452.9 162.5h.01M453.4 137.6h.01M453.6 143.7h.01M453.5 147.4h.01M453.2 153.6h.01M453.5 156.4h.01M453.3 159.2h.01M453.2 161.0h.01M453.4 163.5h.01M453.9 151.8h.01M453.8 154.3h.01M454.1 156.0h.01M453.7 158.1h.01M453.7 160.8h.01M453.8 163.3h.01M454.3 146.6h.01M454.4 149.7h.01M454.7 156.2h.01M454.3 157.8h.01M454.7 159.2h.01M454.3 161.2h.01M454.7 162.6h.01M455.0 155.6h.01M455.2 158.0h.01M454.9 160.4h.01M454.9 161.7h.01M455.1 163.4h.01M455.7 142.7h.01M455.7 146.3h.01M455.8 151.7h.01M455.6 153.2h.01M455.4 156.9h.01M455.8 159.7h.01M455.5 162.4h.01M456.1 157.3h.01M456.4 160.1h.01M456.3 161.4h.01M456.4 163.4h.01M456.7 146.0h.01M457.0 151.7h.01M456.7 154.5h.01M456.7 156.0h.01M456.7 157.5h.01M456.5 159.0h.01M456.5 161.2h.01M456.9 163.4h.01M457.4 140.7h.01M457.2 145.0h.01M457.3 147.0h.01M457.6 149.2h.01M457.4 151.6h.01M457.2 153.9h.01M457.2 156.5h.01M457.3 158.8h.01M457.3 161.0h.01M457.5 163.8h.01M457.6 136.0h.01M457.7 140.7h.01M458.1 141.9h.01M457.8 144.9h.01M457.8 148.0h.01M457.7 155.0h.01M457.8 157.8h.01M457.7 160.1h.01M457.9 162.7h.01M458.4 138.4h.01M458.4 142.7h.01M458.5 146.4h.01M458.4 152.8h.01M458.4 154.1h.01M458.6 156.4h.01M458.6 158.1h.01M458.6 159.6h.01M458.5 161.5h.01M469.6 151.9h.01M469.5 126.6h.01M469.3 144.8h.01M470.6 153.7h.01M470.6 161.0h.01M469.7 160.3h.01M470.4 160.2h.01M470.6 163.0h.01M470.9 160.2h.01M469.6 159.2h.01M470.9 163.1h.01M471.0 131.7h.01M469.0 159.2h.01M468.6 155.9h.01M470.1 162.3h.01M469.5 161.7h.01M469.1 162.4h.01M470.5 152.6h.01M468.4 162.4h.01M470.8 138.3h.01M468.3 139.2h.01M470.5 161.7h.01M468.5 154.0h.01M470.0 156.2h.01M470.8 162.9h.01M470.2 148.3h.01M468.5 153.3h.01M470.5 162.8h.01M470.8 159.9h.01M471.1 158.9h.01M469.2 160.6h.01M468.3 138.2h.01M468.4 140.1h.01M468.4 142.0h.01M468.3 143.3h.01M468.3 145.0h.01M468.4 153.8h.01M468.5 155.2h.01M468.3 157.4h.01M468.3 158.8h.01M468.3 160.6h.01M468.3 162.1h.01M468.5 163.9h.01M468.8 148.9h.01M468.9 154.3h.01M468.8 156.0h.01M468.7 157.7h.01M468.7 159.8h.01M468.9 161.4h.01M468.9 162.6h.01M469.6 140.5h.01M469.6 143.0h.01M469.4 144.8h.01M469.2 149.7h.01M469.5 152.5h.01M469.2 153.9h.01M469.5 155.2h.01M469.5 156.5h.01M469.4 157.7h.01M469.5 159.4h.01M469.6 162.3h.01M470.1 131.5h.01M470.3 137.0h.01M470.0 141.4h.01M470.1 143.5h.01M470.1 148.7h.01M470.0 151.3h.01M470.1 153.7h.01M469.9 155.2h.01M470.0 157.9h.01M470.3 160.6h.01M469.9 162.4h.01M470.2 164.2h.01M470.6 140.8h.01M470.7 144.4h.01M470.9 146.3h.01M470.7 149.4h.01M470.9 152.1h.01M470.8 154.8h.01M470.6 156.2h.01M470.9 158.0h.01M470.6 160.5h.01M470.5 162.1h.01M470.8 163.9h.01M471.1 146.2h.01M471.1 148.9h.01M471.2 150.9h.01M471.2 153.4h.01M471.2 155.0h.01M471.4 157.2h.01M471.3 159.1h.01M471.2 160.6h.01M471.1 163.3h.01M480.5 145.8h.01M480.2 147.9h.01M481.4 160.9h.01M480.2 154.0h.01M480.9 157.6h.01M482.1 162.7h.01M482.5 155.6h.01M480.7 158.2h.01M480.2 162.9h.01M480.2 163.7h.01M480.6 158.1h.01M481.0 154.7h.01M480.5 147.7h.01M480.3 152.6h.01M479.8 161.7h.01M479.6 149.2h.01M479.6 150.7h.01M479.6 153.1h.01M479.8 155.6h.01M479.6 157.6h.01M479.6 159.7h.01M479.6 162.1h.01M480.0 154.7h.01M480.3 157.7h.01M480.4 160.5h.01M479.9 163.1h.01M480.6 154.9h.01M480.8 156.9h.01M480.4 159.1h.01M480.8 160.4h.01M480.7 162.4h.01M481.0 154.6h.01M481.3 155.9h.01M481.4 158.3h.01M481.3 161.0h.01M481.3 162.7h.01M481.9 131.9h.01M481.8 133.4h.01M481.6 135.7h.01M481.7 137.4h.01M481.6 148.4h.01M481.8 150.2h.01M481.6 152.4h.01M481.6 154.0h.01M481.9 158.2h.01M481.8 159.6h.01M481.8 161.6h.01M481.8 162.8h.01M482.4 154.5h.01M482.6 157.6h.01M482.1 159.9h.01M482.2 161.7h.01M482.5 162.9h.01M491.4 146.5h.01M491.6 164.2h.01M491.8 154.9h.01M491.0 160.6h.01M491.6 150.6h.01M491.5 164.0h.01M491.8 151.5h.01M491.5 162.7h.01M491.8 154.1h.01M490.8 148.3h.01M490.6 150.1h.01M490.6 154.8h.01M490.6 157.6h.01M490.6 159.2h.01M490.7 162.0h.01M491.3 137.8h.01M491.2 141.8h.01M491.1 143.6h.01M491.2 149.8h.01M491.1 157.2h.01M491.2 159.9h.01M491.3 161.7h.01M491.4 164.2h.01M499.7 155.8h.01M500.2 143.5h.01M499.9 160.0h.01M500.2 146.9h.01M499.7 144.7h.01M499.7 149.0h.01M499.7 151.9h.01M499.9 153.8h.01M499.7 156.5h.01M499.9 158.4h.01M499.7 160.9h.01M499.7 162.8h.01M513.0 164.2h.01M513.8 125.4h.01M511.7 156.6h.01M515.6 148.5h.01M508.1 159.9h.01M508.8 162.8h.01M513.9 157.6h.01M509.4 163.9h.01M506.7 162.2h.01M514.2 160.5h.01M505.9 157.3h.01M505.9 163.9h.01M506.7 152.6h.01M506.8 153.8h.01M506.8 155.0h.01M506.5 157.9h.01M506.4 159.8h.01M506.8 163.6h.01M507.3 146.0h.01M507.0 149.9h.01M507.0 153.4h.01M507.1 155.8h.01M507.2 157.1h.01M507.4 162.2h.01M507.1 164.2h.01M508.0 140.7h.01M508.1 144.6h.01M507.8 145.8h.01M508.0 147.4h.01M507.9 148.9h.01M507.7 151.1h.01M508.0 152.5h.01M507.7 154.9h.01M508.1 160.0h.01M507.7 162.1h.01M508.3 151.9h.01M508.1 154.5h.01M508.6 160.9h.01M508.3 163.2h.01M509.1 139.5h.01M509.0 144.2h.01M509.1 148.2h.01M508.9 151.0h.01M508.8 152.4h.01M509.1 159.8h.01M509.4 147.9h.01M509.5 150.4h.01M509.9 152.7h.01M509.6 154.3h.01M509.8 156.1h.01M509.7 163.9h.01M510.3 150.9h.01M510.5 156.6h.01M510.4 158.9h.01M510.3 163.6h.01M510.8 144.6h.01M510.6 147.3h.01M510.9 149.7h.01M511.0 151.8h.01M510.9 159.2h.01M510.7 163.3h.01M511.5 158.0h.01M511.5 161.4h.01M511.6 163.8h.01M512.0 143.0h.01M512.0 144.5h.01M512.1 146.7h.01M512.0 151.8h.01M512.0 153.0h.01M511.9 154.3h.01M511.9 156.0h.01M511.9 157.6h.01M511.8 161.8h.01M512.5 144.4h.01M512.4 149.2h.01M512.4 153.3h.01M512.6 159.6h.01M512.7 163.6h.01M513.3 152.0h.01M513.2 154.8h.01M513.4 156.8h.01M513.3 160.6h.01M513.0 163.1h.01M513.9 138.8h.01M513.8 143.0h.01M513.7 149.0h.01M513.8 151.8h.01M513.7 154.7h.01M513.8 156.2h.01M513.6 160.3h.01M514.0 162.7h.01M514.6 159.9h.01M514.5 161.7h.01M514.5 163.8h.01M514.9 144.4h.01M515.1 159.5h.01M515.0 161.0h.01M514.9 163.8h.01M515.5 144.2h.01M515.7 146.7h.01M515.6 151.7h.01M515.6 156.1h.01M515.7 158.2h.01M515.8 160.9h.01M515.7 163.5h.01M316.4 73.2h.01M353.0 93.2h.01M375.4 98.7h.01M479.6 86.6h.01M480.4 87.4h.01M453.0 102.8h.01M458.2 109.0h.01M316.2 111.0h.01M316.2 113.5h.01M316.2 121.3h.01M326.2 110.0h.01M326.2 113.7h.01M325.2 119.0h.01M325.2 121.6h.01M311.8 140.0h.01M316.0 140.0h.01M353.0 111.0h.01M353.0 113.0h.01M348.7 122.5h.01M350.3 124.0h.01M345.1 128.3h.01M345.1 131.0h.01M347.0 134.0h.01M349.0 137.0h.01M349.0 140.0h.01M376.5 109.5h.01M378.0 109.5h.01M376.5 120.5h.01M376.5 122.5h.01M378.0 122.0h.01M376.5 124.5h.01M371.5 127.5h.01M373.5 126.0h.01M374.0 130.0h.01M378.0 129.0h.01M376.0 133.0h.01M373.0 135.0h.01M399.3 108.0h.01M399.3 110.0h.01M399.3 121.6h.01M399.3 127.5h.01M399.6 135.4h.01M402.4 129.0h.01M402.4 136.0h.01M469.0 120.2h.01M500.4 132.2h.01M500.0 137.0h.01M506.7 139.3h.01M507.0 142.0h.01M316.4 76.0h.01M316.4 77.6h.01M316.4 79.2h.01M316.4 80.8h.01M316.4 82.4h.01M316.4 84.0h.01M316.2 125.0h.01M316.2 126.9h.01M316.2 128.8h.01M316.2 130.7h.01M316.2 132.6h.01M316.2 134.5h.01M316.2 136.4h.01M316.2 138.3h.01M316.2 140.2h.01M316.2 142.1h.01M316.2 144.0h.01M316.2 145.9h.01M326.0 127.5h.01M326.0 129.2h.01M326.0 130.9h.01M326.0 132.6h.01M326.0 134.3h.01M326.0 136.0h.01M326.0 137.7h.01M326.0 139.4h.01M326.0 141.1h.01M326.0 142.8h.01M326.0 144.5h.01M353.0 120.5h.01M353.0 122.5h.01M353.0 124.5h.01M353.0 126.5h.01M353.0 128.5h.01M353.0 130.5h.01M353.0 132.5h.01M353.0 134.5h.01M353.0 136.5h.01M353.0 138.5h.01M353.0 140.5h.01M353.0 142.5h.01M353.0 144.5h.01M396.2 130.7h.01M396.2 132.1h.01M396.2 133.5h.01M396.2 134.9h.01M396.2 136.3h.01M396.2 137.7h.01M396.2 139.1h.01M396.2 140.5h.01M396.2 141.9h.01M396.2 143.3h.01M396.2 144.7h.01M416.4 125.0h.01M416.4 126.3h.01M416.4 127.6h.01M416.4 128.9h.01M416.4 130.2h.01M416.4 131.5h.01M416.4 132.8h.01M416.4 134.1h.01M416.4 135.4h.01M416.4 136.7h.01M416.4 138.0h.01M416.4 139.3h.01M416.4 140.6h.01M416.4 141.9h.01M416.4 143.2h.01M416.4 144.5h.01M416.4 145.8h.01M421.1 93.5h.01M421.1 96.1h.01M421.1 98.7h.01M421.1 101.3h.01M421.1 103.9h.01M421.1 106.5h.01M421.1 109.1h.01M421.1 111.7h.01M421.1 114.3h.01M421.1 116.9h.01M421.1 119.5h.01M421.1 122.1h.01M421.1 128.3h.01M421.1 129.7h.01M421.1 131.1h.01M421.1 132.5h.01M421.1 133.9h.01M421.1 135.3h.01M421.1 136.7h.01M421.1 138.1h.01M421.1 139.5h.01M421.1 140.9h.01M421.1 142.3h.01M421.1 143.7h.01M421.1 145.1h.01M440.3 91.2h.01M440.3 92.2h.01M440.3 93.2h.01M440.3 94.2h.01M440.3 95.2h.01M440.3 96.2h.01M440.3 97.2h.01M440.3 98.2h.01M440.3 99.2h.01M440.3 100.2h.01M440.4 105.5h.01M440.4 106.6h.01M440.4 107.7h.01M440.4 108.8h.01M440.4 109.9h.01M440.4 111.0h.01M440.4 112.1h.01M440.4 113.2h.01M440.4 114.3h.01M440.4 115.4h.01M440.4 119.0h.01M440.4 121.3h.01M440.4 123.6h.01M440.4 125.9h.01M440.4 128.2h.01M440.4 130.5h.01M440.4 132.8h.01M440.4 135.1h.01M440.4 137.4h.01M440.4 139.7h.01M440.4 142.0h.01M440.4 144.3h.01M435.2 119.7h.01M435.2 121.9h.01M435.2 124.1h.01M436.3 126.0h.01M436.3 128.0h.01M435.5 130.0h.01M435.4 132.0h.01M435.2 134.0h.01M434.6 136.0h.01M435.8 138.0h.01M436.2 140.0h.01M434.6 142.0h.01M435.8 144.0h.01M434.3 146.0h.01M437.6 127.0h.01M437.6 129.2h.01M437.3 131.4h.01M437.6 133.6h.01M436.9 135.8h.01M437.6 138.0h.01M438.2 140.2h.01M437.6 142.4h.01M436.5 144.6h.01M458.0 109.5h.01M458.0 112.0h.01M458.0 114.5h.01M458.0 117.0h.01M458.0 119.5h.01M458.0 122.0h.01M458.0 124.5h.01M458.0 127.0h.01M458.0 129.5h.01M458.0 132.0h.01M458.0 134.5h.01M458.0 137.0h.01M458.0 126.7h.01M458.0 128.2h.01M458.0 129.7h.01M458.0 131.2h.01M458.0 132.7h.01M458.0 134.2h.01M458.0 135.7h.01M458.0 137.2h.01M458.0 138.7h.01M458.0 140.2h.01M458.0 141.7h.01M458.0 143.2h.01M458.0 144.7h.01M469.0 126.0h.01M469.0 127.5h.01M469.0 129.0h.01M469.0 130.5h.01M469.0 132.0h.01M469.0 133.5h.01M469.0 135.0h.01M469.0 136.5h.01M469.0 138.0h.01M469.0 139.5h.01M469.0 141.0h.01M469.0 142.5h.01M469.0 144.0h.01M469.0 145.5h.01M471.0 127.0h.01M471.0 128.6h.01M471.0 130.2h.01M471.0 131.8h.01M471.0 133.4h.01M471.0 135.0h.01M471.0 136.6h.01M471.0 138.2h.01M471.0 139.8h.01M471.0 141.4h.01M471.0 143.0h.01M471.0 144.6h.01M480.0 134.6h.01M480.0 136.2h.01M480.0 137.8h.01M480.0 139.4h.01M480.0 141.0h.01M480.0 142.6h.01M480.0 144.2h.01M480.0 145.8h.01M492.0 129.0h.01M492.0 131.4h.01M492.0 133.8h.01M492.0 136.2h.01M492.0 138.6h.01M492.0 141.0h.01M492.0 143.4h.01M492.0 145.8h.01" stroke="#141414" stroke-width="2.1" stroke-linecap="round" fill="none"/>
<path d="M320.25 120L320.95000000000005 120L320.70000000000005 164L320.5 164Z" fill="#fff"/>
<path d="M305.3 28.8V224.75M302.5 224.75H520" stroke="#141414" stroke-width="1.1" fill="none"/>
<path d="M302.5 224.50h2.8M302.5 176.38h2.8M302.5 128.26h2.8M302.5 80.14h2.8M302.5 32.02h2.8M319.90 224.5v3.6M336.50 224.5v3.6M351.60 224.5v3.6M364.65 224.5v3.6M376.50 224.5v3.6M388.70 224.5v3.6M400.00 224.5v3.6M410.00 224.5v3.6M419.50 224.5v3.6M429.30 224.5v3.6M438.40 224.5v3.6M447.50 224.5v3.6M456.70 224.5v3.6M464.50 224.5v3.6M470.80 224.5v3.6M476.60 224.5v3.6M482.20 224.5v3.6M487.70 224.5v3.6M492.10 224.5v3.6M496.35 224.5v3.6M500.30 224.5v3.6M504.30 224.5v3.6M510.90 224.5v3.6" stroke="#141414" stroke-width="0.9" fill="none"/>
<text x="299.0" y="227.45" text-anchor="end" class="tk">0</text>
<text x="299.0" y="179.33" text-anchor="end" class="tk">2</text>
<text x="299.0" y="131.21" text-anchor="end" class="tk">4</text>
<text x="299.0" y="83.09" text-anchor="end" class="tk">6</text>
<text x="299.0" y="34.97" text-anchor="end" class="tk">8</text>
<text x="319.90" y="238.3" text-anchor="middle" class="tk">1</text>
<text x="336.50" y="238.3" text-anchor="middle" class="tk">2</text>
<text x="351.60" y="238.3" text-anchor="middle" class="tk">3</text>
<text x="364.65" y="238.3" text-anchor="middle" class="tk">4</text>
<text x="376.50" y="238.3" text-anchor="middle" class="tk">5</text>
<text x="388.70" y="238.3" text-anchor="middle" class="tk">6</text>
<text x="400.00" y="238.3" text-anchor="middle" class="tk">7</text>
<text x="410.00" y="238.3" text-anchor="middle" class="tk">8</text>
<text x="419.50" y="238.3" text-anchor="middle" class="tk">9</text>
<text x="438.40" y="238.3" text-anchor="middle" class="tk">11</text>
<text x="456.70" y="238.3" text-anchor="middle" class="tk">13</text>
<text x="470.80" y="238.3" text-anchor="middle" class="tk">15</text>
<text x="487.70" y="238.3" text-anchor="middle" class="tk">18</text>
<text x="500.30" y="238.3" text-anchor="middle" class="tk">21</text>
<text x="394.5" y="252.7" class="ax" textLength="39" lengthAdjust="spacingAndGlyphs">Chromosome</text>
<text transform="translate(285.8 141.8) rotate(-90)" class="ay" textLength="29.5" lengthAdjust="spacingAndGlyphs">-log<tspan font-size="5.6" dy="1.5">10</tspan><tspan dy="-1.5">(</tspan><tspan font-style="italic">P</tspan>)</text>
<text x="197" y="23.8" class="an" textLength="25.5" lengthAdjust="spacingAndGlyphs">CRYL1</text>
<path d="M197.00 26.00L192.40 29.77" stroke="#141414" stroke-width="0.85" fill="none"/><path d="M189.30 32.30L191.19 28.30L193.60 31.24Z" fill="#141414"/>
<text x="156" y="56.2" class="an" textLength="18.5" lengthAdjust="spacingAndGlyphs">VWF</text>
<path d="M166.25 59.50L170.80 62.90" stroke="#141414" stroke-width="0.85" fill="none"/><path d="M174.00 65.30L169.66 64.42L171.94 61.38Z" fill="#141414"/>
<text x="204.5" y="62.6" class="an" textLength="37.5" lengthAdjust="spacingAndGlyphs">ADAMTS7</text>
<path d="M216.00 65.00L211.50 68.39" stroke="#141414" stroke-width="0.85" fill="none"/><path d="M208.30 70.80L210.35 66.88L212.64 69.91Z" fill="#141414"/>
<text x="313.75" y="35.4" class="an" textLength="86.75" lengthAdjust="spacingAndGlyphs">TNNI3K; FPGT-TNNI3K</text>
<path d="M316.25 40.00L316.25 64.50" stroke="#141414" stroke-width="0.85" fill="none"/><path d="M316.25 68.50L314.35 64.50L318.15 64.50Z" fill="#141414"/>
<text x="342.5" y="57.9" class="an" textLength="26.75" lengthAdjust="spacingAndGlyphs">LRP1B</text>
<path d="M346.25 61.25L342.22 64.22" stroke="#141414" stroke-width="0.85" fill="none"/><path d="M339.00 66.60L341.09 62.70L343.35 65.75Z" fill="#141414"/>
<text x="462" y="64.1" class="an" textLength="37.25" lengthAdjust="spacingAndGlyphs">linc02288</text>
<path d="M473.75 67.50L469.64 71.00" stroke="#141414" stroke-width="0.85" fill="none"/><path d="M466.60 73.60L468.41 69.56L470.88 72.45Z" fill="#141414"/>
<text x="-0.2" y="10.9" class="pl">A</text>
<text x="266.3" y="10.6" class="pl">B</text>
</svg>
</body></html>
